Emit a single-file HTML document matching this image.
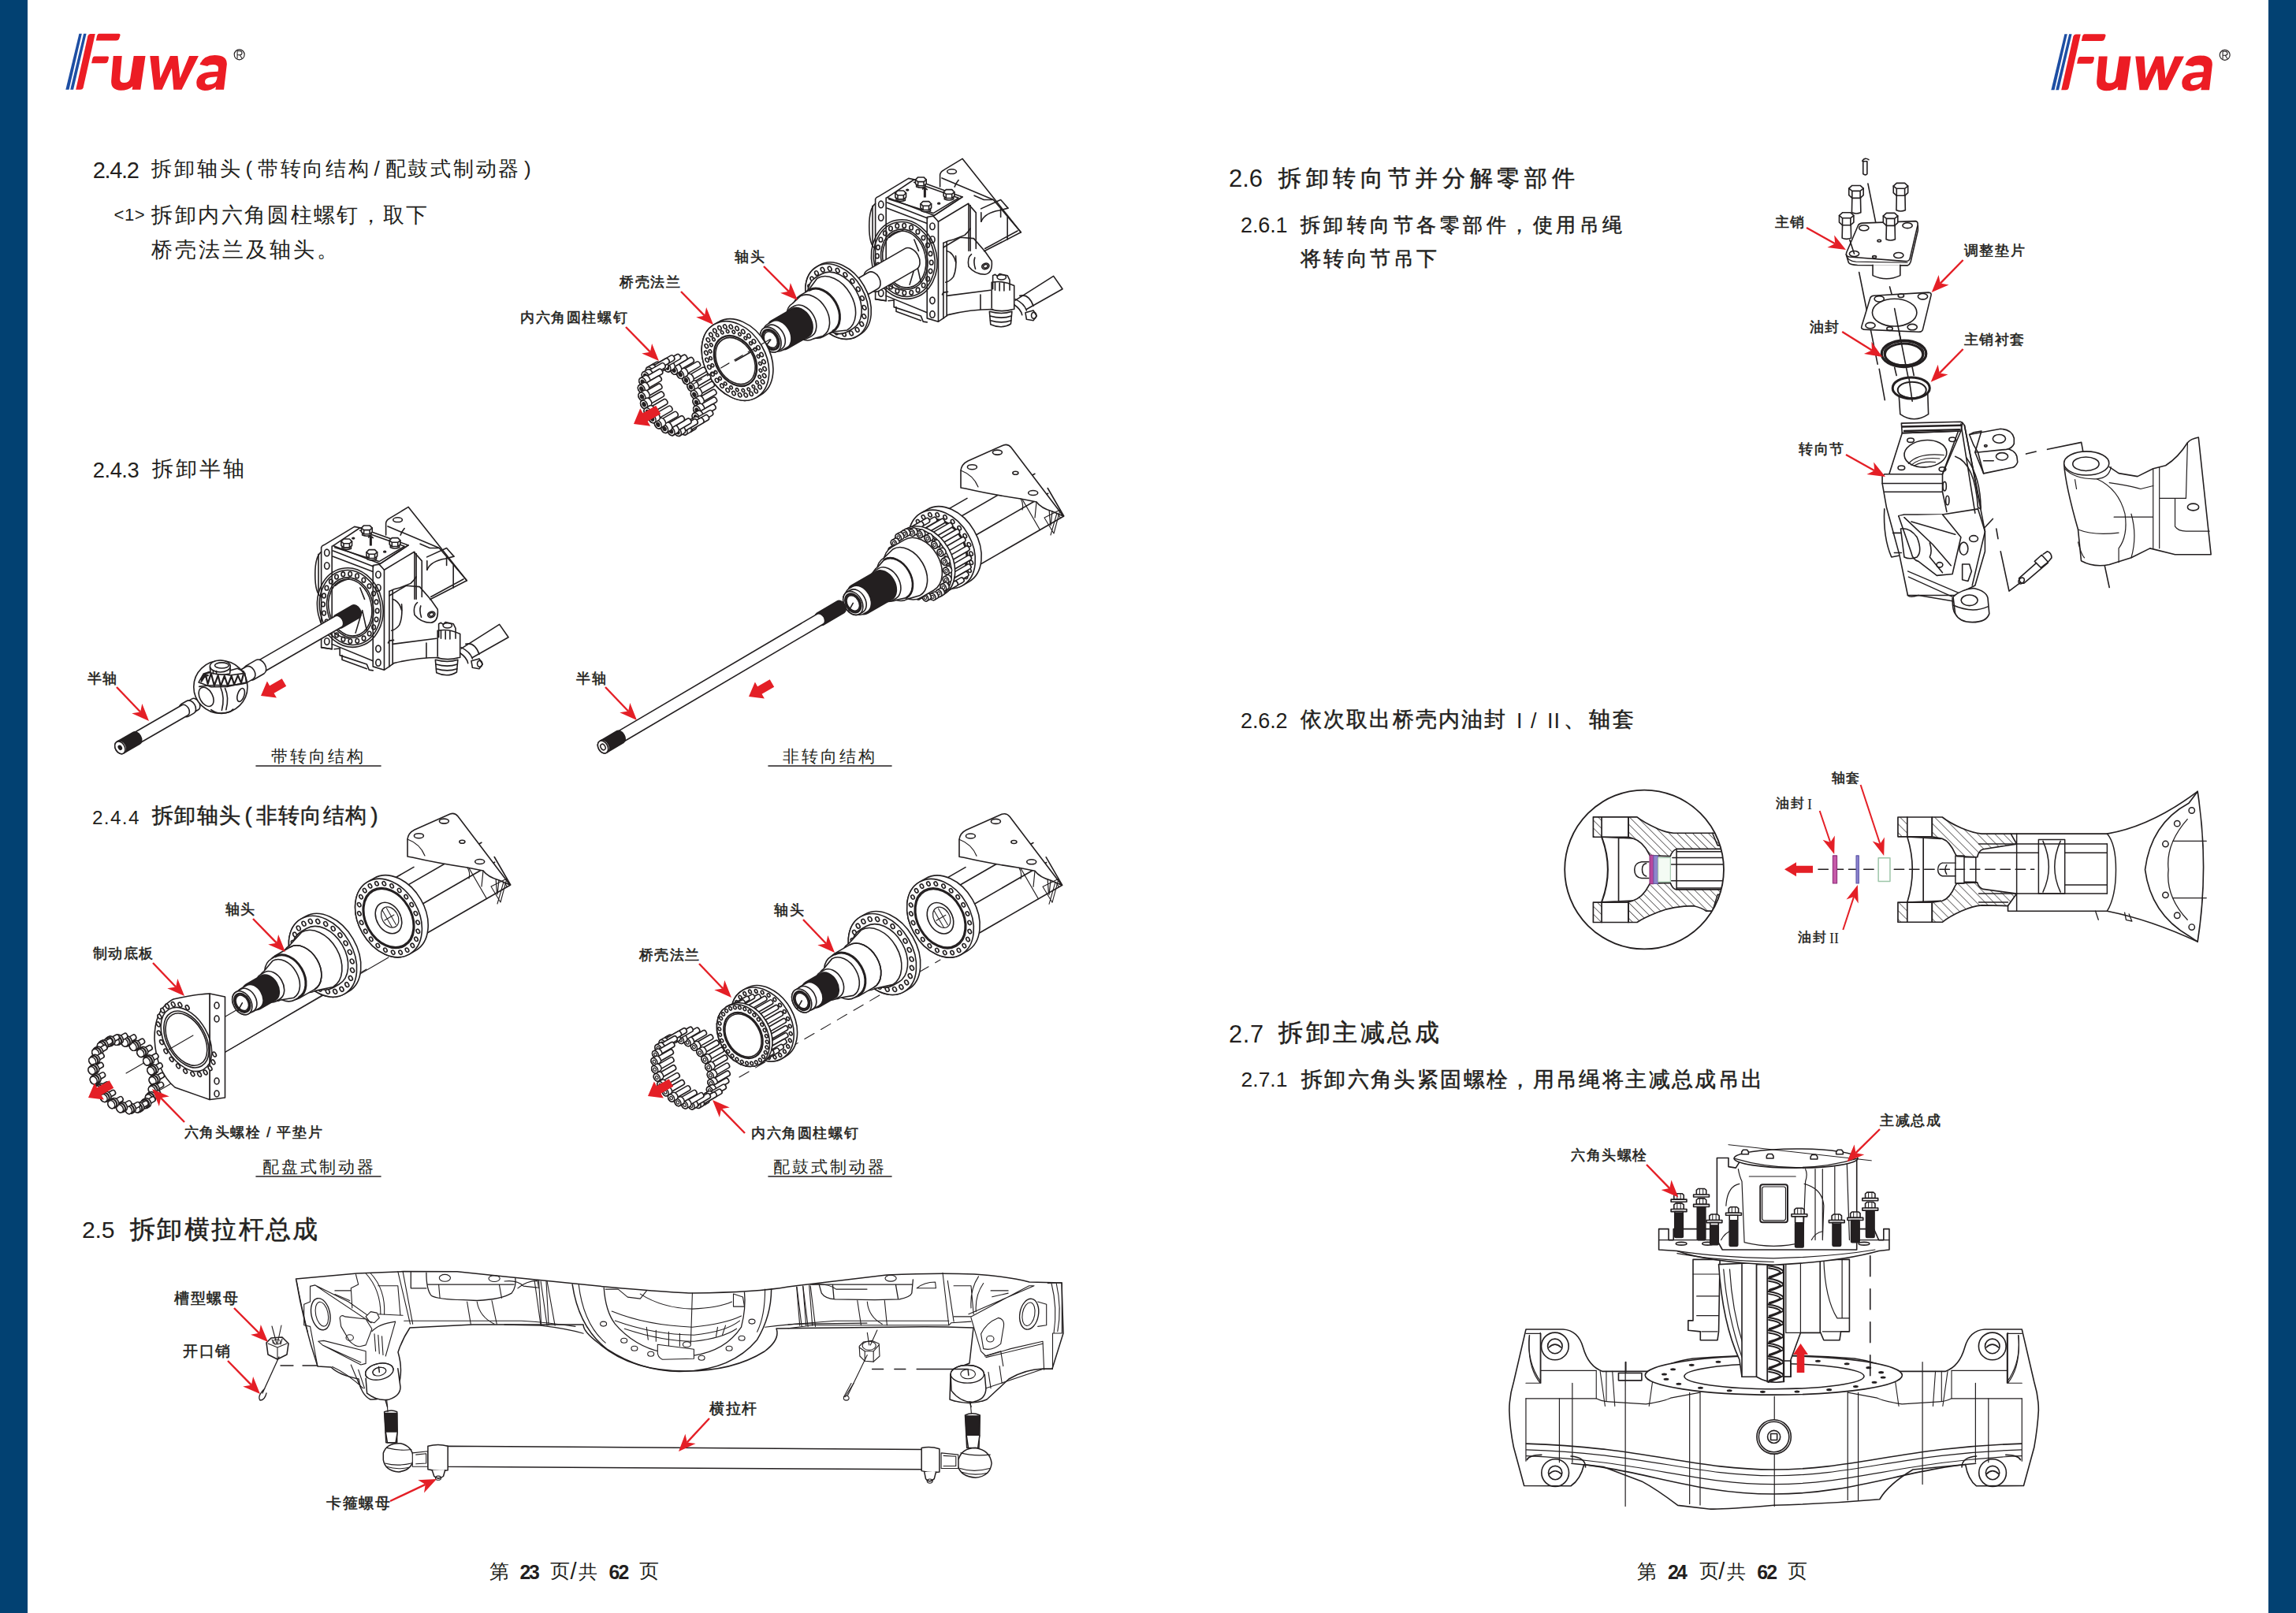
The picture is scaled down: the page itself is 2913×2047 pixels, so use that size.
<!DOCTYPE html>
<html><head><meta charset="utf-8">
<style>
html,body{margin:0;padding:0;}
body{width:2913px;height:2047px;position:relative;overflow:hidden;background:#fff;font-family:"Liberation Sans",sans-serif;color:#231f20;}
.bl{position:absolute;top:0;width:35px;height:2047px;background:#024172;}
.t{position:absolute;white-space:nowrap;line-height:1;}
.p{padding:0 4px;}
.h1{font-size:34px;}
.h2{font-size:28px;font-weight:300;}
.h2r{font-size:29px;}
.lab{font-size:18px;font-weight:bold;}
.pn{font-size:24px;font-weight:300;}
.pn b{font-weight:bold;}
svg{position:absolute;left:0;top:0;}
.ns *, #kb *{vector-effect:non-scaling-stroke;}
</style></head><body>
<div class="bl" style="left:0"></div>
<div class="bl" style="left:2878px"></div>

<!-- TEXT -->
<div class="t" style="left:117.8px;top:201.8px;font-size:29.03px;font-weight:400;letter-spacing:-1.35px">2.4.2</div>
<div class="t" style="left:192.4px;top:200.5px;font-size:26.10px;font-weight:300;letter-spacing:2.75px">拆卸轴头<span class="p">(</span>带转向结构<span class="p">/</span>配鼓式制动器<span class="p">)</span></div>
<div class="t" style="left:144.6px;top:261.8px;font-size:22.05px;font-weight:400;letter-spacing:0.45px">&lt;1&gt;</div>
<div class="t" style="left:192.4px;top:259.5px;font-size:26.93px;font-weight:300;letter-spacing:2.37px">拆卸内六角圆柱螺钉，取下</div>
<div class="t" style="left:192.4px;top:303.5px;font-size:26.93px;font-weight:300;letter-spacing:2.96px">桥壳法兰及轴头。</div>
<div class="t" style="left:117.8px;top:583.0px;font-size:27.28px;font-weight:400;letter-spacing:-0.45px">2.4.3</div>
<div class="t" style="left:193.0px;top:581.5px;font-size:26.93px;font-weight:300;letter-spacing:3.00px">拆卸半轴</div>
<div class="t" style="left:117.0px;top:1025.8px;font-size:24.30px;font-weight:400;letter-spacing:1.35px">2.4.4</div>
<div class="t" style="left:193.0px;top:1020.5px;font-size:27.10px;font-weight:400;letter-spacing:1.35px;-webkit-text-stroke:0.5px #231f20">拆卸轴头<span class="p">(</span>非转向结构<span class="p">)</span></div>
<div class="t" style="left:104.0px;top:1546.3px;font-size:30.16px;font-weight:400;letter-spacing:-0.23px">2.5</div>
<div class="t" style="left:165.0px;top:1545.0px;font-size:31.97px;font-weight:400;letter-spacing:2.40px;-webkit-text-stroke:0.5px #231f20">拆卸横拉杆总成</div>
<div class="t" style="left:1559.0px;top:211.3px;font-size:31.00px;font-weight:400;letter-spacing:0.00px">2.6</div>
<div class="t" style="left:1622.0px;top:212.0px;font-size:28.68px;font-weight:400;letter-spacing:5.67px;-webkit-text-stroke:0.5px #231f20">拆卸转向节并分解零部件</div>
<div class="t" style="left:1574.0px;top:272.8px;font-size:27.00px;font-weight:400;letter-spacing:-0.11px">2.6.1</div>
<div class="t" style="left:1650.0px;top:272.5px;font-size:25.10px;font-weight:400;letter-spacing:4.47px;-webkit-text-stroke:0.5px #231f20">拆卸转向节各零部件，使用吊绳</div>
<div class="t" style="left:1650.0px;top:314.5px;font-size:26.10px;font-weight:400;letter-spacing:3.42px;-webkit-text-stroke:0.5px #231f20">将转向节吊下</div>
<div class="t" style="left:1574.0px;top:901.8px;font-size:27.00px;font-weight:400;letter-spacing:-0.11px">2.6.2</div>
<div class="t" style="left:1650.0px;top:899.5px;font-size:26.93px;font-weight:400;letter-spacing:2.14px;-webkit-text-stroke:0.5px #231f20">依次取出桥壳内油封</div>
<div class="t" style="left:2016.0px;top:899.5px;font-size:26.93px;font-weight:400;letter-spacing:2.70px;-webkit-text-stroke:0.5px #231f20">轴套</div>
<div class="t" style="left:1559.0px;top:1298.3px;font-size:30.78px;font-weight:400;letter-spacing:0.68px">2.7</div>
<div class="t" style="left:1622.0px;top:1295.0px;font-size:31.42px;font-weight:400;letter-spacing:3.51px;-webkit-text-stroke:0.5px #231f20">拆卸主减总成</div>
<div class="t" style="left:1574.6px;top:1356.8px;font-size:26.44px;font-weight:400;letter-spacing:0.00px">2.7.1</div>
<div class="t" style="left:1651.0px;top:1355.5px;font-size:27.14px;font-weight:400;letter-spacing:2.37px;-webkit-text-stroke:0.5px #231f20">拆卸六角头紧固螺栓，用吊绳将主减总成吊出</div>
<div class="t" style="left:621.0px;top:1981.9px;font-size:24.88px;font-weight:300;letter-spacing:0.00px">第</div>
<div class="t" style="left:659.4px;top:1984.2px;font-size:24.85px;font-weight:700;letter-spacing:-2.25px">23</div>
<div class="t" style="left:698.2px;top:1980.9px;font-size:24.93px;font-weight:300;letter-spacing:0.00px">页</div>
<div class="t" style="left:723.4px;top:1980.1px;font-size:29.04px;font-weight:300;letter-spacing:0.00px">/</div>
<div class="t" style="left:734.4px;top:1982.9px;font-size:23.80px;font-weight:300;letter-spacing:0.00px">共</div>
<div class="t" style="left:772.6px;top:1984.2px;font-size:24.85px;font-weight:700;letter-spacing:-1.80px">62</div>
<div class="t" style="left:811.4px;top:1980.9px;font-size:24.93px;font-weight:300;letter-spacing:0.00px">页</div>
<div class="t" style="left:2077.0px;top:1981.9px;font-size:24.88px;font-weight:300;letter-spacing:0.00px">第</div>
<div class="t" style="left:2116.0px;top:1984.2px;font-size:24.85px;font-weight:700;letter-spacing:-2.70px">24</div>
<div class="t" style="left:2155.6px;top:1980.9px;font-size:24.93px;font-weight:300;letter-spacing:0.00px">页</div>
<div class="t" style="left:2180.2px;top:1980.1px;font-size:29.04px;font-weight:300;letter-spacing:0.00px">/</div>
<div class="t" style="left:2191.0px;top:1982.9px;font-size:23.80px;font-weight:300;letter-spacing:0.00px">共</div>
<div class="t" style="left:2229.2px;top:1984.2px;font-size:24.85px;font-weight:700;letter-spacing:-1.80px">62</div>
<div class="t" style="left:2268.0px;top:1980.9px;font-size:24.93px;font-weight:300;letter-spacing:0.00px">页</div>
<div class="t" style="left:1924px;top:901.8px;font-size:27px">I</div>
<div class="t" style="left:1942px;top:901.8px;font-size:27px">/</div>
<div class="t" style="left:1963px;top:901.8px;font-size:27px;letter-spacing:1px">II</div>
<div class="t" style="left:1984px;top:899.5px;font-size:26.93px;-webkit-text-stroke:0.5px #231f20">、</div>
<svg width="2913" height="2047" viewBox="0 0 2913 2047">
<defs><g id="kb"><path d="M-40,20 L-40,45 Q0,62 40,45 L40,20" fill="#fff"/><path d="M-48,-18 L-26,-40 L26,-40 L48,-18 L48,18 L26,36 L-26,36 L-48,18 Z" fill="#fff"/><path d="M-48,-18 L-26,0 L26,0 L48,-18 M-26,0 L-26,36 M26,0 L26,36"/></g></defs>
<g fill="none" stroke="#231f20" stroke-width="1.6" stroke-linejoin="round" stroke-linecap="round">
<g transform="translate(1060,190) scale(0.142592)" class="ns"><g>
<!-- top bracket -->
<path d="M930,330 L930,222 Q935,195 965,180 L1130,80 L1650,735 L1323,903"/>
<path d="M947,252 L1405,446 L1650,735"/>
<path d="M1060,330 Q1070,300 1095,270"/>
<path d="M1235,408 L1320,445 L1400,445"/>
<path d="M1295,525 L1470,445 L1535,520"/>
<path d="M1296,640 Q1330,560 1460,540 L1535,520"/>
<path d="M1296,640 L1296,560"/>
<path d="M1470,525 L1470,600 M1530,600 L1530,800 M1330,880 L1620,722"/>
<ellipse cx="1035" cy="194" rx="41" ry="20"/>
<!-- left flange plate -->
<path d="M355,1330 L355,440 Q360,425 380,418 L650,255 L700,265 L460,425 L450,430 L450,1345 Z"/>
<path d="M355,1330 L450,1345"/>
<ellipse cx="405" cy="487" rx="22" ry="30"/>
<ellipse cx="405" cy="603" rx="22" ry="30"/>
<ellipse cx="405" cy="1277" rx="22" ry="30"/>
<path d="M355,480 Q300,520 300,680 Q300,850 355,880"/>
<path d="M330,500 L330,860"/>
<!-- top face -->
<path d="M700,265 L1130,420 L880,585 L460,425"/>
<path d="M700,290 L1095,430 L870,565 L475,440"/>
<path d="M460,470 L820,610 M460,520 L815,655"/>
<!-- bolts on top -->

<use href="#kb" x="760" y="285"/>
<use href="#kb" x="580" y="405"/>
<use href="#kb" x="1010" y="395"/>
<use href="#kb" x="805" y="500"/>
<path d="M790,350 L790,420 M800,350 L800,420 M775,350 Q795,330 815,355"/>
<ellipse cx="640" cy="358" rx="10" ry="6"/>
<ellipse cx="920" cy="478" rx="10" ry="6"/>
<!-- front right flange plate -->
<path d="M815,600 L870,590 L915,640 L915,1530 L815,1500 Z"/>
<ellipse cx="862" cy="682" rx="22" ry="30"/>
<ellipse cx="862" cy="800" rx="22" ry="30"/>
<ellipse cx="862" cy="1342" rx="22" ry="30"/>
<ellipse cx="862" cy="1465" rx="22" ry="30"/>
<!-- right side face -->
<path d="M915,640 L1180,480 M880,585 L1130,420 M1180,480 L1250,560 L1250,880"/>
<path d="M1185,480 L1185,900 M1200,495 L1200,900"/>
<!-- big flange ring on front -->
<ellipse cx="612" cy="975" rx="290" ry="355" transform="rotate(-12 612 975)"/>
<ellipse cx="612" cy="975" rx="270" ry="335" transform="rotate(-12 612 975)"/>
<ellipse cx="612" cy="975" rx="205" ry="270" transform="rotate(-12 612 975)"/>
<ellipse cx="612" cy="975" rx="190" ry="255" transform="rotate(-12 612 975)"/>
<ellipse cx="844.8" cy="925.5" rx="16" ry="20"/>
<ellipse cx="853.2" cy="1003.9" rx="16" ry="20"/>
<ellipse cx="845.1" cy="1080.3" rx="16" ry="20"/>
<ellipse cx="821.2" cy="1149.6" rx="16" ry="20"/>
<ellipse cx="783.0" cy="1206.9" rx="16" ry="20"/>
<ellipse cx="733.1" cy="1248.5" rx="16" ry="20"/>
<ellipse cx="675.0" cy="1271.4" rx="16" ry="20"/>
<ellipse cx="612.6" cy="1274.1" rx="16" ry="20"/>
<ellipse cx="550.2" cy="1256.4" rx="16" ry="20"/>
<ellipse cx="491.9" cy="1219.6" rx="16" ry="20"/>
<ellipse cx="441.9" cy="1166.0" rx="16" ry="20"/>
<ellipse cx="403.4" cy="1099.5" rx="16" ry="20"/>
<ellipse cx="379.2" cy="1024.5" rx="16" ry="20"/>
<ellipse cx="370.8" cy="946.1" rx="16" ry="20"/>
<ellipse cx="378.9" cy="869.7" rx="16" ry="20"/>
<ellipse cx="402.8" cy="800.4" rx="16" ry="20"/>
<ellipse cx="441.0" cy="743.1" rx="16" ry="20"/>
<ellipse cx="490.9" cy="701.5" rx="16" ry="20"/>
<ellipse cx="549.0" cy="678.6" rx="16" ry="20"/>
<ellipse cx="611.4" cy="675.9" rx="16" ry="20"/>
<ellipse cx="673.8" cy="693.6" rx="16" ry="20"/>
<ellipse cx="732.1" cy="730.4" rx="16" ry="20"/>
<ellipse cx="782.1" cy="784.0" rx="16" ry="20"/>
<ellipse cx="820.6" cy="850.5" rx="16" ry="20"/>
<path d="M480,780 Q520,740 600,720 M470,1200 Q520,1240 600,1250"/>
<path d="M660,1200 L720,1000 L760,1180 M700,800 L740,900"/>
<!-- bottom -->
<path d="M450,1300 L815,1450 M470,1345 L520,1340 L520,1400 L760,1480 L780,1530 L815,1535"/>
<path d="M540,1400 L540,1440 L760,1520"/>
<!-- lower body / steering arm -->
<path d="M915,1530 L960,1500 L1000,1470 Q1200,1420 1400,1420"/>
<path d="M960,830 L960,1500 M990,820 L990,1480"/>
<path d="M960,830 Q1000,810 1050,800 L1150,760 Q1190,720 1200,700"/>
<path d="M990,1300 L1380,1250"/>
<path d="M950,1290 L960,1270 L1000,1265"/>
<path d="M1290,1290 L1290,1420"/>
<path d="M1070,945 Q1080,1060 1050,1130 Q1020,1170 980,1180"/>
<path d="M990,900 Q1050,920 1070,1000"/>
<path d="M960,870 L1110,780 L1230,790 L1330,905 L1390,990 Q1400,1100 1330,1110 Q1240,1110 1185,1040 Q1170,960 1210,930"/>
<ellipse cx="1335" cy="1037" rx="33" ry="26" transform="rotate(-20 1335 1037)"/>
<ellipse cx="1335" cy="1037" rx="20" ry="15" transform="rotate(-20 1335 1037)"/>
<path d="M1240,960 Q1225,1000 1245,1060"/>
<!-- tie rod end -->
<path d="M1390,1180 L1390,1410 M1590,1210 L1590,1420 M1390,1180 Q1490,1160 1590,1210"/>
<path d="M1400,1240 L1400,1120 L1420,1110 L1440,1125 L1460,1105 L1530,1120 L1550,1160 L1550,1250"/>
<ellipse cx="1478" cy="1135" rx="40" ry="22"/>
<path d="M1420,1180 L1420,1250 M1460,1185 L1460,1255 M1500,1185 L1500,1255"/>
<path d="M1370,1440 Q1480,1470 1570,1440 L1560,1550 Q1480,1600 1380,1555 Z"/>
<path d="M1375,1480 Q1480,1510 1565,1480 M1378,1520 Q1480,1550 1563,1520"/>
<path d="M1380,1420 Q1480,1450 1580,1420"/>
<!-- tie rod tube -->
<path d="M1600,1340 L1940,1125 L2020,1240 L1700,1420"/>
<path d="M1640,1300 Q1720,1280 1760,1390"/>
<path d="M1600,1330 Q1680,1370 1700,1430 M1590,1380 Q1650,1420 1660,1470"/>
<path d="M1690,1450 L1760,1430 L1790,1480 L1760,1520 L1700,1510 Z"/>
<ellipse cx="1765" cy="1475" rx="22" ry="28"/>
</g>
</g>
<g transform="translate(357,632) scale(0.142592)" class="ns"><g>
<!-- top bracket -->
<path d="M930,330 L930,222 Q935,195 965,180 L1130,80 L1650,735 L1323,903"/>
<path d="M947,252 L1405,446 L1650,735"/>
<path d="M1060,330 Q1070,300 1095,270"/>
<path d="M1235,408 L1320,445 L1400,445"/>
<path d="M1295,525 L1470,445 L1535,520"/>
<path d="M1296,640 Q1330,560 1460,540 L1535,520"/>
<path d="M1296,640 L1296,560"/>
<path d="M1470,525 L1470,600 M1530,600 L1530,800 M1330,880 L1620,722"/>
<ellipse cx="1035" cy="194" rx="41" ry="20"/>
<!-- left flange plate -->
<path d="M355,1330 L355,440 Q360,425 380,418 L650,255 L700,265 L460,425 L450,430 L450,1345 Z"/>
<path d="M355,1330 L450,1345"/>
<ellipse cx="405" cy="487" rx="22" ry="30"/>
<ellipse cx="405" cy="603" rx="22" ry="30"/>
<ellipse cx="405" cy="1277" rx="22" ry="30"/>
<path d="M355,480 Q300,520 300,680 Q300,850 355,880"/>
<path d="M330,500 L330,860"/>
<!-- top face -->
<path d="M700,265 L1130,420 L880,585 L460,425"/>
<path d="M700,290 L1095,430 L870,565 L475,440"/>
<path d="M460,470 L820,610 M460,520 L815,655"/>
<!-- bolts on top -->

<use href="#kb" x="760" y="285"/>
<use href="#kb" x="580" y="405"/>
<use href="#kb" x="1010" y="395"/>
<use href="#kb" x="805" y="500"/>
<path d="M790,350 L790,420 M800,350 L800,420 M775,350 Q795,330 815,355"/>
<ellipse cx="640" cy="358" rx="10" ry="6"/>
<ellipse cx="920" cy="478" rx="10" ry="6"/>
<!-- front right flange plate -->
<path d="M815,600 L870,590 L915,640 L915,1530 L815,1500 Z"/>
<ellipse cx="862" cy="682" rx="22" ry="30"/>
<ellipse cx="862" cy="800" rx="22" ry="30"/>
<ellipse cx="862" cy="1342" rx="22" ry="30"/>
<ellipse cx="862" cy="1465" rx="22" ry="30"/>
<!-- right side face -->
<path d="M915,640 L1180,480 M880,585 L1130,420 M1180,480 L1250,560 L1250,880"/>
<path d="M1185,480 L1185,900 M1200,495 L1200,900"/>
<!-- big flange ring on front -->
<ellipse cx="612" cy="975" rx="290" ry="355" transform="rotate(-12 612 975)"/>
<ellipse cx="612" cy="975" rx="270" ry="335" transform="rotate(-12 612 975)"/>
<ellipse cx="612" cy="975" rx="205" ry="270" transform="rotate(-12 612 975)"/>
<ellipse cx="612" cy="975" rx="190" ry="255" transform="rotate(-12 612 975)"/>
<ellipse cx="844.8" cy="925.5" rx="16" ry="20"/>
<ellipse cx="853.2" cy="1003.9" rx="16" ry="20"/>
<ellipse cx="845.1" cy="1080.3" rx="16" ry="20"/>
<ellipse cx="821.2" cy="1149.6" rx="16" ry="20"/>
<ellipse cx="783.0" cy="1206.9" rx="16" ry="20"/>
<ellipse cx="733.1" cy="1248.5" rx="16" ry="20"/>
<ellipse cx="675.0" cy="1271.4" rx="16" ry="20"/>
<ellipse cx="612.6" cy="1274.1" rx="16" ry="20"/>
<ellipse cx="550.2" cy="1256.4" rx="16" ry="20"/>
<ellipse cx="491.9" cy="1219.6" rx="16" ry="20"/>
<ellipse cx="441.9" cy="1166.0" rx="16" ry="20"/>
<ellipse cx="403.4" cy="1099.5" rx="16" ry="20"/>
<ellipse cx="379.2" cy="1024.5" rx="16" ry="20"/>
<ellipse cx="370.8" cy="946.1" rx="16" ry="20"/>
<ellipse cx="378.9" cy="869.7" rx="16" ry="20"/>
<ellipse cx="402.8" cy="800.4" rx="16" ry="20"/>
<ellipse cx="441.0" cy="743.1" rx="16" ry="20"/>
<ellipse cx="490.9" cy="701.5" rx="16" ry="20"/>
<ellipse cx="549.0" cy="678.6" rx="16" ry="20"/>
<ellipse cx="611.4" cy="675.9" rx="16" ry="20"/>
<ellipse cx="673.8" cy="693.6" rx="16" ry="20"/>
<ellipse cx="732.1" cy="730.4" rx="16" ry="20"/>
<ellipse cx="782.1" cy="784.0" rx="16" ry="20"/>
<ellipse cx="820.6" cy="850.5" rx="16" ry="20"/>
<path d="M480,780 Q520,740 600,720 M470,1200 Q520,1240 600,1250"/>
<path d="M660,1200 L720,1000 L760,1180 M700,800 L740,900"/>
<!-- bottom -->
<path d="M450,1300 L815,1450 M470,1345 L520,1340 L520,1400 L760,1480 L780,1530 L815,1535"/>
<path d="M540,1400 L540,1440 L760,1520"/>
<!-- lower body / steering arm -->
<path d="M915,1530 L960,1500 L1000,1470 Q1200,1420 1400,1420"/>
<path d="M960,830 L960,1500 M990,820 L990,1480"/>
<path d="M960,830 Q1000,810 1050,800 L1150,760 Q1190,720 1200,700"/>
<path d="M990,1300 L1380,1250"/>
<path d="M950,1290 L960,1270 L1000,1265"/>
<path d="M1290,1290 L1290,1420"/>
<path d="M1070,945 Q1080,1060 1050,1130 Q1020,1170 980,1180"/>
<path d="M990,900 Q1050,920 1070,1000"/>
<path d="M960,870 L1110,780 L1230,790 L1330,905 L1390,990 Q1400,1100 1330,1110 Q1240,1110 1185,1040 Q1170,960 1210,930"/>
<ellipse cx="1335" cy="1037" rx="33" ry="26" transform="rotate(-20 1335 1037)"/>
<ellipse cx="1335" cy="1037" rx="20" ry="15" transform="rotate(-20 1335 1037)"/>
<path d="M1240,960 Q1225,1000 1245,1060"/>
<!-- tie rod end -->
<path d="M1390,1180 L1390,1410 M1590,1210 L1590,1420 M1390,1180 Q1490,1160 1590,1210"/>
<path d="M1400,1240 L1400,1120 L1420,1110 L1440,1125 L1460,1105 L1530,1120 L1550,1160 L1550,1250"/>
<ellipse cx="1478" cy="1135" rx="40" ry="22"/>
<path d="M1420,1180 L1420,1250 M1460,1185 L1460,1255 M1500,1185 L1500,1255"/>
<path d="M1370,1440 Q1480,1470 1570,1440 L1560,1550 Q1480,1600 1380,1555 Z"/>
<path d="M1375,1480 Q1480,1510 1565,1480 M1378,1520 Q1480,1550 1563,1520"/>
<path d="M1380,1420 Q1480,1450 1580,1420"/>
<!-- tie rod tube -->
<path d="M1600,1340 L1940,1125 L2020,1240 L1700,1420"/>
<path d="M1640,1300 Q1720,1280 1760,1390"/>
<path d="M1600,1330 Q1680,1370 1700,1430 M1590,1380 Q1650,1420 1660,1470"/>
<path d="M1690,1450 L1760,1430 L1790,1480 L1760,1520 L1700,1510 Z"/>
<ellipse cx="1765" cy="1475" rx="22" ry="28"/>
</g>
</g>
<g transform="translate(80,38) scale(0.104526)">
<path d="M195,45 L228,45 L72,725 L32,725 Z" fill="#1d4ea3" stroke="none"/>
<path d="M250,45 L283,45 L125,725 L88,725 Z" fill="#1d4ea3" stroke="none"/>
<path d="M330,48 L390,48 L245,700 Q238,725 210,725 L155,725 L300,75 Q308,50 330,48 Z" fill="#ec1c24" stroke="none"/>
<path d="M435,45 L675,45 Q700,48 692,72 L680,108 Q670,130 645,130 L400,130 L412,72 Q420,47 435,45 Z" fill="#ec1c24" stroke="none"/>
<path d="M380,320 L540,320 Q560,322 553,345 L545,380 Q535,405 510,405 L345,405 L358,345 Q364,322 380,320 Z" fill="#ec1c24" stroke="none"/>
<path d="M610,315 L715,315 L690,590 Q688,640 740,640 Q800,640 815,590 L858,315 L1000,315 L940,725 L838,725 L845,685 Q790,735 700,735 Q580,730 585,620 Z" fill="#ec1c24" stroke="none"/>
<path d="M1055,315 L1162,315 L1180,585 L1300,315 L1392,315 L1420,585 L1532,315 L1645,315 L1440,725 L1342,725 L1320,465 L1202,725 L1105,725 Z" fill="#ec1c24" stroke="none"/>
<path fill-rule="evenodd" d="M1660,420 Q1700,308 1840,305 Q1995,305 1988,420 L1952,725 L1850,725 L1856,688 Q1800,736 1720,736 Q1612,730 1620,630 Q1630,520 1790,510 L1880,505 L1885,470 Q1890,420 1820,420 Q1765,420 1752,440 Z M1872,568 L1792,575 Q1722,585 1722,630 Q1724,668 1762,666 Q1852,660 1866,600 Z" fill="#ec1c24" stroke="none"/>
<circle cx="2140" cy="300" r="62" fill="none" stroke="#231f20" stroke-width="11"/>
<path d="M2115,345 L2115,255 L2148,255 Q2172,258 2172,280 Q2172,302 2148,303 L2115,303 M2145,303 L2172,345" fill="none" stroke="#231f20" stroke-width="10"/>
</g>
<g transform="translate(2599,38.5) scale(0.104526)">
<path d="M195,45 L228,45 L72,725 L32,725 Z" fill="#1d4ea3" stroke="none"/>
<path d="M250,45 L283,45 L125,725 L88,725 Z" fill="#1d4ea3" stroke="none"/>
<path d="M330,48 L390,48 L245,700 Q238,725 210,725 L155,725 L300,75 Q308,50 330,48 Z" fill="#ec1c24" stroke="none"/>
<path d="M435,45 L675,45 Q700,48 692,72 L680,108 Q670,130 645,130 L400,130 L412,72 Q420,47 435,45 Z" fill="#ec1c24" stroke="none"/>
<path d="M380,320 L540,320 Q560,322 553,345 L545,380 Q535,405 510,405 L345,405 L358,345 Q364,322 380,320 Z" fill="#ec1c24" stroke="none"/>
<path d="M610,315 L715,315 L690,590 Q688,640 740,640 Q800,640 815,590 L858,315 L1000,315 L940,725 L838,725 L845,685 Q790,735 700,735 Q580,730 585,620 Z" fill="#ec1c24" stroke="none"/>
<path d="M1055,315 L1162,315 L1180,585 L1300,315 L1392,315 L1420,585 L1532,315 L1645,315 L1440,725 L1342,725 L1320,465 L1202,725 L1105,725 Z" fill="#ec1c24" stroke="none"/>
<path fill-rule="evenodd" d="M1660,420 Q1700,308 1840,305 Q1995,305 1988,420 L1952,725 L1850,725 L1856,688 Q1800,736 1720,736 Q1612,730 1620,630 Q1630,520 1790,510 L1880,505 L1885,470 Q1890,420 1820,420 Q1765,420 1752,440 Z M1872,568 L1792,575 Q1722,585 1722,630 Q1724,668 1762,666 Q1852,660 1866,600 Z" fill="#ec1c24" stroke="none"/>
<circle cx="2140" cy="300" r="62" fill="none" stroke="#231f20" stroke-width="11"/>
<path d="M2115,345 L2115,255 L2148,255 Q2172,258 2172,280 Q2172,302 2148,303 L2115,303 M2145,303 L2172,345" fill="none" stroke="#231f20" stroke-width="10"/>
</g>
<g transform="translate(977.8,431.1) rotate(-30)"><path d="M205.0,-15.0 A10.5,15.0 0 0 1 205.0,15.0 L150.0,15.0 A10.5,15.0 0 0 1 150.0,-15.0 Z" fill="#fff" /><path d="M150.0,-12.0 A8.4,12.0 0 0 1 150.0,12.0 L101.0,12.0 A8.4,12.0 0 0 1 101.0,-12.0 Z" fill="#fff" /><path d="M101.0,-51.0 A35.7,51.0 0 0 1 101.0,51.0 L97.0,51.0 A35.7,51.0 0 0 1 97.0,-51.0 Z" fill="#fff" /><ellipse cx="97.0" cy="0" rx="35.7" ry="51.0" fill="#fff" /><ellipse cx="128.2" cy="0.0" rx="2.1" ry="3.0" fill="#fff"/><ellipse cx="126.9" cy="12.5" rx="2.1" ry="3.0" fill="#fff"/><ellipse cx="123.2" cy="24.1" rx="2.1" ry="3.0" fill="#fff"/><ellipse cx="117.4" cy="33.6" rx="2.1" ry="3.0" fill="#fff"/><ellipse cx="109.9" cy="40.5" rx="2.1" ry="3.0" fill="#fff"/><ellipse cx="101.4" cy="44.0" rx="2.1" ry="3.0" fill="#fff"/><ellipse cx="92.6" cy="44.0" rx="2.1" ry="3.0" fill="#fff"/><ellipse cx="84.1" cy="40.5" rx="2.1" ry="3.0" fill="#fff"/><ellipse cx="76.6" cy="33.6" rx="2.1" ry="3.0" fill="#fff"/><ellipse cx="70.8" cy="24.1" rx="2.1" ry="3.0" fill="#fff"/><ellipse cx="67.1" cy="12.5" rx="2.1" ry="3.0" fill="#fff"/><ellipse cx="65.8" cy="0.0" rx="2.1" ry="3.0" fill="#fff"/><ellipse cx="67.1" cy="-12.5" rx="2.1" ry="3.0" fill="#fff"/><ellipse cx="70.8" cy="-24.1" rx="2.1" ry="3.0" fill="#fff"/><ellipse cx="76.6" cy="-33.6" rx="2.1" ry="3.0" fill="#fff"/><ellipse cx="84.1" cy="-40.5" rx="2.1" ry="3.0" fill="#fff"/><ellipse cx="92.6" cy="-44.0" rx="2.1" ry="3.0" fill="#fff"/><ellipse cx="101.4" cy="-44.0" rx="2.1" ry="3.0" fill="#fff"/><ellipse cx="109.9" cy="-40.5" rx="2.1" ry="3.0" fill="#fff"/><ellipse cx="117.4" cy="-33.6" rx="2.1" ry="3.0" fill="#fff"/><ellipse cx="123.2" cy="-24.1" rx="2.1" ry="3.0" fill="#fff"/><ellipse cx="126.9" cy="-12.5" rx="2.1" ry="3.0" fill="#fff"/><ellipse cx="97.0" cy="0" rx="26.2" ry="37.5" fill="none" /><ellipse cx="97.0" cy="0" rx="25.2" ry="36.0" fill="none" stroke-width="2.6"/><path d="M97.0,-40.0 A28.0,40.0 0 0 1 97.0,40.0 L90.0,40.0 A28.0,40.0 0 0 1 90.0,-40.0 Z" fill="#fff" /><path d="M90.0,-38.0 A26.6,38.0 0 0 1 90.0,38.0 L74.0,31.0 A21.7,31.0 0 0 1 74.0,-31.0 Z" fill="#fff" /><path d="M74.0,-30.0 A21.0,30.0 0 0 1 74.0,30.0 L60.0,30.0 A21.0,30.0 0 0 1 60.0,-30.0 Z" fill="#fff" /><path d="M74.0,-30.0 A21.0,30.0 0 0 1 74.0,30.0" fill="none" stroke-width="3"/><path d="M60.0,-29.0 A20.3,29.0 0 0 1 60.0,29.0 L47.0,26.0 A18.2,26.0 0 0 1 47.0,-26.0 Z" fill="#fff" /><path d="M47.0,-22.0 A15.4,22.0 0 0 1 47.0,22.0 L43.0,22.0 A15.4,22.0 0 0 1 43.0,-22.0 Z" fill="#fff" /><path d="M43.0,-20.5 A14.3,20.5 0 0 1 43.0,20.5 L13.0,20.5 A14.3,20.5 0 0 1 13.0,-20.5 Z" fill="#231f20" /><path d="M13.0,-19.0 A13.3,19.0 0 0 1 13.0,19.0 L6.0,19.0 A13.3,19.0 0 0 1 6.0,-19.0 Z" fill="#fff" /><path d="M6.0,-17.0 A11.9,17.0 0 0 1 6.0,17.0 L0.0,17.0 A11.9,17.0 0 0 1 0.0,-17.0 Z" fill="#fff" /><ellipse cx="0.0" cy="0" rx="11.9" ry="17.0" fill="#fff" /><ellipse cx="0.0" cy="0" rx="9.4" ry="13.5" fill="none" stroke-width="3"/><ellipse cx="0.0" cy="0" rx="7.7" ry="11.0" fill="none" /><line x1="0" y1="0" x2="-14" y2="6"/></g>
<g transform="translate(933.0,458.0) rotate(-30)"><path d="M6.0,-53.5 A38.5,53.5 0 0 1 6.0,53.5 L0.0,53.5 A38.5,53.5 0 0 1 0.0,-53.5 Z" fill="#fff" /><ellipse cx="0.0" cy="0" rx="38.5" ry="53.5" fill="#fff" /><ellipse cx="33.5" cy="0.0" rx="2.0" ry="2.8" fill="#fff"/><ellipse cx="32.7" cy="9.7" rx="2.0" ry="2.8" fill="#fff"/><ellipse cx="30.6" cy="18.9" rx="2.0" ry="2.8" fill="#fff"/><ellipse cx="27.1" cy="27.3" rx="2.0" ry="2.8" fill="#fff"/><ellipse cx="22.4" cy="34.6" rx="2.0" ry="2.8" fill="#fff"/><ellipse cx="16.7" cy="40.3" rx="2.0" ry="2.8" fill="#fff"/><ellipse cx="10.3" cy="44.2" rx="2.0" ry="2.8" fill="#fff"/><ellipse cx="3.5" cy="46.2" rx="2.0" ry="2.8" fill="#fff"/><ellipse cx="-3.5" cy="46.2" rx="2.0" ry="2.8" fill="#fff"/><ellipse cx="-10.3" cy="44.2" rx="2.0" ry="2.8" fill="#fff"/><ellipse cx="-16.7" cy="40.3" rx="2.0" ry="2.8" fill="#fff"/><ellipse cx="-22.4" cy="34.6" rx="2.0" ry="2.8" fill="#fff"/><ellipse cx="-27.1" cy="27.3" rx="2.0" ry="2.8" fill="#fff"/><ellipse cx="-30.6" cy="18.9" rx="2.0" ry="2.8" fill="#fff"/><ellipse cx="-32.7" cy="9.7" rx="2.0" ry="2.8" fill="#fff"/><ellipse cx="-33.5" cy="0.0" rx="2.0" ry="2.8" fill="#fff"/><ellipse cx="-32.7" cy="-9.7" rx="2.0" ry="2.8" fill="#fff"/><ellipse cx="-30.6" cy="-18.9" rx="2.0" ry="2.8" fill="#fff"/><ellipse cx="-27.1" cy="-27.3" rx="2.0" ry="2.8" fill="#fff"/><ellipse cx="-22.4" cy="-34.6" rx="2.0" ry="2.8" fill="#fff"/><ellipse cx="-16.7" cy="-40.3" rx="2.0" ry="2.8" fill="#fff"/><ellipse cx="-10.3" cy="-44.2" rx="2.0" ry="2.8" fill="#fff"/><ellipse cx="-3.5" cy="-46.2" rx="2.0" ry="2.8" fill="#fff"/><ellipse cx="3.5" cy="-46.2" rx="2.0" ry="2.8" fill="#fff"/><ellipse cx="10.3" cy="-44.2" rx="2.0" ry="2.8" fill="#fff"/><ellipse cx="16.7" cy="-40.3" rx="2.0" ry="2.8" fill="#fff"/><ellipse cx="22.4" cy="-34.6" rx="2.0" ry="2.8" fill="#fff"/><ellipse cx="27.1" cy="-27.3" rx="2.0" ry="2.8" fill="#fff"/><ellipse cx="30.6" cy="-18.9" rx="2.0" ry="2.8" fill="#fff"/><ellipse cx="32.7" cy="-9.7" rx="2.0" ry="2.8" fill="#fff"/><ellipse cx="28.8" cy="0.0" rx="1.6" ry="2.2" fill="#fff"/><ellipse cx="28.0" cy="9.6" rx="1.6" ry="2.2" fill="#fff"/><ellipse cx="25.5" cy="18.6" rx="1.6" ry="2.2" fill="#fff"/><ellipse cx="21.6" cy="26.5" rx="1.6" ry="2.2" fill="#fff"/><ellipse cx="16.4" cy="32.9" rx="1.6" ry="2.2" fill="#fff"/><ellipse cx="10.2" cy="37.4" rx="1.6" ry="2.2" fill="#fff"/><ellipse cx="3.5" cy="39.7" rx="1.6" ry="2.2" fill="#fff"/><ellipse cx="-3.5" cy="39.7" rx="1.6" ry="2.2" fill="#fff"/><ellipse cx="-10.2" cy="37.4" rx="1.6" ry="2.2" fill="#fff"/><ellipse cx="-16.4" cy="32.9" rx="1.6" ry="2.2" fill="#fff"/><ellipse cx="-21.6" cy="26.5" rx="1.6" ry="2.2" fill="#fff"/><ellipse cx="-25.5" cy="18.6" rx="1.6" ry="2.2" fill="#fff"/><ellipse cx="-28.0" cy="9.6" rx="1.6" ry="2.2" fill="#fff"/><ellipse cx="-28.8" cy="-0.0" rx="1.6" ry="2.2" fill="#fff"/><ellipse cx="-28.0" cy="-9.6" rx="1.6" ry="2.2" fill="#fff"/><ellipse cx="-25.5" cy="-18.6" rx="1.6" ry="2.2" fill="#fff"/><ellipse cx="-21.6" cy="-26.5" rx="1.6" ry="2.2" fill="#fff"/><ellipse cx="-16.4" cy="-32.9" rx="1.6" ry="2.2" fill="#fff"/><ellipse cx="-10.2" cy="-37.4" rx="1.6" ry="2.2" fill="#fff"/><ellipse cx="-3.5" cy="-39.7" rx="1.6" ry="2.2" fill="#fff"/><ellipse cx="3.5" cy="-39.7" rx="1.6" ry="2.2" fill="#fff"/><ellipse cx="10.2" cy="-37.4" rx="1.6" ry="2.2" fill="#fff"/><ellipse cx="16.4" cy="-32.9" rx="1.6" ry="2.2" fill="#fff"/><ellipse cx="21.6" cy="-26.5" rx="1.6" ry="2.2" fill="#fff"/><ellipse cx="25.5" cy="-18.6" rx="1.6" ry="2.2" fill="#fff"/><ellipse cx="28.0" cy="-9.6" rx="1.6" ry="2.2" fill="#fff"/><ellipse cx="0.0" cy="0" rx="24.5" ry="34.0" fill="none" stroke-width="2.4"/><ellipse cx="0.0" cy="0" rx="22.7" ry="31.5" fill="none" /><line x1="0" y1="0" x2="22" y2="0"/></g>
<g transform="translate(849.0,507.0) rotate(-30)"><g transform="translate(31.7,0.0)"><path d="M26.0,-3.6 A2.6,3.6 0 0 1 26.0,3.6 L6.0,3.6 A2.6,3.6 0 0 1 6.0,-3.6 Z" fill="#fff" /><path d="M6.0,-5.6 A4.0,5.6 0 0 1 6.0,5.6 L0.0,5.6 A4.0,5.6 0 0 1 0.0,-5.6 Z" fill="#fff" /><ellipse cx="0.0" cy="0" rx="4.0" ry="5.6" fill="#fff" /><ellipse cx="0.0" cy="0" rx="2.0" ry="2.8" fill="#231f20" stroke-width="1.2"/></g><g transform="translate(30.8,10.5)"><path d="M26.0,-3.6 A2.6,3.6 0 0 1 26.0,3.6 L6.0,3.6 A2.6,3.6 0 0 1 6.0,-3.6 Z" fill="#fff" /><path d="M6.0,-5.6 A4.0,5.6 0 0 1 6.0,5.6 L0.0,5.6 A4.0,5.6 0 0 1 0.0,-5.6 Z" fill="#fff" /><ellipse cx="0.0" cy="0" rx="4.0" ry="5.6" fill="#fff" /><ellipse cx="0.0" cy="0" rx="2.0" ry="2.8" fill="#231f20" stroke-width="1.2"/></g><g transform="translate(30.8,-10.5)"><path d="M26.0,-3.6 A2.6,3.6 0 0 1 26.0,3.6 L6.0,3.6 A2.6,3.6 0 0 1 6.0,-3.6 Z" fill="#fff" /><path d="M6.0,-5.6 A4.0,5.6 0 0 1 6.0,5.6 L0.0,5.6 A4.0,5.6 0 0 1 0.0,-5.6 Z" fill="#fff" /><ellipse cx="0.0" cy="0" rx="4.0" ry="5.6" fill="#fff" /><ellipse cx="0.0" cy="0" rx="2.0" ry="2.8" fill="#231f20" stroke-width="1.2"/></g><g transform="translate(28.1,-20.4)"><path d="M26.0,-3.6 A2.6,3.6 0 0 1 26.0,3.6 L6.0,3.6 A2.6,3.6 0 0 1 6.0,-3.6 Z" fill="#fff" /><path d="M6.0,-5.6 A4.0,5.6 0 0 1 6.0,5.6 L0.0,5.6 A4.0,5.6 0 0 1 0.0,-5.6 Z" fill="#fff" /><ellipse cx="0.0" cy="0" rx="4.0" ry="5.6" fill="#fff" /><ellipse cx="0.0" cy="0" rx="2.0" ry="2.8" fill="#231f20" stroke-width="1.2"/></g><g transform="translate(28.1,20.4)"><path d="M26.0,-3.6 A2.6,3.6 0 0 1 26.0,3.6 L6.0,3.6 A2.6,3.6 0 0 1 6.0,-3.6 Z" fill="#fff" /><path d="M6.0,-5.6 A4.0,5.6 0 0 1 6.0,5.6 L0.0,5.6 A4.0,5.6 0 0 1 0.0,-5.6 Z" fill="#fff" /><ellipse cx="0.0" cy="0" rx="4.0" ry="5.6" fill="#fff" /><ellipse cx="0.0" cy="0" rx="2.0" ry="2.8" fill="#231f20" stroke-width="1.2"/></g><g transform="translate(23.7,29.2)"><path d="M26.0,-3.6 A2.6,3.6 0 0 1 26.0,3.6 L6.0,3.6 A2.6,3.6 0 0 1 6.0,-3.6 Z" fill="#fff" /><path d="M6.0,-5.6 A4.0,5.6 0 0 1 6.0,5.6 L0.0,5.6 A4.0,5.6 0 0 1 0.0,-5.6 Z" fill="#fff" /><ellipse cx="0.0" cy="0" rx="4.0" ry="5.6" fill="#fff" /><ellipse cx="0.0" cy="0" rx="2.0" ry="2.8" fill="#231f20" stroke-width="1.2"/></g><g transform="translate(23.7,-29.2)"><path d="M26.0,-3.6 A2.6,3.6 0 0 1 26.0,3.6 L6.0,3.6 A2.6,3.6 0 0 1 6.0,-3.6 Z" fill="#fff" /><path d="M6.0,-5.6 A4.0,5.6 0 0 1 6.0,5.6 L0.0,5.6 A4.0,5.6 0 0 1 0.0,-5.6 Z" fill="#fff" /><ellipse cx="0.0" cy="0" rx="4.0" ry="5.6" fill="#fff" /><ellipse cx="0.0" cy="0" rx="2.0" ry="2.8" fill="#231f20" stroke-width="1.2"/></g><g transform="translate(18.0,36.2)"><path d="M26.0,-3.6 A2.6,3.6 0 0 1 26.0,3.6 L6.0,3.6 A2.6,3.6 0 0 1 6.0,-3.6 Z" fill="#fff" /><path d="M6.0,-5.6 A4.0,5.6 0 0 1 6.0,5.6 L0.0,5.6 A4.0,5.6 0 0 1 0.0,-5.6 Z" fill="#fff" /><ellipse cx="0.0" cy="0" rx="4.0" ry="5.6" fill="#fff" /><ellipse cx="0.0" cy="0" rx="2.0" ry="2.8" fill="#231f20" stroke-width="1.2"/></g><g transform="translate(18.0,-36.2)"><path d="M26.0,-3.6 A2.6,3.6 0 0 1 26.0,3.6 L6.0,3.6 A2.6,3.6 0 0 1 6.0,-3.6 Z" fill="#fff" /><path d="M6.0,-5.6 A4.0,5.6 0 0 1 6.0,5.6 L0.0,5.6 A4.0,5.6 0 0 1 0.0,-5.6 Z" fill="#fff" /><ellipse cx="0.0" cy="0" rx="4.0" ry="5.6" fill="#fff" /><ellipse cx="0.0" cy="0" rx="2.0" ry="2.8" fill="#231f20" stroke-width="1.2"/></g><g transform="translate(11.2,41.1)"><path d="M26.0,-3.6 A2.6,3.6 0 0 1 26.0,3.6 L6.0,3.6 A2.6,3.6 0 0 1 6.0,-3.6 Z" fill="#fff" /><path d="M6.0,-5.6 A4.0,5.6 0 0 1 6.0,5.6 L0.0,5.6 A4.0,5.6 0 0 1 0.0,-5.6 Z" fill="#fff" /><ellipse cx="0.0" cy="0" rx="4.0" ry="5.6" fill="#fff" /><ellipse cx="0.0" cy="0" rx="2.0" ry="2.8" fill="#231f20" stroke-width="1.2"/></g><g transform="translate(11.2,-41.1)"><path d="M26.0,-3.6 A2.6,3.6 0 0 1 26.0,3.6 L6.0,3.6 A2.6,3.6 0 0 1 6.0,-3.6 Z" fill="#fff" /><path d="M6.0,-5.6 A4.0,5.6 0 0 1 6.0,5.6 L0.0,5.6 A4.0,5.6 0 0 1 0.0,-5.6 Z" fill="#fff" /><ellipse cx="0.0" cy="0" rx="4.0" ry="5.6" fill="#fff" /><ellipse cx="0.0" cy="0" rx="2.0" ry="2.8" fill="#231f20" stroke-width="1.2"/></g><g transform="translate(3.8,-43.7)"><path d="M26.0,-3.6 A2.6,3.6 0 0 1 26.0,3.6 L6.0,3.6 A2.6,3.6 0 0 1 6.0,-3.6 Z" fill="#fff" /><path d="M6.0,-5.6 A4.0,5.6 0 0 1 6.0,5.6 L0.0,5.6 A4.0,5.6 0 0 1 0.0,-5.6 Z" fill="#fff" /><ellipse cx="0.0" cy="0" rx="4.0" ry="5.6" fill="#fff" /><ellipse cx="0.0" cy="0" rx="2.0" ry="2.8" fill="#231f20" stroke-width="1.2"/></g><g transform="translate(3.8,43.7)"><path d="M26.0,-3.6 A2.6,3.6 0 0 1 26.0,3.6 L6.0,3.6 A2.6,3.6 0 0 1 6.0,-3.6 Z" fill="#fff" /><path d="M6.0,-5.6 A4.0,5.6 0 0 1 6.0,5.6 L0.0,5.6 A4.0,5.6 0 0 1 0.0,-5.6 Z" fill="#fff" /><ellipse cx="0.0" cy="0" rx="4.0" ry="5.6" fill="#fff" /><ellipse cx="0.0" cy="0" rx="2.0" ry="2.8" fill="#231f20" stroke-width="1.2"/></g><g transform="translate(-3.8,43.7)"><path d="M26.0,-3.6 A2.6,3.6 0 0 1 26.0,3.6 L6.0,3.6 A2.6,3.6 0 0 1 6.0,-3.6 Z" fill="#fff" /><path d="M6.0,-5.6 A4.0,5.6 0 0 1 6.0,5.6 L0.0,5.6 A4.0,5.6 0 0 1 0.0,-5.6 Z" fill="#fff" /><ellipse cx="0.0" cy="0" rx="4.0" ry="5.6" fill="#fff" /><ellipse cx="0.0" cy="0" rx="2.0" ry="2.8" fill="#231f20" stroke-width="1.2"/></g><g transform="translate(-3.8,-43.7)"><path d="M26.0,-3.6 A2.6,3.6 0 0 1 26.0,3.6 L6.0,3.6 A2.6,3.6 0 0 1 6.0,-3.6 Z" fill="#fff" /><path d="M6.0,-5.6 A4.0,5.6 0 0 1 6.0,5.6 L0.0,5.6 A4.0,5.6 0 0 1 0.0,-5.6 Z" fill="#fff" /><ellipse cx="0.0" cy="0" rx="4.0" ry="5.6" fill="#fff" /><ellipse cx="0.0" cy="0" rx="2.0" ry="2.8" fill="#231f20" stroke-width="1.2"/></g><g transform="translate(-11.2,41.1)"><path d="M26.0,-3.6 A2.6,3.6 0 0 1 26.0,3.6 L6.0,3.6 A2.6,3.6 0 0 1 6.0,-3.6 Z" fill="#fff" /><path d="M6.0,-5.6 A4.0,5.6 0 0 1 6.0,5.6 L0.0,5.6 A4.0,5.6 0 0 1 0.0,-5.6 Z" fill="#fff" /><ellipse cx="0.0" cy="0" rx="4.0" ry="5.6" fill="#fff" /><ellipse cx="0.0" cy="0" rx="2.0" ry="2.8" fill="#231f20" stroke-width="1.2"/></g><g transform="translate(-11.2,-41.1)"><path d="M26.0,-3.6 A2.6,3.6 0 0 1 26.0,3.6 L6.0,3.6 A2.6,3.6 0 0 1 6.0,-3.6 Z" fill="#fff" /><path d="M6.0,-5.6 A4.0,5.6 0 0 1 6.0,5.6 L0.0,5.6 A4.0,5.6 0 0 1 0.0,-5.6 Z" fill="#fff" /><ellipse cx="0.0" cy="0" rx="4.0" ry="5.6" fill="#fff" /><ellipse cx="0.0" cy="0" rx="2.0" ry="2.8" fill="#231f20" stroke-width="1.2"/></g><g transform="translate(-18.0,36.2)"><path d="M26.0,-3.6 A2.6,3.6 0 0 1 26.0,3.6 L6.0,3.6 A2.6,3.6 0 0 1 6.0,-3.6 Z" fill="#fff" /><path d="M6.0,-5.6 A4.0,5.6 0 0 1 6.0,5.6 L0.0,5.6 A4.0,5.6 0 0 1 0.0,-5.6 Z" fill="#fff" /><ellipse cx="0.0" cy="0" rx="4.0" ry="5.6" fill="#fff" /><ellipse cx="0.0" cy="0" rx="2.0" ry="2.8" fill="#231f20" stroke-width="1.2"/></g><g transform="translate(-18.0,-36.2)"><path d="M26.0,-3.6 A2.6,3.6 0 0 1 26.0,3.6 L6.0,3.6 A2.6,3.6 0 0 1 6.0,-3.6 Z" fill="#fff" /><path d="M6.0,-5.6 A4.0,5.6 0 0 1 6.0,5.6 L0.0,5.6 A4.0,5.6 0 0 1 0.0,-5.6 Z" fill="#fff" /><ellipse cx="0.0" cy="0" rx="4.0" ry="5.6" fill="#fff" /><ellipse cx="0.0" cy="0" rx="2.0" ry="2.8" fill="#231f20" stroke-width="1.2"/></g><g transform="translate(-23.7,29.2)"><path d="M26.0,-3.6 A2.6,3.6 0 0 1 26.0,3.6 L6.0,3.6 A2.6,3.6 0 0 1 6.0,-3.6 Z" fill="#fff" /><path d="M6.0,-5.6 A4.0,5.6 0 0 1 6.0,5.6 L0.0,5.6 A4.0,5.6 0 0 1 0.0,-5.6 Z" fill="#fff" /><ellipse cx="0.0" cy="0" rx="4.0" ry="5.6" fill="#fff" /><ellipse cx="0.0" cy="0" rx="2.0" ry="2.8" fill="#231f20" stroke-width="1.2"/></g><g transform="translate(-23.7,-29.2)"><path d="M26.0,-3.6 A2.6,3.6 0 0 1 26.0,3.6 L6.0,3.6 A2.6,3.6 0 0 1 6.0,-3.6 Z" fill="#fff" /><path d="M6.0,-5.6 A4.0,5.6 0 0 1 6.0,5.6 L0.0,5.6 A4.0,5.6 0 0 1 0.0,-5.6 Z" fill="#fff" /><ellipse cx="0.0" cy="0" rx="4.0" ry="5.6" fill="#fff" /><ellipse cx="0.0" cy="0" rx="2.0" ry="2.8" fill="#231f20" stroke-width="1.2"/></g><g transform="translate(-28.1,20.4)"><path d="M26.0,-3.6 A2.6,3.6 0 0 1 26.0,3.6 L6.0,3.6 A2.6,3.6 0 0 1 6.0,-3.6 Z" fill="#fff" /><path d="M6.0,-5.6 A4.0,5.6 0 0 1 6.0,5.6 L0.0,5.6 A4.0,5.6 0 0 1 0.0,-5.6 Z" fill="#fff" /><ellipse cx="0.0" cy="0" rx="4.0" ry="5.6" fill="#fff" /><ellipse cx="0.0" cy="0" rx="2.0" ry="2.8" fill="#231f20" stroke-width="1.2"/></g><g transform="translate(-28.1,-20.4)"><path d="M26.0,-3.6 A2.6,3.6 0 0 1 26.0,3.6 L6.0,3.6 A2.6,3.6 0 0 1 6.0,-3.6 Z" fill="#fff" /><path d="M6.0,-5.6 A4.0,5.6 0 0 1 6.0,5.6 L0.0,5.6 A4.0,5.6 0 0 1 0.0,-5.6 Z" fill="#fff" /><ellipse cx="0.0" cy="0" rx="4.0" ry="5.6" fill="#fff" /><ellipse cx="0.0" cy="0" rx="2.0" ry="2.8" fill="#231f20" stroke-width="1.2"/></g><g transform="translate(-30.8,10.5)"><path d="M26.0,-3.6 A2.6,3.6 0 0 1 26.0,3.6 L6.0,3.6 A2.6,3.6 0 0 1 6.0,-3.6 Z" fill="#fff" /><path d="M6.0,-5.6 A4.0,5.6 0 0 1 6.0,5.6 L0.0,5.6 A4.0,5.6 0 0 1 0.0,-5.6 Z" fill="#fff" /><ellipse cx="0.0" cy="0" rx="4.0" ry="5.6" fill="#fff" /><ellipse cx="0.0" cy="0" rx="2.0" ry="2.8" fill="#231f20" stroke-width="1.2"/></g><g transform="translate(-30.8,-10.5)"><path d="M26.0,-3.6 A2.6,3.6 0 0 1 26.0,3.6 L6.0,3.6 A2.6,3.6 0 0 1 6.0,-3.6 Z" fill="#fff" /><path d="M6.0,-5.6 A4.0,5.6 0 0 1 6.0,5.6 L0.0,5.6 A4.0,5.6 0 0 1 0.0,-5.6 Z" fill="#fff" /><ellipse cx="0.0" cy="0" rx="4.0" ry="5.6" fill="#fff" /><ellipse cx="0.0" cy="0" rx="2.0" ry="2.8" fill="#231f20" stroke-width="1.2"/></g><g transform="translate(-31.7,-0.0)"><path d="M26.0,-3.6 A2.6,3.6 0 0 1 26.0,3.6 L6.0,3.6 A2.6,3.6 0 0 1 6.0,-3.6 Z" fill="#fff" /><path d="M6.0,-5.6 A4.0,5.6 0 0 1 6.0,5.6 L0.0,5.6 A4.0,5.6 0 0 1 0.0,-5.6 Z" fill="#fff" /><ellipse cx="0.0" cy="0" rx="4.0" ry="5.6" fill="#fff" /><ellipse cx="0.0" cy="0" rx="2.0" ry="2.8" fill="#231f20" stroke-width="1.2"/></g></g>
<line x1="880" y1="487" x2="985" y2="426" stroke-dasharray="12 8" stroke-width="1.2"/>
<text x="932.0" y="332.2" font-size="18" font-weight="400" letter-spacing="1.6" text-anchor="start" fill="#231f20" stroke="#231f20" stroke-width="0.55" font-family="Liberation Sans, sans-serif">轴头</text>
<line x1="969.0" y1="338.0" x2="1000.8" y2="369.8" stroke="#e41f26" stroke-width="2.4" stroke-linecap="butt"/><polygon points="1012.0,381.0 990.1,371.8 1000.8,369.8 1002.8,359.1" fill="#e41f26" stroke="none"/>
<text x="786.0" y="364.2" font-size="18" font-weight="400" letter-spacing="1.6" text-anchor="start" fill="#231f20" stroke="#231f20" stroke-width="0.55" font-family="Liberation Sans, sans-serif">桥壳法兰</text>
<line x1="864.0" y1="370.0" x2="893.9" y2="400.7" stroke="#e41f26" stroke-width="2.4" stroke-linecap="butt"/><polygon points="905.0,412.0 883.2,402.5 893.9,400.7 896.1,390.0" fill="#e41f26" stroke="none"/>
<text x="660.0" y="409.2" font-size="18" font-weight="400" letter-spacing="1.6" text-anchor="start" fill="#231f20" stroke="#231f20" stroke-width="0.55" font-family="Liberation Sans, sans-serif">内六角圆柱螺钉</text>
<line x1="794.0" y1="415.0" x2="824.9" y2="446.7" stroke="#e41f26" stroke-width="2.4" stroke-linecap="butt"/><polygon points="836.0,458.0 814.2,448.6 824.9,446.7 827.1,436.0" fill="#e41f26" stroke="none"/>
<polygon points="804.0,538.0 812.2,518.2 815.7,524.3 832.2,514.8 838.2,525.2 821.7,534.7 825.2,540.8" fill="#e41f26" stroke="none"/>
<g transform="translate(152.3,948.8) rotate(-30)"><path d="M345.0,-9.0 A6.3,9.0 0 0 1 345.0,9.0 L320.0,9.0 A6.3,9.0 0 0 1 320.0,-9.0 Z" fill="#231f20" /><path d="M320.0,-8.0 A5.6,8.0 0 0 1 320.0,8.0 L205.0,8.0 A5.6,8.0 0 0 1 205.0,-8.0 Z" fill="#fff" /><path d="M205.0,-10.0 A7.0,10.0 0 0 1 205.0,10.0 L190.0,10.0 A7.0,10.0 0 0 1 190.0,-10.0 Z" fill="#fff" /><path d="M190.0,-9.0 A6.3,9.0 0 0 1 190.0,9.0 L175.0,9.0 A6.3,9.0 0 0 1 175.0,-9.0 Z" fill="#fff" /><path d="M110.0,-8.0 A5.6,8.0 0 0 1 110.0,8.0 L103.0,8.0 A5.6,8.0 0 0 1 103.0,-8.0 Z" fill="#fff" /><path d="M103.0,-9.0 A6.3,9.0 0 0 1 103.0,9.0 L95.0,9.0 A6.3,9.0 0 0 1 95.0,-9.0 Z" fill="#fff" /><path d="M95.0,-7.5 A5.2,7.5 0 0 1 95.0,7.5 L24.0,7.5 A5.2,7.5 0 0 1 24.0,-7.5 Z" fill="#fff" /><path d="M24.0,-8.5 A5.9,8.5 0 0 1 24.0,8.5 L2.0,8.5 A5.9,8.5 0 0 1 2.0,-8.5 Z" fill="#231f20" /><path d="M2.0,-8.5 A5.9,8.5 0 0 1 2.0,8.5 L0.0,8.5 A5.9,8.5 0 0 1 0.0,-8.5 Z" fill="#fff" /><ellipse cx="0.0" cy="0" rx="5.9" ry="8.5" fill="#fff" /><ellipse cx="0.0" cy="0" rx="1.8" ry="2.6" fill="#231f20" /></g>
<g transform="translate(220,810) scale(0.068213)" class="ns"><ellipse cx="878" cy="905" rx="500" ry="490" fill="#fff"/><path d="M470,820 L560,660 L700,620 L1050,690 L1330,650 L1355,820 L1000,900 L700,905 Z" fill="#fff"/><path d="M520,800 L600,680 L640,850 L700,650 L760,880 L830,690 L880,890 L950,700 L1010,880 L1080,700 L1130,860 L1200,690 L1260,830 L1300,680" stroke-width="2.2"/><path d="M560,700 Q600,640 700,630 M520,760 Q560,700 640,690" stroke-width="2.4"/><path d="M680,540 L690,640 Q870,700 1050,660 L1060,560" fill="#fff"/><ellipse cx="870" cy="520" rx="190" ry="110" fill="#fff"/><ellipse cx="900" cy="505" rx="130" ry="52"/><path d="M1050,600 L1190,560 L1310,620 L1330,700 M740,600 L740,660 M800,610 L800,665"/><path d="M480,900 Q700,860 1000,880 Q1250,860 1360,830" /><path d="M880,920 Q960,1100 900,1340 M960,930 Q1040,1100 980,1330"/><ellipse cx="1255" cy="1055" rx="62" ry="128" transform="rotate(18 1255 1055)"/><ellipse cx="610" cy="1090" rx="120" ry="190" transform="rotate(-28 610 1090)" fill="#fff"/><path d="M700,1330 Q800,1400 900,1400 Q1050,1390 1110,1320"/></g>
<text x="110.5" y="867.2" font-size="18" font-weight="400" letter-spacing="1.6" text-anchor="start" fill="#231f20" stroke="#231f20" stroke-width="0.55" font-family="Liberation Sans, sans-serif">半轴</text>
<line x1="148.0" y1="872.0" x2="178.1" y2="903.5" stroke="#e41f26" stroke-width="2.4" stroke-linecap="butt"/><polygon points="189.0,915.0 167.3,905.3 178.1,903.5 180.3,892.9" fill="#e41f26" stroke="none"/>
<polygon points="331.0,883.0 338.9,864.6 342.1,870.2 357.7,861.2 363.2,870.8 347.6,879.8 350.9,885.4" fill="#e41f26" stroke="none"/>
<g transform="translate(1195.0,697.0)"><g transform="rotate(-30)"><path d="M10,-40 L60,-40 M10,41 L155,41 L155,0 M10,-24 L150,-24 M30,6 L152,6" /><path d="M120,-24 L120,41 M135,41 L150,10 L150,41" stroke-width="1.2"/></g><path d="M24,-78 L24,-100 Q25,-108 33,-112 L78,-132 Q84,-134 88,-129 L154,-42 L140,-48 Q126,-52 120,-60 L100,-64 Q60,-70 30,-77 Z" fill="#fff"/><path d="M24,-100 Q40,-94 46,-79 M100,-64 Q104,-58 102,-50 M120,-60 L118,-40 M140,-48 L138,-30" stroke-width="1.2"/><ellipse cx="38.4" cy="-104.3" rx="6" ry="3"/><ellipse cx="70.4" cy="-122.9" rx="6" ry="3"/><ellipse cx="115.7" cy="-71.5" rx="6" ry="3"/><ellipse cx="93.4" cy="-96.8" rx="3.5" ry="2"/><path d="M130,-40 L150,-50 L142,-20 Z M146,-46 L138,-18" stroke-width="1.1"/></g><g transform="translate(1195.0,697.0) rotate(-30)"><path d="M9.0,-53.0 A38.2,53.0 0 0 1 9.0,53.0 L0.0,53.0 A38.2,53.0 0 0 1 0.0,-53.0 Z" fill="#fff" /><ellipse cx="0.0" cy="0" rx="38.2" ry="53.0" fill="#fff" /><ellipse cx="33.8" cy="0.0" rx="2.0" ry="2.8" fill="#fff"/><ellipse cx="32.7" cy="12.2" rx="2.0" ry="2.8" fill="#fff"/><ellipse cx="29.3" cy="23.5" rx="2.0" ry="2.8" fill="#fff"/><ellipse cx="23.9" cy="33.2" rx="2.0" ry="2.8" fill="#fff"/><ellipse cx="16.9" cy="40.7" rx="2.0" ry="2.8" fill="#fff"/><ellipse cx="8.8" cy="45.4" rx="2.0" ry="2.8" fill="#fff"/><ellipse cx="0.0" cy="47.0" rx="2.0" ry="2.8" fill="#fff"/><ellipse cx="-8.8" cy="45.4" rx="2.0" ry="2.8" fill="#fff"/><ellipse cx="-16.9" cy="40.7" rx="2.0" ry="2.8" fill="#fff"/><ellipse cx="-23.9" cy="33.2" rx="2.0" ry="2.8" fill="#fff"/><ellipse cx="-29.3" cy="23.5" rx="2.0" ry="2.8" fill="#fff"/><ellipse cx="-32.7" cy="12.2" rx="2.0" ry="2.8" fill="#fff"/><ellipse cx="-33.8" cy="0.0" rx="2.0" ry="2.8" fill="#fff"/><ellipse cx="-32.7" cy="-12.2" rx="2.0" ry="2.8" fill="#fff"/><ellipse cx="-29.3" cy="-23.5" rx="2.0" ry="2.8" fill="#fff"/><ellipse cx="-23.9" cy="-33.2" rx="2.0" ry="2.8" fill="#fff"/><ellipse cx="-16.9" cy="-40.7" rx="2.0" ry="2.8" fill="#fff"/><ellipse cx="-8.8" cy="-45.4" rx="2.0" ry="2.8" fill="#fff"/><ellipse cx="-0.0" cy="-47.0" rx="2.0" ry="2.8" fill="#fff"/><ellipse cx="8.8" cy="-45.4" rx="2.0" ry="2.8" fill="#fff"/><ellipse cx="16.9" cy="-40.7" rx="2.0" ry="2.8" fill="#fff"/><ellipse cx="23.9" cy="-33.2" rx="2.0" ry="2.8" fill="#fff"/><ellipse cx="29.3" cy="-23.5" rx="2.0" ry="2.8" fill="#fff"/><ellipse cx="32.7" cy="-12.2" rx="2.0" ry="2.8" fill="#fff"/><ellipse cx="0.0" cy="0" rx="29.5" ry="41.0" fill="none" /><ellipse cx="0.0" cy="0" rx="28.4" ry="39.5" fill="none" stroke-width="2.2"/></g>
<g transform="translate(1082.3,765.4) rotate(-30)"><g transform="translate(135.7,0.0)"><path d="M26.0,-3.2 A2.3,3.2 0 0 1 26.0,3.2 L0.0,3.2 A2.3,3.2 0 0 1 0.0,-3.2 Z" fill="#fff" /></g><g transform="translate(134.4,12.4)"><path d="M26.0,-3.2 A2.3,3.2 0 0 1 26.0,3.2 L0.0,3.2 A2.3,3.2 0 0 1 0.0,-3.2 Z" fill="#fff" /></g><g transform="translate(134.4,-12.4)"><path d="M26.0,-3.2 A2.3,3.2 0 0 1 26.0,3.2 L0.0,3.2 A2.3,3.2 0 0 1 0.0,-3.2 Z" fill="#fff" /></g><g transform="translate(130.7,23.8)"><path d="M26.0,-3.2 A2.3,3.2 0 0 1 26.0,3.2 L0.0,3.2 A2.3,3.2 0 0 1 0.0,-3.2 Z" fill="#fff" /></g><g transform="translate(130.7,-23.8)"><path d="M26.0,-3.2 A2.3,3.2 0 0 1 26.0,3.2 L0.0,3.2 A2.3,3.2 0 0 1 0.0,-3.2 Z" fill="#fff" /></g><g transform="translate(124.7,33.3)"><path d="M26.0,-3.2 A2.3,3.2 0 0 1 26.0,3.2 L0.0,3.2 A2.3,3.2 0 0 1 0.0,-3.2 Z" fill="#fff" /></g><g transform="translate(124.7,-33.3)"><path d="M26.0,-3.2 A2.3,3.2 0 0 1 26.0,3.2 L0.0,3.2 A2.3,3.2 0 0 1 0.0,-3.2 Z" fill="#fff" /></g><g transform="translate(117.2,40.0)"><path d="M26.0,-3.2 A2.3,3.2 0 0 1 26.0,3.2 L0.0,3.2 A2.3,3.2 0 0 1 0.0,-3.2 Z" fill="#fff" /></g><g transform="translate(117.2,-40.0)"><path d="M26.0,-3.2 A2.3,3.2 0 0 1 26.0,3.2 L0.0,3.2 A2.3,3.2 0 0 1 0.0,-3.2 Z" fill="#fff" /></g><g transform="translate(108.5,43.6)"><path d="M26.0,-3.2 A2.3,3.2 0 0 1 26.0,3.2 L0.0,3.2 A2.3,3.2 0 0 1 0.0,-3.2 Z" fill="#fff" /></g><g transform="translate(108.5,-43.6)"><path d="M26.0,-3.2 A2.3,3.2 0 0 1 26.0,3.2 L0.0,3.2 A2.3,3.2 0 0 1 0.0,-3.2 Z" fill="#fff" /></g><g transform="translate(99.5,43.6)"><path d="M26.0,-3.2 A2.3,3.2 0 0 1 26.0,3.2 L0.0,3.2 A2.3,3.2 0 0 1 0.0,-3.2 Z" fill="#fff" /></g><g transform="translate(99.5,-43.6)"><path d="M26.0,-3.2 A2.3,3.2 0 0 1 26.0,3.2 L0.0,3.2 A2.3,3.2 0 0 1 0.0,-3.2 Z" fill="#fff" /></g><g transform="translate(90.8,40.0)"><path d="M26.0,-3.2 A2.3,3.2 0 0 1 26.0,3.2 L0.0,3.2 A2.3,3.2 0 0 1 0.0,-3.2 Z" fill="#fff" /></g><g transform="translate(90.8,-40.0)"><path d="M26.0,-3.2 A2.3,3.2 0 0 1 26.0,3.2 L0.0,3.2 A2.3,3.2 0 0 1 0.0,-3.2 Z" fill="#fff" /></g><g transform="translate(83.3,33.3)"><path d="M26.0,-3.2 A2.3,3.2 0 0 1 26.0,3.2 L0.0,3.2 A2.3,3.2 0 0 1 0.0,-3.2 Z" fill="#fff" /></g><g transform="translate(83.3,-33.3)"><path d="M26.0,-3.2 A2.3,3.2 0 0 1 26.0,3.2 L0.0,3.2 A2.3,3.2 0 0 1 0.0,-3.2 Z" fill="#fff" /></g><g transform="translate(77.3,23.8)"><path d="M26.0,-3.2 A2.3,3.2 0 0 1 26.0,3.2 L0.0,3.2 A2.3,3.2 0 0 1 0.0,-3.2 Z" fill="#fff" /></g><g transform="translate(77.3,-23.8)"><path d="M26.0,-3.2 A2.3,3.2 0 0 1 26.0,3.2 L0.0,3.2 A2.3,3.2 0 0 1 0.0,-3.2 Z" fill="#fff" /></g><g transform="translate(73.6,12.4)"><path d="M26.0,-3.2 A2.3,3.2 0 0 1 26.0,3.2 L0.0,3.2 A2.3,3.2 0 0 1 0.0,-3.2 Z" fill="#fff" /></g><g transform="translate(73.6,-12.4)"><path d="M26.0,-3.2 A2.3,3.2 0 0 1 26.0,3.2 L0.0,3.2 A2.3,3.2 0 0 1 0.0,-3.2 Z" fill="#fff" /></g><g transform="translate(72.3,0.0)"><path d="M26.0,-3.2 A2.3,3.2 0 0 1 26.0,3.2 L0.0,3.2 A2.3,3.2 0 0 1 0.0,-3.2 Z" fill="#fff" /></g><path d="M105.0,-48.0 A34.6,48.0 0 0 1 105.0,48.0 L100.0,48.0 A34.6,48.0 0 0 1 100.0,-48.0 Z" fill="#fff" /><ellipse cx="100.0" cy="0" rx="34.6" ry="48.0" fill="#fff" /><ellipse cx="131.3" cy="0.0" rx="1.6" ry="2.2" fill="#fff"/><ellipse cx="130.6" cy="9.0" rx="1.6" ry="2.2" fill="#fff"/><ellipse cx="128.6" cy="17.7" rx="1.6" ry="2.2" fill="#fff"/><ellipse cx="125.3" cy="25.6" rx="1.6" ry="2.2" fill="#fff"/><ellipse cx="121.0" cy="32.3" rx="1.6" ry="2.2" fill="#fff"/><ellipse cx="115.7" cy="37.7" rx="1.6" ry="2.2" fill="#fff"/><ellipse cx="109.7" cy="41.4" rx="1.6" ry="2.2" fill="#fff"/><ellipse cx="103.3" cy="43.3" rx="1.6" ry="2.2" fill="#fff"/><ellipse cx="96.7" cy="43.3" rx="1.6" ry="2.2" fill="#fff"/><ellipse cx="90.3" cy="41.4" rx="1.6" ry="2.2" fill="#fff"/><ellipse cx="84.3" cy="37.7" rx="1.6" ry="2.2" fill="#fff"/><ellipse cx="79.0" cy="32.3" rx="1.6" ry="2.2" fill="#fff"/><ellipse cx="74.7" cy="25.6" rx="1.6" ry="2.2" fill="#fff"/><ellipse cx="71.4" cy="17.7" rx="1.6" ry="2.2" fill="#fff"/><ellipse cx="69.4" cy="9.0" rx="1.6" ry="2.2" fill="#fff"/><ellipse cx="68.7" cy="0.0" rx="1.6" ry="2.2" fill="#fff"/><ellipse cx="69.4" cy="-9.0" rx="1.6" ry="2.2" fill="#fff"/><ellipse cx="71.4" cy="-17.7" rx="1.6" ry="2.2" fill="#fff"/><ellipse cx="74.7" cy="-25.6" rx="1.6" ry="2.2" fill="#fff"/><ellipse cx="79.0" cy="-32.3" rx="1.6" ry="2.2" fill="#fff"/><ellipse cx="84.3" cy="-37.7" rx="1.6" ry="2.2" fill="#fff"/><ellipse cx="90.3" cy="-41.4" rx="1.6" ry="2.2" fill="#fff"/><ellipse cx="96.7" cy="-43.3" rx="1.6" ry="2.2" fill="#fff"/><ellipse cx="103.3" cy="-43.3" rx="1.6" ry="2.2" fill="#fff"/><ellipse cx="109.7" cy="-41.4" rx="1.6" ry="2.2" fill="#fff"/><ellipse cx="115.7" cy="-37.7" rx="1.6" ry="2.2" fill="#fff"/><ellipse cx="121.0" cy="-32.3" rx="1.6" ry="2.2" fill="#fff"/><ellipse cx="125.3" cy="-25.6" rx="1.6" ry="2.2" fill="#fff"/><ellipse cx="128.6" cy="-17.7" rx="1.6" ry="2.2" fill="#fff"/><ellipse cx="130.6" cy="-9.0" rx="1.6" ry="2.2" fill="#fff"/><g transform="translate(127.7,0.0)"><path d="M4.0,-4.6 A3.3,4.6 0 0 1 4.0,4.6 L0.0,4.6 A3.3,4.6 0 0 1 0.0,-4.6 Z" fill="#fff" /><ellipse cx="0.0" cy="0" rx="3.3" ry="4.6" fill="#fff" /><ellipse cx="0.0" cy="0" rx="1.5" ry="2.1" fill="none" stroke-width="1.1"/></g><g transform="translate(126.4,12.4)"><path d="M4.0,-4.6 A3.3,4.6 0 0 1 4.0,4.6 L0.0,4.6 A3.3,4.6 0 0 1 0.0,-4.6 Z" fill="#fff" /><ellipse cx="0.0" cy="0" rx="3.3" ry="4.6" fill="#fff" /><ellipse cx="0.0" cy="0" rx="1.5" ry="2.1" fill="none" stroke-width="1.1"/></g><g transform="translate(126.4,-12.4)"><path d="M4.0,-4.6 A3.3,4.6 0 0 1 4.0,4.6 L0.0,4.6 A3.3,4.6 0 0 1 0.0,-4.6 Z" fill="#fff" /><ellipse cx="0.0" cy="0" rx="3.3" ry="4.6" fill="#fff" /><ellipse cx="0.0" cy="0" rx="1.5" ry="2.1" fill="none" stroke-width="1.1"/></g><g transform="translate(122.7,23.8)"><path d="M4.0,-4.6 A3.3,4.6 0 0 1 4.0,4.6 L0.0,4.6 A3.3,4.6 0 0 1 0.0,-4.6 Z" fill="#fff" /><ellipse cx="0.0" cy="0" rx="3.3" ry="4.6" fill="#fff" /><ellipse cx="0.0" cy="0" rx="1.5" ry="2.1" fill="none" stroke-width="1.1"/></g><g transform="translate(122.7,-23.8)"><path d="M4.0,-4.6 A3.3,4.6 0 0 1 4.0,4.6 L0.0,4.6 A3.3,4.6 0 0 1 0.0,-4.6 Z" fill="#fff" /><ellipse cx="0.0" cy="0" rx="3.3" ry="4.6" fill="#fff" /><ellipse cx="0.0" cy="0" rx="1.5" ry="2.1" fill="none" stroke-width="1.1"/></g><g transform="translate(116.7,33.3)"><path d="M4.0,-4.6 A3.3,4.6 0 0 1 4.0,4.6 L0.0,4.6 A3.3,4.6 0 0 1 0.0,-4.6 Z" fill="#fff" /><ellipse cx="0.0" cy="0" rx="3.3" ry="4.6" fill="#fff" /><ellipse cx="0.0" cy="0" rx="1.5" ry="2.1" fill="none" stroke-width="1.1"/></g><g transform="translate(116.7,-33.3)"><path d="M4.0,-4.6 A3.3,4.6 0 0 1 4.0,4.6 L0.0,4.6 A3.3,4.6 0 0 1 0.0,-4.6 Z" fill="#fff" /><ellipse cx="0.0" cy="0" rx="3.3" ry="4.6" fill="#fff" /><ellipse cx="0.0" cy="0" rx="1.5" ry="2.1" fill="none" stroke-width="1.1"/></g><g transform="translate(109.2,40.0)"><path d="M4.0,-4.6 A3.3,4.6 0 0 1 4.0,4.6 L0.0,4.6 A3.3,4.6 0 0 1 0.0,-4.6 Z" fill="#fff" /><ellipse cx="0.0" cy="0" rx="3.3" ry="4.6" fill="#fff" /><ellipse cx="0.0" cy="0" rx="1.5" ry="2.1" fill="none" stroke-width="1.1"/></g><g transform="translate(109.2,-40.0)"><path d="M4.0,-4.6 A3.3,4.6 0 0 1 4.0,4.6 L0.0,4.6 A3.3,4.6 0 0 1 0.0,-4.6 Z" fill="#fff" /><ellipse cx="0.0" cy="0" rx="3.3" ry="4.6" fill="#fff" /><ellipse cx="0.0" cy="0" rx="1.5" ry="2.1" fill="none" stroke-width="1.1"/></g><g transform="translate(100.5,43.6)"><path d="M4.0,-4.6 A3.3,4.6 0 0 1 4.0,4.6 L0.0,4.6 A3.3,4.6 0 0 1 0.0,-4.6 Z" fill="#fff" /><ellipse cx="0.0" cy="0" rx="3.3" ry="4.6" fill="#fff" /><ellipse cx="0.0" cy="0" rx="1.5" ry="2.1" fill="none" stroke-width="1.1"/></g><g transform="translate(100.5,-43.6)"><path d="M4.0,-4.6 A3.3,4.6 0 0 1 4.0,4.6 L0.0,4.6 A3.3,4.6 0 0 1 0.0,-4.6 Z" fill="#fff" /><ellipse cx="0.0" cy="0" rx="3.3" ry="4.6" fill="#fff" /><ellipse cx="0.0" cy="0" rx="1.5" ry="2.1" fill="none" stroke-width="1.1"/></g><g transform="translate(91.5,43.6)"><path d="M4.0,-4.6 A3.3,4.6 0 0 1 4.0,4.6 L0.0,4.6 A3.3,4.6 0 0 1 0.0,-4.6 Z" fill="#fff" /><ellipse cx="0.0" cy="0" rx="3.3" ry="4.6" fill="#fff" /><ellipse cx="0.0" cy="0" rx="1.5" ry="2.1" fill="none" stroke-width="1.1"/></g><g transform="translate(91.5,-43.6)"><path d="M4.0,-4.6 A3.3,4.6 0 0 1 4.0,4.6 L0.0,4.6 A3.3,4.6 0 0 1 0.0,-4.6 Z" fill="#fff" /><ellipse cx="0.0" cy="0" rx="3.3" ry="4.6" fill="#fff" /><ellipse cx="0.0" cy="0" rx="1.5" ry="2.1" fill="none" stroke-width="1.1"/></g><g transform="translate(82.8,40.0)"><path d="M4.0,-4.6 A3.3,4.6 0 0 1 4.0,4.6 L0.0,4.6 A3.3,4.6 0 0 1 0.0,-4.6 Z" fill="#fff" /><ellipse cx="0.0" cy="0" rx="3.3" ry="4.6" fill="#fff" /><ellipse cx="0.0" cy="0" rx="1.5" ry="2.1" fill="none" stroke-width="1.1"/></g><g transform="translate(82.8,-40.0)"><path d="M4.0,-4.6 A3.3,4.6 0 0 1 4.0,4.6 L0.0,4.6 A3.3,4.6 0 0 1 0.0,-4.6 Z" fill="#fff" /><ellipse cx="0.0" cy="0" rx="3.3" ry="4.6" fill="#fff" /><ellipse cx="0.0" cy="0" rx="1.5" ry="2.1" fill="none" stroke-width="1.1"/></g><g transform="translate(75.3,33.3)"><path d="M4.0,-4.6 A3.3,4.6 0 0 1 4.0,4.6 L0.0,4.6 A3.3,4.6 0 0 1 0.0,-4.6 Z" fill="#fff" /><ellipse cx="0.0" cy="0" rx="3.3" ry="4.6" fill="#fff" /><ellipse cx="0.0" cy="0" rx="1.5" ry="2.1" fill="none" stroke-width="1.1"/></g><g transform="translate(75.3,-33.3)"><path d="M4.0,-4.6 A3.3,4.6 0 0 1 4.0,4.6 L0.0,4.6 A3.3,4.6 0 0 1 0.0,-4.6 Z" fill="#fff" /><ellipse cx="0.0" cy="0" rx="3.3" ry="4.6" fill="#fff" /><ellipse cx="0.0" cy="0" rx="1.5" ry="2.1" fill="none" stroke-width="1.1"/></g><g transform="translate(69.3,23.8)"><path d="M4.0,-4.6 A3.3,4.6 0 0 1 4.0,4.6 L0.0,4.6 A3.3,4.6 0 0 1 0.0,-4.6 Z" fill="#fff" /><ellipse cx="0.0" cy="0" rx="3.3" ry="4.6" fill="#fff" /><ellipse cx="0.0" cy="0" rx="1.5" ry="2.1" fill="none" stroke-width="1.1"/></g><g transform="translate(69.3,-23.8)"><path d="M4.0,-4.6 A3.3,4.6 0 0 1 4.0,4.6 L0.0,4.6 A3.3,4.6 0 0 1 0.0,-4.6 Z" fill="#fff" /><ellipse cx="0.0" cy="0" rx="3.3" ry="4.6" fill="#fff" /><ellipse cx="0.0" cy="0" rx="1.5" ry="2.1" fill="none" stroke-width="1.1"/></g><g transform="translate(65.6,12.4)"><path d="M4.0,-4.6 A3.3,4.6 0 0 1 4.0,4.6 L0.0,4.6 A3.3,4.6 0 0 1 0.0,-4.6 Z" fill="#fff" /><ellipse cx="0.0" cy="0" rx="3.3" ry="4.6" fill="#fff" /><ellipse cx="0.0" cy="0" rx="1.5" ry="2.1" fill="none" stroke-width="1.1"/></g><g transform="translate(65.6,-12.4)"><path d="M4.0,-4.6 A3.3,4.6 0 0 1 4.0,4.6 L0.0,4.6 A3.3,4.6 0 0 1 0.0,-4.6 Z" fill="#fff" /><ellipse cx="0.0" cy="0" rx="3.3" ry="4.6" fill="#fff" /><ellipse cx="0.0" cy="0" rx="1.5" ry="2.1" fill="none" stroke-width="1.1"/></g><g transform="translate(64.3,0.0)"><path d="M4.0,-4.6 A3.3,4.6 0 0 1 4.0,4.6 L0.0,4.6 A3.3,4.6 0 0 1 0.0,-4.6 Z" fill="#fff" /><ellipse cx="0.0" cy="0" rx="3.3" ry="4.6" fill="#fff" /><ellipse cx="0.0" cy="0" rx="1.5" ry="2.1" fill="none" stroke-width="1.1"/></g></g>
<g transform="translate(1082.3,765.4) rotate(-30)"><path d="M97.0,-37.0 A25.9,37.0 0 0 1 97.0,37.0 L78.0,37.0 A25.9,37.0 0 0 1 78.0,-37.0 Z" fill="#fff" /><ellipse cx="78.0" cy="0" rx="21.7" ry="31.0" fill="none" /><ellipse cx="78.0" cy="0" rx="20.6" ry="29.5" fill="none" stroke-width="2.4"/><path d="M78.0,-34.0 A23.8,34.0 0 0 1 78.0,34.0 L62.0,30.0 A21.0,30.0 0 0 1 62.0,-30.0 Z" fill="#fff" /><path d="M62.0,-28.0 A19.6,28.0 0 0 1 62.0,28.0 L50.0,24.0 A16.8,24.0 0 0 1 50.0,-24.0 Z" fill="#fff" /><path d="M62.0,-28.0 A19.6,28.0 0 0 1 62.0,28.0" fill="none" stroke-width="2.6"/><path d="M50.0,-22.0 A15.4,22.0 0 0 1 50.0,22.0 L45.0,22.0 A15.4,22.0 0 0 1 45.0,-22.0 Z" fill="#fff" /><path d="M45.0,-20.5 A14.3,20.5 0 0 1 45.0,20.5 L10.0,20.5 A14.3,20.5 0 0 1 10.0,-20.5 Z" fill="#231f20" /><path d="M10.0,-18.5 A12.9,18.5 0 0 1 10.0,18.5 L5.0,18.5 A12.9,18.5 0 0 1 5.0,-18.5 Z" fill="#fff" /><path d="M5.0,-16.0 A11.2,16.0 0 0 1 5.0,16.0 L0.0,16.0 A11.2,16.0 0 0 1 0.0,-16.0 Z" fill="#fff" /><ellipse cx="0.0" cy="0" rx="11.2" ry="16.0" fill="#fff" /><ellipse cx="0.0" cy="0" rx="8.8" ry="12.5" fill="none" stroke-width="2.8"/><ellipse cx="0.0" cy="0" rx="7.3" ry="10.5" fill="none" /><line x1="0" y1="0" x2="-10" y2="6"/></g>
<g transform="translate(765.0,948.0) rotate(-30.5)"><path d="M350.0,-8.5 A5.9,8.5 0 0 1 350.0,8.5 L320.0,8.5 A5.9,8.5 0 0 1 320.0,-8.5 Z" fill="#231f20" /><path d="M320.0,-7.5 A5.2,7.5 0 0 1 320.0,7.5 L25.0,7.5 A5.2,7.5 0 0 1 25.0,-7.5 Z" fill="#fff" /><path d="M25.0,-8.5 A5.9,8.5 0 0 1 25.0,8.5 L2.0,8.5 A5.9,8.5 0 0 1 2.0,-8.5 Z" fill="#231f20" /><path d="M2.0,-8.5 A5.9,8.5 0 0 1 2.0,8.5 L0.0,8.5 A5.9,8.5 0 0 1 0.0,-8.5 Z" fill="#fff" /><ellipse cx="0.0" cy="0" rx="5.9" ry="8.5" fill="#fff" /><ellipse cx="0.0" cy="0" rx="2.8" ry="4.0" fill="none" stroke-width="1.5"/></g>
<text x="731.0" y="867.2" font-size="18" font-weight="400" letter-spacing="1.6" text-anchor="start" fill="#231f20" stroke="#231f20" stroke-width="0.55" font-family="Liberation Sans, sans-serif">半轴</text>
<line x1="768.0" y1="872.0" x2="797.1" y2="902.5" stroke="#e41f26" stroke-width="2.4" stroke-linecap="butt"/><polygon points="808.0,914.0 786.3,904.3 797.1,902.5 799.3,891.9" fill="#e41f26" stroke="none"/>
<polygon points="950.0,884.0 957.9,865.6 961.1,871.2 976.7,862.2 982.2,871.8 966.6,880.8 969.9,886.4" fill="#e41f26" stroke="none"/>
<text x="344" y="967" font-size="21" fill="#231f20" stroke="none" font-family="Liberation Serif, serif" letter-spacing="3">带转向结构</text>
<line x1="325" y1="972" x2="483" y2="972" stroke-width="1.6"/>
<text x="993" y="967" font-size="21" fill="#231f20" stroke="none" font-family="Liberation Serif, serif" letter-spacing="3">非转向结构</text>
<line x1="975" y1="972" x2="1131" y2="972" stroke-width="1.6"/>
<line x1="160" y1="1362" x2="248" y2="1311" stroke-width="1.1"/>
<line x1="286" y1="1290" x2="310" y2="1276" stroke-width="1.1"/>
<line x1="200" y1="1385" x2="493" y2="1215" stroke-width="1.1"/>
<line x1="286" y1="1335" x2="465" y2="1230" stroke-width="1.1"/>
<g transform="translate(493.0,1165.0)"><g transform="rotate(-30)"><path d="M10,-40 L60,-40 M10,41 L155,41 L155,0 M10,-24 L150,-24 M30,6 L152,6" /><path d="M120,-24 L120,41 M135,41 L150,10 L150,41" stroke-width="1.2"/></g><path d="M24,-78 L24,-100 Q25,-108 33,-112 L78,-132 Q84,-134 88,-129 L154,-42 L140,-48 Q126,-52 120,-60 L100,-64 Q60,-70 30,-77 Z" fill="#fff"/><path d="M24,-100 Q40,-94 46,-79 M100,-64 Q104,-58 102,-50 M120,-60 L118,-40 M140,-48 L138,-30" stroke-width="1.2"/><ellipse cx="38.4" cy="-104.3" rx="6" ry="3"/><ellipse cx="70.4" cy="-122.9" rx="6" ry="3"/><ellipse cx="115.7" cy="-71.5" rx="6" ry="3"/><ellipse cx="93.4" cy="-96.8" rx="3.5" ry="2"/><path d="M130,-40 L150,-50 L142,-20 Z M146,-46 L138,-18" stroke-width="1.1"/></g><g transform="translate(493.0,1165.0) rotate(-30)"><path d="M9.0,-53.0 A38.2,53.0 0 0 1 9.0,53.0 L0.0,53.0 A38.2,53.0 0 0 1 0.0,-53.0 Z" fill="#fff" /><ellipse cx="0.0" cy="0" rx="38.2" ry="53.0" fill="#fff" /><ellipse cx="33.8" cy="0.0" rx="2.0" ry="2.8" fill="#fff"/><ellipse cx="32.7" cy="12.2" rx="2.0" ry="2.8" fill="#fff"/><ellipse cx="29.3" cy="23.5" rx="2.0" ry="2.8" fill="#fff"/><ellipse cx="23.9" cy="33.2" rx="2.0" ry="2.8" fill="#fff"/><ellipse cx="16.9" cy="40.7" rx="2.0" ry="2.8" fill="#fff"/><ellipse cx="8.8" cy="45.4" rx="2.0" ry="2.8" fill="#fff"/><ellipse cx="0.0" cy="47.0" rx="2.0" ry="2.8" fill="#fff"/><ellipse cx="-8.8" cy="45.4" rx="2.0" ry="2.8" fill="#fff"/><ellipse cx="-16.9" cy="40.7" rx="2.0" ry="2.8" fill="#fff"/><ellipse cx="-23.9" cy="33.2" rx="2.0" ry="2.8" fill="#fff"/><ellipse cx="-29.3" cy="23.5" rx="2.0" ry="2.8" fill="#fff"/><ellipse cx="-32.7" cy="12.2" rx="2.0" ry="2.8" fill="#fff"/><ellipse cx="-33.8" cy="0.0" rx="2.0" ry="2.8" fill="#fff"/><ellipse cx="-32.7" cy="-12.2" rx="2.0" ry="2.8" fill="#fff"/><ellipse cx="-29.3" cy="-23.5" rx="2.0" ry="2.8" fill="#fff"/><ellipse cx="-23.9" cy="-33.2" rx="2.0" ry="2.8" fill="#fff"/><ellipse cx="-16.9" cy="-40.7" rx="2.0" ry="2.8" fill="#fff"/><ellipse cx="-8.8" cy="-45.4" rx="2.0" ry="2.8" fill="#fff"/><ellipse cx="-0.0" cy="-47.0" rx="2.0" ry="2.8" fill="#fff"/><ellipse cx="8.8" cy="-45.4" rx="2.0" ry="2.8" fill="#fff"/><ellipse cx="16.9" cy="-40.7" rx="2.0" ry="2.8" fill="#fff"/><ellipse cx="23.9" cy="-33.2" rx="2.0" ry="2.8" fill="#fff"/><ellipse cx="29.3" cy="-23.5" rx="2.0" ry="2.8" fill="#fff"/><ellipse cx="32.7" cy="-12.2" rx="2.0" ry="2.8" fill="#fff"/><ellipse cx="0.0" cy="0" rx="29.5" ry="41.0" fill="none" /><ellipse cx="0.0" cy="0" rx="28.4" ry="39.5" fill="none" stroke-width="2.2"/><ellipse cx="0.0" cy="0" rx="15.1" ry="21.0" fill="none" /><ellipse cx="2.0" cy="0" rx="10.1" ry="14.0" fill="none" stroke-width="1.2"/><path d="M-2,-12 L-2,12 M4,-12 L4,12 M-6,0 L8,0" stroke-width="1"/></g>
<g transform="translate(307.3,1272.8) rotate(-30)"><path d="M124.0,-55.0 A38.5,55.0 0 0 1 124.0,55.0 L118.0,55.0 A38.5,55.0 0 0 1 118.0,-55.0 Z" fill="#fff" /><ellipse cx="118.0" cy="0" rx="38.5" ry="55.0" fill="#fff" /><ellipse cx="151.6" cy="0.0" rx="2.2" ry="3.1" fill="#fff"/><ellipse cx="150.5" cy="12.4" rx="2.2" ry="3.1" fill="#fff"/><ellipse cx="147.1" cy="24.0" rx="2.2" ry="3.1" fill="#fff"/><ellipse cx="141.8" cy="33.9" rx="2.2" ry="3.1" fill="#fff"/><ellipse cx="134.8" cy="41.6" rx="2.2" ry="3.1" fill="#fff"/><ellipse cx="126.7" cy="46.4" rx="2.2" ry="3.1" fill="#fff"/><ellipse cx="118.0" cy="48.0" rx="2.2" ry="3.1" fill="#fff"/><ellipse cx="109.3" cy="46.4" rx="2.2" ry="3.1" fill="#fff"/><ellipse cx="101.2" cy="41.6" rx="2.2" ry="3.1" fill="#fff"/><ellipse cx="94.2" cy="33.9" rx="2.2" ry="3.1" fill="#fff"/><ellipse cx="88.9" cy="24.0" rx="2.2" ry="3.1" fill="#fff"/><ellipse cx="85.5" cy="12.4" rx="2.2" ry="3.1" fill="#fff"/><ellipse cx="84.4" cy="0.0" rx="2.2" ry="3.1" fill="#fff"/><ellipse cx="85.5" cy="-12.4" rx="2.2" ry="3.1" fill="#fff"/><ellipse cx="88.9" cy="-24.0" rx="2.2" ry="3.1" fill="#fff"/><ellipse cx="94.2" cy="-33.9" rx="2.2" ry="3.1" fill="#fff"/><ellipse cx="101.2" cy="-41.6" rx="2.2" ry="3.1" fill="#fff"/><ellipse cx="109.3" cy="-46.4" rx="2.2" ry="3.1" fill="#fff"/><ellipse cx="118.0" cy="-48.0" rx="2.2" ry="3.1" fill="#fff"/><ellipse cx="126.7" cy="-46.4" rx="2.2" ry="3.1" fill="#fff"/><ellipse cx="134.8" cy="-41.6" rx="2.2" ry="3.1" fill="#fff"/><ellipse cx="141.8" cy="-33.9" rx="2.2" ry="3.1" fill="#fff"/><ellipse cx="147.1" cy="-24.0" rx="2.2" ry="3.1" fill="#fff"/><ellipse cx="150.5" cy="-12.4" rx="2.2" ry="3.1" fill="#fff"/><ellipse cx="118.0" cy="0" rx="28.0" ry="40.0" fill="none" /><ellipse cx="118.0" cy="0" rx="26.9" ry="38.5" fill="none" stroke-width="2.2"/><path d="M118.0,-41.0 A28.7,41.0 0 0 1 118.0,41.0 L110.0,41.0 A28.7,41.0 0 0 1 110.0,-41.0 Z" fill="#fff" /><path d="M110.0,-40.0 A28.0,40.0 0 0 1 110.0,40.0 L88.0,33.0 A23.1,33.0 0 0 1 88.0,-33.0 Z" fill="#fff" /><path d="M88.0,-31.0 A21.7,31.0 0 0 1 88.0,31.0 L66.0,31.0 A21.7,31.0 0 0 1 66.0,-31.0 Z" fill="#fff" /><path d="M88.0,-31.0 A21.7,31.0 0 0 1 88.0,31.0" fill="none" /><path d="M66.0,-30.0 A21.0,30.0 0 0 1 66.0,30.0 L60.0,30.0 A21.0,30.0 0 0 1 60.0,-30.0 Z" fill="#fff" /><path d="M66.0,-30.0 A21.0,30.0 0 0 1 66.0,30.0" fill="none" stroke-width="3"/><path d="M60.0,-27.0 A18.9,27.0 0 0 1 60.0,27.0 L44.0,21.0 A14.7,21.0 0 0 1 44.0,-21.0 Z" fill="#fff" /><path d="M44.0,-19.5 A13.6,19.5 0 0 1 44.0,19.5 L38.0,19.5 A13.6,19.5 0 0 1 38.0,-19.5 Z" fill="#fff" /><path d="M38.0,-18.0 A12.6,18.0 0 0 1 38.0,18.0 L16.0,18.0 A12.6,18.0 0 0 1 16.0,-18.0 Z" fill="#231f20" /><path d="M16.0,-16.5 A11.5,16.5 0 0 1 16.0,16.5 L7.0,16.5 A11.5,16.5 0 0 1 7.0,-16.5 Z" fill="#fff" /><path d="M7.0,-16.0 A11.2,16.0 0 0 1 7.0,16.0 L0.0,16.0 A11.2,16.0 0 0 1 0.0,-16.0 Z" fill="#fff" /><ellipse cx="0.0" cy="0" rx="11.2" ry="16.0" fill="#fff" /><ellipse cx="0.0" cy="0" rx="8.8" ry="12.5" fill="none" stroke-width="2.8"/><ellipse cx="0.0" cy="0" rx="7.3" ry="10.5" fill="none" /><line x1="0" y1="0" x2="-10" y2="6"/></g>
<g><path d="M266,1261 L285.5,1265 L285.5,1393 L266,1395.5 Z" fill="#fff"/><path d="M266,1261 Q245,1262 220,1268 Q196,1280 196,1318 Q198,1360 222,1380 L266,1395.5 Z" fill="#fff"/></g>
<g transform="translate(236.4,1319.0) rotate(-30)"><ellipse cx="0.0" cy="0" rx="27.3" ry="44.0" fill="none" fill="none"/><ellipse cx="21.3" cy="34.3" rx="2.0" ry="3.2" fill="#fff"/><ellipse cx="15.0" cy="42.0" rx="2.0" ry="3.2" fill="#fff"/><ellipse cx="7.8" cy="46.8" rx="2.0" ry="3.2" fill="#fff"/><ellipse cx="0.0" cy="48.5" rx="2.0" ry="3.2" fill="#fff"/><ellipse cx="-7.8" cy="46.8" rx="2.0" ry="3.2" fill="#fff"/><ellipse cx="-15.0" cy="42.0" rx="2.0" ry="3.2" fill="#fff"/><ellipse cx="-21.3" cy="34.3" rx="2.0" ry="3.2" fill="#fff"/><ellipse cx="-26.0" cy="24.2" rx="2.0" ry="3.2" fill="#fff"/><ellipse cx="-29.0" cy="12.6" rx="2.0" ry="3.2" fill="#fff"/><ellipse cx="-30.1" cy="0.0" rx="2.0" ry="3.2" fill="#fff"/><ellipse cx="-29.0" cy="-12.6" rx="2.0" ry="3.2" fill="#fff"/><ellipse cx="-26.0" cy="-24.2" rx="2.0" ry="3.2" fill="#fff"/><ellipse cx="-21.3" cy="-34.3" rx="2.0" ry="3.2" fill="#fff"/><ellipse cx="-15.0" cy="-42.0" rx="2.0" ry="3.2" fill="#fff"/><ellipse cx="-7.8" cy="-46.8" rx="2.0" ry="3.2" fill="#fff"/><ellipse cx="-0.0" cy="-48.5" rx="2.0" ry="3.2" fill="#fff"/><ellipse cx="7.8" cy="-46.8" rx="2.0" ry="3.2" fill="#fff"/><ellipse cx="15.0" cy="-42.0" rx="2.0" ry="3.2" fill="#fff"/><ellipse cx="21.3" cy="-34.3" rx="2.0" ry="3.2" fill="#fff"/><ellipse cx="0.0" cy="0" rx="24.2" ry="39.0" fill="none" /><ellipse cx="0.0" cy="0" rx="22.3" ry="36.0" fill="none" /></g>
<ellipse cx="275" cy="1276" rx="3" ry="4"/>
<ellipse cx="275" cy="1293" rx="3" ry="4"/>
<ellipse cx="275" cy="1372" rx="3" ry="4"/>
<ellipse cx="275" cy="1388" rx="3" ry="4"/>
<line x1="214" y1="1332" x2="245" y2="1314" stroke-width="1.1"/>
<g transform="translate(155.0,1365.0) rotate(-30)"><g transform="translate(35.9,0.0)"><path d="M14.0,-3.2 A2.5,3.2 0 0 1 14.0,3.2 L5.0,3.2 A2.5,3.2 0 0 1 5.0,-3.2 Z" fill="#fff" /><path d="M5.0,-6.0 A4.7,6.0 0 0 1 5.0,6.0 L2.5,6.0 A4.7,6.0 0 0 1 2.5,-6.0 Z" fill="#fff" /><ellipse cx="2.5" cy="0" rx="4.7" ry="6.0" fill="#fff" /><path d="M2.5,-5.2 A4.1,5.2 0 0 1 2.5,5.2 L0.0,5.2 A4.1,5.2 0 0 1 0.0,-5.2 Z" fill="#fff" /><ellipse cx="0.0" cy="0" rx="4.1" ry="5.2" fill="#fff" /></g><g transform="translate(34.4,13.0)"><path d="M14.0,-3.2 A2.5,3.2 0 0 1 14.0,3.2 L5.0,3.2 A2.5,3.2 0 0 1 5.0,-3.2 Z" fill="#fff" /><path d="M5.0,-6.0 A4.7,6.0 0 0 1 5.0,6.0 L2.5,6.0 A4.7,6.0 0 0 1 2.5,-6.0 Z" fill="#fff" /><ellipse cx="2.5" cy="0" rx="4.7" ry="6.0" fill="#fff" /><path d="M2.5,-5.2 A4.1,5.2 0 0 1 2.5,5.2 L0.0,5.2 A4.1,5.2 0 0 1 0.0,-5.2 Z" fill="#fff" /><ellipse cx="0.0" cy="0" rx="4.1" ry="5.2" fill="#fff" /></g><g transform="translate(34.4,-13.0)"><path d="M14.0,-3.2 A2.5,3.2 0 0 1 14.0,3.2 L5.0,3.2 A2.5,3.2 0 0 1 5.0,-3.2 Z" fill="#fff" /><path d="M5.0,-6.0 A4.7,6.0 0 0 1 5.0,6.0 L2.5,6.0 A4.7,6.0 0 0 1 2.5,-6.0 Z" fill="#fff" /><ellipse cx="2.5" cy="0" rx="4.7" ry="6.0" fill="#fff" /><path d="M2.5,-5.2 A4.1,5.2 0 0 1 2.5,5.2 L0.0,5.2 A4.1,5.2 0 0 1 0.0,-5.2 Z" fill="#fff" /><ellipse cx="0.0" cy="0" rx="4.1" ry="5.2" fill="#fff" /></g><g transform="translate(30.2,24.9)"><path d="M14.0,-3.2 A2.5,3.2 0 0 1 14.0,3.2 L5.0,3.2 A2.5,3.2 0 0 1 5.0,-3.2 Z" fill="#fff" /><path d="M5.0,-6.0 A4.7,6.0 0 0 1 5.0,6.0 L2.5,6.0 A4.7,6.0 0 0 1 2.5,-6.0 Z" fill="#fff" /><ellipse cx="2.5" cy="0" rx="4.7" ry="6.0" fill="#fff" /><path d="M2.5,-5.2 A4.1,5.2 0 0 1 2.5,5.2 L0.0,5.2 A4.1,5.2 0 0 1 0.0,-5.2 Z" fill="#fff" /><ellipse cx="0.0" cy="0" rx="4.1" ry="5.2" fill="#fff" /></g><g transform="translate(30.2,-24.9)"><path d="M14.0,-3.2 A2.5,3.2 0 0 1 14.0,3.2 L5.0,3.2 A2.5,3.2 0 0 1 5.0,-3.2 Z" fill="#fff" /><path d="M5.0,-6.0 A4.7,6.0 0 0 1 5.0,6.0 L2.5,6.0 A4.7,6.0 0 0 1 2.5,-6.0 Z" fill="#fff" /><ellipse cx="2.5" cy="0" rx="4.7" ry="6.0" fill="#fff" /><path d="M2.5,-5.2 A4.1,5.2 0 0 1 2.5,5.2 L0.0,5.2 A4.1,5.2 0 0 1 0.0,-5.2 Z" fill="#fff" /><ellipse cx="0.0" cy="0" rx="4.1" ry="5.2" fill="#fff" /></g><g transform="translate(23.5,34.8)"><path d="M14.0,-3.2 A2.5,3.2 0 0 1 14.0,3.2 L5.0,3.2 A2.5,3.2 0 0 1 5.0,-3.2 Z" fill="#fff" /><path d="M5.0,-6.0 A4.7,6.0 0 0 1 5.0,6.0 L2.5,6.0 A4.7,6.0 0 0 1 2.5,-6.0 Z" fill="#fff" /><ellipse cx="2.5" cy="0" rx="4.7" ry="6.0" fill="#fff" /><path d="M2.5,-5.2 A4.1,5.2 0 0 1 2.5,5.2 L0.0,5.2 A4.1,5.2 0 0 1 0.0,-5.2 Z" fill="#fff" /><ellipse cx="0.0" cy="0" rx="4.1" ry="5.2" fill="#fff" /></g><g transform="translate(23.5,-34.8)"><path d="M14.0,-3.2 A2.5,3.2 0 0 1 14.0,3.2 L5.0,3.2 A2.5,3.2 0 0 1 5.0,-3.2 Z" fill="#fff" /><path d="M5.0,-6.0 A4.7,6.0 0 0 1 5.0,6.0 L2.5,6.0 A4.7,6.0 0 0 1 2.5,-6.0 Z" fill="#fff" /><ellipse cx="2.5" cy="0" rx="4.7" ry="6.0" fill="#fff" /><path d="M2.5,-5.2 A4.1,5.2 0 0 1 2.5,5.2 L0.0,5.2 A4.1,5.2 0 0 1 0.0,-5.2 Z" fill="#fff" /><ellipse cx="0.0" cy="0" rx="4.1" ry="5.2" fill="#fff" /></g><g transform="translate(14.9,41.8)"><path d="M14.0,-3.2 A2.5,3.2 0 0 1 14.0,3.2 L5.0,3.2 A2.5,3.2 0 0 1 5.0,-3.2 Z" fill="#fff" /><path d="M5.0,-6.0 A4.7,6.0 0 0 1 5.0,6.0 L2.5,6.0 A4.7,6.0 0 0 1 2.5,-6.0 Z" fill="#fff" /><ellipse cx="2.5" cy="0" rx="4.7" ry="6.0" fill="#fff" /><path d="M2.5,-5.2 A4.1,5.2 0 0 1 2.5,5.2 L0.0,5.2 A4.1,5.2 0 0 1 0.0,-5.2 Z" fill="#fff" /><ellipse cx="0.0" cy="0" rx="4.1" ry="5.2" fill="#fff" /></g><g transform="translate(14.9,-41.8)"><path d="M14.0,-3.2 A2.5,3.2 0 0 1 14.0,3.2 L5.0,3.2 A2.5,3.2 0 0 1 5.0,-3.2 Z" fill="#fff" /><path d="M5.0,-6.0 A4.7,6.0 0 0 1 5.0,6.0 L2.5,6.0 A4.7,6.0 0 0 1 2.5,-6.0 Z" fill="#fff" /><ellipse cx="2.5" cy="0" rx="4.7" ry="6.0" fill="#fff" /><path d="M2.5,-5.2 A4.1,5.2 0 0 1 2.5,5.2 L0.0,5.2 A4.1,5.2 0 0 1 0.0,-5.2 Z" fill="#fff" /><ellipse cx="0.0" cy="0" rx="4.1" ry="5.2" fill="#fff" /></g><g transform="translate(5.1,45.5)"><path d="M14.0,-3.2 A2.5,3.2 0 0 1 14.0,3.2 L5.0,3.2 A2.5,3.2 0 0 1 5.0,-3.2 Z" fill="#fff" /><path d="M5.0,-6.0 A4.7,6.0 0 0 1 5.0,6.0 L2.5,6.0 A4.7,6.0 0 0 1 2.5,-6.0 Z" fill="#fff" /><ellipse cx="2.5" cy="0" rx="4.7" ry="6.0" fill="#fff" /><path d="M2.5,-5.2 A4.1,5.2 0 0 1 2.5,5.2 L0.0,5.2 A4.1,5.2 0 0 1 0.0,-5.2 Z" fill="#fff" /><ellipse cx="0.0" cy="0" rx="4.1" ry="5.2" fill="#fff" /></g><g transform="translate(5.1,-45.5)"><path d="M14.0,-3.2 A2.5,3.2 0 0 1 14.0,3.2 L5.0,3.2 A2.5,3.2 0 0 1 5.0,-3.2 Z" fill="#fff" /><path d="M5.0,-6.0 A4.7,6.0 0 0 1 5.0,6.0 L2.5,6.0 A4.7,6.0 0 0 1 2.5,-6.0 Z" fill="#fff" /><ellipse cx="2.5" cy="0" rx="4.7" ry="6.0" fill="#fff" /><path d="M2.5,-5.2 A4.1,5.2 0 0 1 2.5,5.2 L0.0,5.2 A4.1,5.2 0 0 1 0.0,-5.2 Z" fill="#fff" /><ellipse cx="0.0" cy="0" rx="4.1" ry="5.2" fill="#fff" /></g><g transform="translate(-5.1,45.5)"><path d="M14.0,-3.2 A2.5,3.2 0 0 1 14.0,3.2 L5.0,3.2 A2.5,3.2 0 0 1 5.0,-3.2 Z" fill="#fff" /><path d="M5.0,-6.0 A4.7,6.0 0 0 1 5.0,6.0 L2.5,6.0 A4.7,6.0 0 0 1 2.5,-6.0 Z" fill="#fff" /><ellipse cx="2.5" cy="0" rx="4.7" ry="6.0" fill="#fff" /><path d="M2.5,-5.2 A4.1,5.2 0 0 1 2.5,5.2 L0.0,5.2 A4.1,5.2 0 0 1 0.0,-5.2 Z" fill="#fff" /><ellipse cx="0.0" cy="0" rx="4.1" ry="5.2" fill="#fff" /></g><g transform="translate(-5.1,-45.5)"><path d="M14.0,-3.2 A2.5,3.2 0 0 1 14.0,3.2 L5.0,3.2 A2.5,3.2 0 0 1 5.0,-3.2 Z" fill="#fff" /><path d="M5.0,-6.0 A4.7,6.0 0 0 1 5.0,6.0 L2.5,6.0 A4.7,6.0 0 0 1 2.5,-6.0 Z" fill="#fff" /><ellipse cx="2.5" cy="0" rx="4.7" ry="6.0" fill="#fff" /><path d="M2.5,-5.2 A4.1,5.2 0 0 1 2.5,5.2 L0.0,5.2 A4.1,5.2 0 0 1 0.0,-5.2 Z" fill="#fff" /><ellipse cx="0.0" cy="0" rx="4.1" ry="5.2" fill="#fff" /></g><g transform="translate(-14.9,41.8)"><path d="M14.0,-3.2 A2.5,3.2 0 0 1 14.0,3.2 L5.0,3.2 A2.5,3.2 0 0 1 5.0,-3.2 Z" fill="#fff" /><path d="M5.0,-6.0 A4.7,6.0 0 0 1 5.0,6.0 L2.5,6.0 A4.7,6.0 0 0 1 2.5,-6.0 Z" fill="#fff" /><ellipse cx="2.5" cy="0" rx="4.7" ry="6.0" fill="#fff" /><path d="M2.5,-5.2 A4.1,5.2 0 0 1 2.5,5.2 L0.0,5.2 A4.1,5.2 0 0 1 0.0,-5.2 Z" fill="#fff" /><ellipse cx="0.0" cy="0" rx="4.1" ry="5.2" fill="#fff" /></g><g transform="translate(-14.9,-41.8)"><path d="M14.0,-3.2 A2.5,3.2 0 0 1 14.0,3.2 L5.0,3.2 A2.5,3.2 0 0 1 5.0,-3.2 Z" fill="#fff" /><path d="M5.0,-6.0 A4.7,6.0 0 0 1 5.0,6.0 L2.5,6.0 A4.7,6.0 0 0 1 2.5,-6.0 Z" fill="#fff" /><ellipse cx="2.5" cy="0" rx="4.7" ry="6.0" fill="#fff" /><path d="M2.5,-5.2 A4.1,5.2 0 0 1 2.5,5.2 L0.0,5.2 A4.1,5.2 0 0 1 0.0,-5.2 Z" fill="#fff" /><ellipse cx="0.0" cy="0" rx="4.1" ry="5.2" fill="#fff" /></g><g transform="translate(-23.5,34.8)"><path d="M14.0,-3.2 A2.5,3.2 0 0 1 14.0,3.2 L5.0,3.2 A2.5,3.2 0 0 1 5.0,-3.2 Z" fill="#fff" /><path d="M5.0,-6.0 A4.7,6.0 0 0 1 5.0,6.0 L2.5,6.0 A4.7,6.0 0 0 1 2.5,-6.0 Z" fill="#fff" /><ellipse cx="2.5" cy="0" rx="4.7" ry="6.0" fill="#fff" /><path d="M2.5,-5.2 A4.1,5.2 0 0 1 2.5,5.2 L0.0,5.2 A4.1,5.2 0 0 1 0.0,-5.2 Z" fill="#fff" /><ellipse cx="0.0" cy="0" rx="4.1" ry="5.2" fill="#fff" /></g><g transform="translate(-23.5,-34.8)"><path d="M14.0,-3.2 A2.5,3.2 0 0 1 14.0,3.2 L5.0,3.2 A2.5,3.2 0 0 1 5.0,-3.2 Z" fill="#fff" /><path d="M5.0,-6.0 A4.7,6.0 0 0 1 5.0,6.0 L2.5,6.0 A4.7,6.0 0 0 1 2.5,-6.0 Z" fill="#fff" /><ellipse cx="2.5" cy="0" rx="4.7" ry="6.0" fill="#fff" /><path d="M2.5,-5.2 A4.1,5.2 0 0 1 2.5,5.2 L0.0,5.2 A4.1,5.2 0 0 1 0.0,-5.2 Z" fill="#fff" /><ellipse cx="0.0" cy="0" rx="4.1" ry="5.2" fill="#fff" /></g><g transform="translate(-30.2,24.9)"><path d="M14.0,-3.2 A2.5,3.2 0 0 1 14.0,3.2 L5.0,3.2 A2.5,3.2 0 0 1 5.0,-3.2 Z" fill="#fff" /><path d="M5.0,-6.0 A4.7,6.0 0 0 1 5.0,6.0 L2.5,6.0 A4.7,6.0 0 0 1 2.5,-6.0 Z" fill="#fff" /><ellipse cx="2.5" cy="0" rx="4.7" ry="6.0" fill="#fff" /><path d="M2.5,-5.2 A4.1,5.2 0 0 1 2.5,5.2 L0.0,5.2 A4.1,5.2 0 0 1 0.0,-5.2 Z" fill="#fff" /><ellipse cx="0.0" cy="0" rx="4.1" ry="5.2" fill="#fff" /></g><g transform="translate(-30.2,-24.9)"><path d="M14.0,-3.2 A2.5,3.2 0 0 1 14.0,3.2 L5.0,3.2 A2.5,3.2 0 0 1 5.0,-3.2 Z" fill="#fff" /><path d="M5.0,-6.0 A4.7,6.0 0 0 1 5.0,6.0 L2.5,6.0 A4.7,6.0 0 0 1 2.5,-6.0 Z" fill="#fff" /><ellipse cx="2.5" cy="0" rx="4.7" ry="6.0" fill="#fff" /><path d="M2.5,-5.2 A4.1,5.2 0 0 1 2.5,5.2 L0.0,5.2 A4.1,5.2 0 0 1 0.0,-5.2 Z" fill="#fff" /><ellipse cx="0.0" cy="0" rx="4.1" ry="5.2" fill="#fff" /></g><g transform="translate(-34.4,13.0)"><path d="M14.0,-3.2 A2.5,3.2 0 0 1 14.0,3.2 L5.0,3.2 A2.5,3.2 0 0 1 5.0,-3.2 Z" fill="#fff" /><path d="M5.0,-6.0 A4.7,6.0 0 0 1 5.0,6.0 L2.5,6.0 A4.7,6.0 0 0 1 2.5,-6.0 Z" fill="#fff" /><ellipse cx="2.5" cy="0" rx="4.7" ry="6.0" fill="#fff" /><path d="M2.5,-5.2 A4.1,5.2 0 0 1 2.5,5.2 L0.0,5.2 A4.1,5.2 0 0 1 0.0,-5.2 Z" fill="#fff" /><ellipse cx="0.0" cy="0" rx="4.1" ry="5.2" fill="#fff" /></g><g transform="translate(-34.4,-13.0)"><path d="M14.0,-3.2 A2.5,3.2 0 0 1 14.0,3.2 L5.0,3.2 A2.5,3.2 0 0 1 5.0,-3.2 Z" fill="#fff" /><path d="M5.0,-6.0 A4.7,6.0 0 0 1 5.0,6.0 L2.5,6.0 A4.7,6.0 0 0 1 2.5,-6.0 Z" fill="#fff" /><ellipse cx="2.5" cy="0" rx="4.7" ry="6.0" fill="#fff" /><path d="M2.5,-5.2 A4.1,5.2 0 0 1 2.5,5.2 L0.0,5.2 A4.1,5.2 0 0 1 0.0,-5.2 Z" fill="#fff" /><ellipse cx="0.0" cy="0" rx="4.1" ry="5.2" fill="#fff" /></g><g transform="translate(-35.9,0.0)"><path d="M14.0,-3.2 A2.5,3.2 0 0 1 14.0,3.2 L5.0,3.2 A2.5,3.2 0 0 1 5.0,-3.2 Z" fill="#fff" /><path d="M5.0,-6.0 A4.7,6.0 0 0 1 5.0,6.0 L2.5,6.0 A4.7,6.0 0 0 1 2.5,-6.0 Z" fill="#fff" /><ellipse cx="2.5" cy="0" rx="4.7" ry="6.0" fill="#fff" /><path d="M2.5,-5.2 A4.1,5.2 0 0 1 2.5,5.2 L0.0,5.2 A4.1,5.2 0 0 1 0.0,-5.2 Z" fill="#fff" /><ellipse cx="0.0" cy="0" rx="4.1" ry="5.2" fill="#fff" /></g></g>
<text x="285.5" y="1160.2" font-size="18" font-weight="400" letter-spacing="1.6" text-anchor="start" fill="#231f20" stroke="#231f20" stroke-width="0.55" font-family="Liberation Sans, sans-serif">轴头</text>
<line x1="321.0" y1="1166.0" x2="350.9" y2="1196.7" stroke="#e41f26" stroke-width="2.4" stroke-linecap="butt"/><polygon points="362.0,1208.0 340.2,1198.5 350.9,1196.7 353.1,1186.0" fill="#e41f26" stroke="none"/>
<text x="117.7" y="1216.2" font-size="18" font-weight="400" letter-spacing="1.6" text-anchor="start" fill="#231f20" stroke="#231f20" stroke-width="0.55" font-family="Liberation Sans, sans-serif">制动底板</text>
<line x1="194.0" y1="1222.0" x2="223.1" y2="1252.5" stroke="#e41f26" stroke-width="2.4" stroke-linecap="butt"/><polygon points="234.0,1264.0 212.3,1254.3 223.1,1252.5 225.3,1241.9" fill="#e41f26" stroke="none"/>
<text x="233.7" y="1442.8" font-size="18" font-weight="400" letter-spacing="1.6" text-anchor="start" fill="#231f20" stroke="#231f20" stroke-width="0.55" font-family="Liberation Sans, sans-serif">六角头螺栓 / 平垫片</text>
<line x1="234.0" y1="1424.0" x2="204.1" y2="1393.3" stroke="#e41f26" stroke-width="2.4" stroke-linecap="butt"/><polygon points="193.0,1382.0 214.8,1391.5 204.1,1393.3 201.9,1404.0" fill="#e41f26" stroke="none"/>
<polygon points="112.0,1393.0 119.9,1374.6 123.1,1380.2 138.7,1371.2 144.2,1380.8 128.6,1389.8 131.9,1395.4" fill="#e41f26" stroke="none"/>
<line x1="938" y1="1367" x2="1193" y2="1218" stroke-width="1.1" stroke-dasharray="14 10"/>
<line x1="940" y1="1320" x2="1000" y2="1285" stroke-width="1.1"/>
<g transform="translate(1193.0,1165.3)"><g transform="rotate(-30)"><path d="M10,-40 L60,-40 M10,41 L155,41 L155,0 M10,-24 L150,-24 M30,6 L152,6" /><path d="M120,-24 L120,41 M135,41 L150,10 L150,41" stroke-width="1.2"/></g><path d="M24,-78 L24,-100 Q25,-108 33,-112 L78,-132 Q84,-134 88,-129 L154,-42 L140,-48 Q126,-52 120,-60 L100,-64 Q60,-70 30,-77 Z" fill="#fff"/><path d="M24,-100 Q40,-94 46,-79 M100,-64 Q104,-58 102,-50 M120,-60 L118,-40 M140,-48 L138,-30" stroke-width="1.2"/><ellipse cx="38.4" cy="-104.3" rx="6" ry="3"/><ellipse cx="70.4" cy="-122.9" rx="6" ry="3"/><ellipse cx="115.7" cy="-71.5" rx="6" ry="3"/><ellipse cx="93.4" cy="-96.8" rx="3.5" ry="2"/><path d="M130,-40 L150,-50 L142,-20 Z M146,-46 L138,-18" stroke-width="1.1"/></g><g transform="translate(1193.0,1165.3) rotate(-30)"><path d="M9.0,-53.0 A38.2,53.0 0 0 1 9.0,53.0 L0.0,53.0 A38.2,53.0 0 0 1 0.0,-53.0 Z" fill="#fff" /><ellipse cx="0.0" cy="0" rx="38.2" ry="53.0" fill="#fff" /><ellipse cx="33.8" cy="0.0" rx="2.0" ry="2.8" fill="#fff"/><ellipse cx="32.7" cy="12.2" rx="2.0" ry="2.8" fill="#fff"/><ellipse cx="29.3" cy="23.5" rx="2.0" ry="2.8" fill="#fff"/><ellipse cx="23.9" cy="33.2" rx="2.0" ry="2.8" fill="#fff"/><ellipse cx="16.9" cy="40.7" rx="2.0" ry="2.8" fill="#fff"/><ellipse cx="8.8" cy="45.4" rx="2.0" ry="2.8" fill="#fff"/><ellipse cx="0.0" cy="47.0" rx="2.0" ry="2.8" fill="#fff"/><ellipse cx="-8.8" cy="45.4" rx="2.0" ry="2.8" fill="#fff"/><ellipse cx="-16.9" cy="40.7" rx="2.0" ry="2.8" fill="#fff"/><ellipse cx="-23.9" cy="33.2" rx="2.0" ry="2.8" fill="#fff"/><ellipse cx="-29.3" cy="23.5" rx="2.0" ry="2.8" fill="#fff"/><ellipse cx="-32.7" cy="12.2" rx="2.0" ry="2.8" fill="#fff"/><ellipse cx="-33.8" cy="0.0" rx="2.0" ry="2.8" fill="#fff"/><ellipse cx="-32.7" cy="-12.2" rx="2.0" ry="2.8" fill="#fff"/><ellipse cx="-29.3" cy="-23.5" rx="2.0" ry="2.8" fill="#fff"/><ellipse cx="-23.9" cy="-33.2" rx="2.0" ry="2.8" fill="#fff"/><ellipse cx="-16.9" cy="-40.7" rx="2.0" ry="2.8" fill="#fff"/><ellipse cx="-8.8" cy="-45.4" rx="2.0" ry="2.8" fill="#fff"/><ellipse cx="-0.0" cy="-47.0" rx="2.0" ry="2.8" fill="#fff"/><ellipse cx="8.8" cy="-45.4" rx="2.0" ry="2.8" fill="#fff"/><ellipse cx="16.9" cy="-40.7" rx="2.0" ry="2.8" fill="#fff"/><ellipse cx="23.9" cy="-33.2" rx="2.0" ry="2.8" fill="#fff"/><ellipse cx="29.3" cy="-23.5" rx="2.0" ry="2.8" fill="#fff"/><ellipse cx="32.7" cy="-12.2" rx="2.0" ry="2.8" fill="#fff"/><ellipse cx="0.0" cy="0" rx="29.5" ry="41.0" fill="none" /><ellipse cx="0.0" cy="0" rx="28.4" ry="39.5" fill="none" stroke-width="2.2"/><ellipse cx="0.0" cy="0" rx="15.1" ry="21.0" fill="none" /><ellipse cx="2.0" cy="0" rx="10.1" ry="14.0" fill="none" stroke-width="1.2"/><path d="M-2,-12 L-2,12 M4,-12 L4,12 M-6,0 L8,0" stroke-width="1"/></g>
<g transform="translate(1017.2,1270.0) rotate(-30)"><path d="M124.0,-55.0 A38.5,55.0 0 0 1 124.0,55.0 L118.0,55.0 A38.5,55.0 0 0 1 118.0,-55.0 Z" fill="#fff" /><ellipse cx="118.0" cy="0" rx="38.5" ry="55.0" fill="#fff" /><ellipse cx="151.6" cy="0.0" rx="2.2" ry="3.1" fill="#fff"/><ellipse cx="150.5" cy="12.4" rx="2.2" ry="3.1" fill="#fff"/><ellipse cx="147.1" cy="24.0" rx="2.2" ry="3.1" fill="#fff"/><ellipse cx="141.8" cy="33.9" rx="2.2" ry="3.1" fill="#fff"/><ellipse cx="134.8" cy="41.6" rx="2.2" ry="3.1" fill="#fff"/><ellipse cx="126.7" cy="46.4" rx="2.2" ry="3.1" fill="#fff"/><ellipse cx="118.0" cy="48.0" rx="2.2" ry="3.1" fill="#fff"/><ellipse cx="109.3" cy="46.4" rx="2.2" ry="3.1" fill="#fff"/><ellipse cx="101.2" cy="41.6" rx="2.2" ry="3.1" fill="#fff"/><ellipse cx="94.2" cy="33.9" rx="2.2" ry="3.1" fill="#fff"/><ellipse cx="88.9" cy="24.0" rx="2.2" ry="3.1" fill="#fff"/><ellipse cx="85.5" cy="12.4" rx="2.2" ry="3.1" fill="#fff"/><ellipse cx="84.4" cy="0.0" rx="2.2" ry="3.1" fill="#fff"/><ellipse cx="85.5" cy="-12.4" rx="2.2" ry="3.1" fill="#fff"/><ellipse cx="88.9" cy="-24.0" rx="2.2" ry="3.1" fill="#fff"/><ellipse cx="94.2" cy="-33.9" rx="2.2" ry="3.1" fill="#fff"/><ellipse cx="101.2" cy="-41.6" rx="2.2" ry="3.1" fill="#fff"/><ellipse cx="109.3" cy="-46.4" rx="2.2" ry="3.1" fill="#fff"/><ellipse cx="118.0" cy="-48.0" rx="2.2" ry="3.1" fill="#fff"/><ellipse cx="126.7" cy="-46.4" rx="2.2" ry="3.1" fill="#fff"/><ellipse cx="134.8" cy="-41.6" rx="2.2" ry="3.1" fill="#fff"/><ellipse cx="141.8" cy="-33.9" rx="2.2" ry="3.1" fill="#fff"/><ellipse cx="147.1" cy="-24.0" rx="2.2" ry="3.1" fill="#fff"/><ellipse cx="150.5" cy="-12.4" rx="2.2" ry="3.1" fill="#fff"/><ellipse cx="118.0" cy="0" rx="28.0" ry="40.0" fill="none" /><ellipse cx="118.0" cy="0" rx="26.9" ry="38.5" fill="none" stroke-width="2.2"/><path d="M118.0,-41.0 A28.7,41.0 0 0 1 118.0,41.0 L110.0,41.0 A28.7,41.0 0 0 1 110.0,-41.0 Z" fill="#fff" /><path d="M110.0,-40.0 A28.0,40.0 0 0 1 110.0,40.0 L88.0,33.0 A23.1,33.0 0 0 1 88.0,-33.0 Z" fill="#fff" /><path d="M88.0,-31.0 A21.7,31.0 0 0 1 88.0,31.0 L66.0,31.0 A21.7,31.0 0 0 1 66.0,-31.0 Z" fill="#fff" /><path d="M88.0,-31.0 A21.7,31.0 0 0 1 88.0,31.0" fill="none" /><path d="M66.0,-30.0 A21.0,30.0 0 0 1 66.0,30.0 L60.0,30.0 A21.0,30.0 0 0 1 60.0,-30.0 Z" fill="#fff" /><path d="M66.0,-30.0 A21.0,30.0 0 0 1 66.0,30.0" fill="none" stroke-width="3"/><path d="M60.0,-27.0 A18.9,27.0 0 0 1 60.0,27.0 L44.0,21.0 A14.7,21.0 0 0 1 44.0,-21.0 Z" fill="#fff" /><path d="M44.0,-19.5 A13.6,19.5 0 0 1 44.0,19.5 L38.0,19.5 A13.6,19.5 0 0 1 38.0,-19.5 Z" fill="#fff" /><path d="M38.0,-18.0 A12.6,18.0 0 0 1 38.0,18.0 L16.0,18.0 A12.6,18.0 0 0 1 16.0,-18.0 Z" fill="#231f20" /><path d="M16.0,-16.5 A11.5,16.5 0 0 1 16.0,16.5 L7.0,16.5 A11.5,16.5 0 0 1 7.0,-16.5 Z" fill="#fff" /><path d="M7.0,-16.0 A11.2,16.0 0 0 1 7.0,16.0 L0.0,16.0 A11.2,16.0 0 0 1 0.0,-16.0 Z" fill="#fff" /><ellipse cx="0.0" cy="0" rx="11.2" ry="16.0" fill="#fff" /><ellipse cx="0.0" cy="0" rx="8.8" ry="12.5" fill="none" stroke-width="2.8"/><ellipse cx="0.0" cy="0" rx="7.3" ry="10.5" fill="none" /><line x1="0" y1="0" x2="-10" y2="6"/></g>
<g transform="translate(943.0,1314.0) rotate(-30)"><path d="M33.0,-50.0 A36.0,50.0 0 0 1 33.0,50.0 L28.0,50.0 A36.0,50.0 0 0 1 28.0,-50.0 Z" fill="#fff" /><ellipse cx="28.0" cy="0" rx="36.0" ry="50.0" fill="#fff" /><ellipse cx="60.4" cy="0.0" rx="1.7" ry="2.4" fill="#fff"/><ellipse cx="59.6" cy="10.0" rx="1.7" ry="2.4" fill="#fff"/><ellipse cx="57.2" cy="19.5" rx="1.7" ry="2.4" fill="#fff"/><ellipse cx="53.3" cy="28.1" rx="1.7" ry="2.4" fill="#fff"/><ellipse cx="48.2" cy="35.2" rx="1.7" ry="2.4" fill="#fff"/><ellipse cx="42.1" cy="40.5" rx="1.7" ry="2.4" fill="#fff"/><ellipse cx="35.2" cy="43.9" rx="1.7" ry="2.4" fill="#fff"/><ellipse cx="28.0" cy="45.0" rx="1.7" ry="2.4" fill="#fff"/><ellipse cx="20.8" cy="43.9" rx="1.7" ry="2.4" fill="#fff"/><ellipse cx="13.9" cy="40.5" rx="1.7" ry="2.4" fill="#fff"/><ellipse cx="7.8" cy="35.2" rx="1.7" ry="2.4" fill="#fff"/><ellipse cx="2.7" cy="28.1" rx="1.7" ry="2.4" fill="#fff"/><ellipse cx="-1.2" cy="19.5" rx="1.7" ry="2.4" fill="#fff"/><ellipse cx="-3.6" cy="10.0" rx="1.7" ry="2.4" fill="#fff"/><ellipse cx="-4.4" cy="0.0" rx="1.7" ry="2.4" fill="#fff"/><ellipse cx="-3.6" cy="-10.0" rx="1.7" ry="2.4" fill="#fff"/><ellipse cx="-1.2" cy="-19.5" rx="1.7" ry="2.4" fill="#fff"/><ellipse cx="2.7" cy="-28.1" rx="1.7" ry="2.4" fill="#fff"/><ellipse cx="7.8" cy="-35.2" rx="1.7" ry="2.4" fill="#fff"/><ellipse cx="13.9" cy="-40.5" rx="1.7" ry="2.4" fill="#fff"/><ellipse cx="20.8" cy="-43.9" rx="1.7" ry="2.4" fill="#fff"/><ellipse cx="28.0" cy="-45.0" rx="1.7" ry="2.4" fill="#fff"/><ellipse cx="35.2" cy="-43.9" rx="1.7" ry="2.4" fill="#fff"/><ellipse cx="42.1" cy="-40.5" rx="1.7" ry="2.4" fill="#fff"/><ellipse cx="48.2" cy="-35.2" rx="1.7" ry="2.4" fill="#fff"/><ellipse cx="53.3" cy="-28.1" rx="1.7" ry="2.4" fill="#fff"/><ellipse cx="57.2" cy="-19.5" rx="1.7" ry="2.4" fill="#fff"/><ellipse cx="59.6" cy="-10.0" rx="1.7" ry="2.4" fill="#fff"/></g>
<g transform="translate(943.0,1314.0) rotate(-30)"><g transform="translate(27.4,0.0)"><path d="M28.0,-3.0 A2.2,3.0 0 0 1 28.0,3.0 L4.0,3.0 A2.2,3.0 0 0 1 4.0,-3.0 Z" fill="#fff" /><path d="M4.0,-4.2 A3.0,4.2 0 0 1 4.0,4.2 L0.0,4.2 A3.0,4.2 0 0 1 0.0,-4.2 Z" fill="#fff" /><ellipse cx="0.0" cy="0" rx="3.0" ry="4.2" fill="#fff" /><ellipse cx="0.0" cy="0" rx="1.4" ry="1.9" fill="none" stroke-width="1.2"/></g><g transform="translate(26.4,9.8)"><path d="M28.0,-3.0 A2.2,3.0 0 0 1 28.0,3.0 L4.0,3.0 A2.2,3.0 0 0 1 4.0,-3.0 Z" fill="#fff" /><path d="M4.0,-4.2 A3.0,4.2 0 0 1 4.0,4.2 L0.0,4.2 A3.0,4.2 0 0 1 0.0,-4.2 Z" fill="#fff" /><ellipse cx="0.0" cy="0" rx="3.0" ry="4.2" fill="#fff" /><ellipse cx="0.0" cy="0" rx="1.4" ry="1.9" fill="none" stroke-width="1.2"/></g><g transform="translate(26.4,-9.8)"><path d="M28.0,-3.0 A2.2,3.0 0 0 1 28.0,3.0 L4.0,3.0 A2.2,3.0 0 0 1 4.0,-3.0 Z" fill="#fff" /><path d="M4.0,-4.2 A3.0,4.2 0 0 1 4.0,4.2 L0.0,4.2 A3.0,4.2 0 0 1 0.0,-4.2 Z" fill="#fff" /><ellipse cx="0.0" cy="0" rx="3.0" ry="4.2" fill="#fff" /><ellipse cx="0.0" cy="0" rx="1.4" ry="1.9" fill="none" stroke-width="1.2"/></g><g transform="translate(23.7,19.0)"><path d="M28.0,-3.0 A2.2,3.0 0 0 1 28.0,3.0 L4.0,3.0 A2.2,3.0 0 0 1 4.0,-3.0 Z" fill="#fff" /><path d="M4.0,-4.2 A3.0,4.2 0 0 1 4.0,4.2 L0.0,4.2 A3.0,4.2 0 0 1 0.0,-4.2 Z" fill="#fff" /><ellipse cx="0.0" cy="0" rx="3.0" ry="4.2" fill="#fff" /><ellipse cx="0.0" cy="0" rx="1.4" ry="1.9" fill="none" stroke-width="1.2"/></g><g transform="translate(23.7,-19.0)"><path d="M28.0,-3.0 A2.2,3.0 0 0 1 28.0,3.0 L4.0,3.0 A2.2,3.0 0 0 1 4.0,-3.0 Z" fill="#fff" /><path d="M4.0,-4.2 A3.0,4.2 0 0 1 4.0,4.2 L0.0,4.2 A3.0,4.2 0 0 1 0.0,-4.2 Z" fill="#fff" /><ellipse cx="0.0" cy="0" rx="3.0" ry="4.2" fill="#fff" /><ellipse cx="0.0" cy="0" rx="1.4" ry="1.9" fill="none" stroke-width="1.2"/></g><g transform="translate(19.3,26.9)"><path d="M28.0,-3.0 A2.2,3.0 0 0 1 28.0,3.0 L4.0,3.0 A2.2,3.0 0 0 1 4.0,-3.0 Z" fill="#fff" /><path d="M4.0,-4.2 A3.0,4.2 0 0 1 4.0,4.2 L0.0,4.2 A3.0,4.2 0 0 1 0.0,-4.2 Z" fill="#fff" /><ellipse cx="0.0" cy="0" rx="3.0" ry="4.2" fill="#fff" /><ellipse cx="0.0" cy="0" rx="1.4" ry="1.9" fill="none" stroke-width="1.2"/></g><g transform="translate(19.3,-26.9)"><path d="M28.0,-3.0 A2.2,3.0 0 0 1 28.0,3.0 L4.0,3.0 A2.2,3.0 0 0 1 4.0,-3.0 Z" fill="#fff" /><path d="M4.0,-4.2 A3.0,4.2 0 0 1 4.0,4.2 L0.0,4.2 A3.0,4.2 0 0 1 0.0,-4.2 Z" fill="#fff" /><ellipse cx="0.0" cy="0" rx="3.0" ry="4.2" fill="#fff" /><ellipse cx="0.0" cy="0" rx="1.4" ry="1.9" fill="none" stroke-width="1.2"/></g><g transform="translate(13.7,32.9)"><path d="M28.0,-3.0 A2.2,3.0 0 0 1 28.0,3.0 L4.0,3.0 A2.2,3.0 0 0 1 4.0,-3.0 Z" fill="#fff" /><path d="M4.0,-4.2 A3.0,4.2 0 0 1 4.0,4.2 L0.0,4.2 A3.0,4.2 0 0 1 0.0,-4.2 Z" fill="#fff" /><ellipse cx="0.0" cy="0" rx="3.0" ry="4.2" fill="#fff" /><ellipse cx="0.0" cy="0" rx="1.4" ry="1.9" fill="none" stroke-width="1.2"/></g><g transform="translate(13.7,-32.9)"><path d="M28.0,-3.0 A2.2,3.0 0 0 1 28.0,3.0 L4.0,3.0 A2.2,3.0 0 0 1 4.0,-3.0 Z" fill="#fff" /><path d="M4.0,-4.2 A3.0,4.2 0 0 1 4.0,4.2 L0.0,4.2 A3.0,4.2 0 0 1 0.0,-4.2 Z" fill="#fff" /><ellipse cx="0.0" cy="0" rx="3.0" ry="4.2" fill="#fff" /><ellipse cx="0.0" cy="0" rx="1.4" ry="1.9" fill="none" stroke-width="1.2"/></g><g transform="translate(7.1,36.7)"><path d="M28.0,-3.0 A2.2,3.0 0 0 1 28.0,3.0 L4.0,3.0 A2.2,3.0 0 0 1 4.0,-3.0 Z" fill="#fff" /><path d="M4.0,-4.2 A3.0,4.2 0 0 1 4.0,4.2 L0.0,4.2 A3.0,4.2 0 0 1 0.0,-4.2 Z" fill="#fff" /><ellipse cx="0.0" cy="0" rx="3.0" ry="4.2" fill="#fff" /><ellipse cx="0.0" cy="0" rx="1.4" ry="1.9" fill="none" stroke-width="1.2"/></g><g transform="translate(7.1,-36.7)"><path d="M28.0,-3.0 A2.2,3.0 0 0 1 28.0,3.0 L4.0,3.0 A2.2,3.0 0 0 1 4.0,-3.0 Z" fill="#fff" /><path d="M4.0,-4.2 A3.0,4.2 0 0 1 4.0,4.2 L0.0,4.2 A3.0,4.2 0 0 1 0.0,-4.2 Z" fill="#fff" /><ellipse cx="0.0" cy="0" rx="3.0" ry="4.2" fill="#fff" /><ellipse cx="0.0" cy="0" rx="1.4" ry="1.9" fill="none" stroke-width="1.2"/></g><g transform="translate(0.0,38.0)"><path d="M28.0,-3.0 A2.2,3.0 0 0 1 28.0,3.0 L4.0,3.0 A2.2,3.0 0 0 1 4.0,-3.0 Z" fill="#fff" /><path d="M4.0,-4.2 A3.0,4.2 0 0 1 4.0,4.2 L0.0,4.2 A3.0,4.2 0 0 1 0.0,-4.2 Z" fill="#fff" /><ellipse cx="0.0" cy="0" rx="3.0" ry="4.2" fill="#fff" /><ellipse cx="0.0" cy="0" rx="1.4" ry="1.9" fill="none" stroke-width="1.2"/></g><g transform="translate(-0.0,-38.0)"><path d="M28.0,-3.0 A2.2,3.0 0 0 1 28.0,3.0 L4.0,3.0 A2.2,3.0 0 0 1 4.0,-3.0 Z" fill="#fff" /><path d="M4.0,-4.2 A3.0,4.2 0 0 1 4.0,4.2 L0.0,4.2 A3.0,4.2 0 0 1 0.0,-4.2 Z" fill="#fff" /><ellipse cx="0.0" cy="0" rx="3.0" ry="4.2" fill="#fff" /><ellipse cx="0.0" cy="0" rx="1.4" ry="1.9" fill="none" stroke-width="1.2"/></g><g transform="translate(-7.1,36.7)"><path d="M28.0,-3.0 A2.2,3.0 0 0 1 28.0,3.0 L4.0,3.0 A2.2,3.0 0 0 1 4.0,-3.0 Z" fill="#fff" /><path d="M4.0,-4.2 A3.0,4.2 0 0 1 4.0,4.2 L0.0,4.2 A3.0,4.2 0 0 1 0.0,-4.2 Z" fill="#fff" /><ellipse cx="0.0" cy="0" rx="3.0" ry="4.2" fill="#fff" /><ellipse cx="0.0" cy="0" rx="1.4" ry="1.9" fill="none" stroke-width="1.2"/></g><g transform="translate(-7.1,-36.7)"><path d="M28.0,-3.0 A2.2,3.0 0 0 1 28.0,3.0 L4.0,3.0 A2.2,3.0 0 0 1 4.0,-3.0 Z" fill="#fff" /><path d="M4.0,-4.2 A3.0,4.2 0 0 1 4.0,4.2 L0.0,4.2 A3.0,4.2 0 0 1 0.0,-4.2 Z" fill="#fff" /><ellipse cx="0.0" cy="0" rx="3.0" ry="4.2" fill="#fff" /><ellipse cx="0.0" cy="0" rx="1.4" ry="1.9" fill="none" stroke-width="1.2"/></g><g transform="translate(-13.7,32.9)"><path d="M28.0,-3.0 A2.2,3.0 0 0 1 28.0,3.0 L4.0,3.0 A2.2,3.0 0 0 1 4.0,-3.0 Z" fill="#fff" /><path d="M4.0,-4.2 A3.0,4.2 0 0 1 4.0,4.2 L0.0,4.2 A3.0,4.2 0 0 1 0.0,-4.2 Z" fill="#fff" /><ellipse cx="0.0" cy="0" rx="3.0" ry="4.2" fill="#fff" /><ellipse cx="0.0" cy="0" rx="1.4" ry="1.9" fill="none" stroke-width="1.2"/></g><g transform="translate(-13.7,-32.9)"><path d="M28.0,-3.0 A2.2,3.0 0 0 1 28.0,3.0 L4.0,3.0 A2.2,3.0 0 0 1 4.0,-3.0 Z" fill="#fff" /><path d="M4.0,-4.2 A3.0,4.2 0 0 1 4.0,4.2 L0.0,4.2 A3.0,4.2 0 0 1 0.0,-4.2 Z" fill="#fff" /><ellipse cx="0.0" cy="0" rx="3.0" ry="4.2" fill="#fff" /><ellipse cx="0.0" cy="0" rx="1.4" ry="1.9" fill="none" stroke-width="1.2"/></g><g transform="translate(-19.3,26.9)"><path d="M28.0,-3.0 A2.2,3.0 0 0 1 28.0,3.0 L4.0,3.0 A2.2,3.0 0 0 1 4.0,-3.0 Z" fill="#fff" /><path d="M4.0,-4.2 A3.0,4.2 0 0 1 4.0,4.2 L0.0,4.2 A3.0,4.2 0 0 1 0.0,-4.2 Z" fill="#fff" /><ellipse cx="0.0" cy="0" rx="3.0" ry="4.2" fill="#fff" /><ellipse cx="0.0" cy="0" rx="1.4" ry="1.9" fill="none" stroke-width="1.2"/></g><g transform="translate(-19.3,-26.9)"><path d="M28.0,-3.0 A2.2,3.0 0 0 1 28.0,3.0 L4.0,3.0 A2.2,3.0 0 0 1 4.0,-3.0 Z" fill="#fff" /><path d="M4.0,-4.2 A3.0,4.2 0 0 1 4.0,4.2 L0.0,4.2 A3.0,4.2 0 0 1 0.0,-4.2 Z" fill="#fff" /><ellipse cx="0.0" cy="0" rx="3.0" ry="4.2" fill="#fff" /><ellipse cx="0.0" cy="0" rx="1.4" ry="1.9" fill="none" stroke-width="1.2"/></g><g transform="translate(-23.7,19.0)"><path d="M28.0,-3.0 A2.2,3.0 0 0 1 28.0,3.0 L4.0,3.0 A2.2,3.0 0 0 1 4.0,-3.0 Z" fill="#fff" /><path d="M4.0,-4.2 A3.0,4.2 0 0 1 4.0,4.2 L0.0,4.2 A3.0,4.2 0 0 1 0.0,-4.2 Z" fill="#fff" /><ellipse cx="0.0" cy="0" rx="3.0" ry="4.2" fill="#fff" /><ellipse cx="0.0" cy="0" rx="1.4" ry="1.9" fill="none" stroke-width="1.2"/></g><g transform="translate(-23.7,-19.0)"><path d="M28.0,-3.0 A2.2,3.0 0 0 1 28.0,3.0 L4.0,3.0 A2.2,3.0 0 0 1 4.0,-3.0 Z" fill="#fff" /><path d="M4.0,-4.2 A3.0,4.2 0 0 1 4.0,4.2 L0.0,4.2 A3.0,4.2 0 0 1 0.0,-4.2 Z" fill="#fff" /><ellipse cx="0.0" cy="0" rx="3.0" ry="4.2" fill="#fff" /><ellipse cx="0.0" cy="0" rx="1.4" ry="1.9" fill="none" stroke-width="1.2"/></g><g transform="translate(-26.4,9.8)"><path d="M28.0,-3.0 A2.2,3.0 0 0 1 28.0,3.0 L4.0,3.0 A2.2,3.0 0 0 1 4.0,-3.0 Z" fill="#fff" /><path d="M4.0,-4.2 A3.0,4.2 0 0 1 4.0,4.2 L0.0,4.2 A3.0,4.2 0 0 1 0.0,-4.2 Z" fill="#fff" /><ellipse cx="0.0" cy="0" rx="3.0" ry="4.2" fill="#fff" /><ellipse cx="0.0" cy="0" rx="1.4" ry="1.9" fill="none" stroke-width="1.2"/></g><g transform="translate(-26.4,-9.8)"><path d="M28.0,-3.0 A2.2,3.0 0 0 1 28.0,3.0 L4.0,3.0 A2.2,3.0 0 0 1 4.0,-3.0 Z" fill="#fff" /><path d="M4.0,-4.2 A3.0,4.2 0 0 1 4.0,4.2 L0.0,4.2 A3.0,4.2 0 0 1 0.0,-4.2 Z" fill="#fff" /><ellipse cx="0.0" cy="0" rx="3.0" ry="4.2" fill="#fff" /><ellipse cx="0.0" cy="0" rx="1.4" ry="1.9" fill="none" stroke-width="1.2"/></g><g transform="translate(-27.4,0.0)"><path d="M28.0,-3.0 A2.2,3.0 0 0 1 28.0,3.0 L4.0,3.0 A2.2,3.0 0 0 1 4.0,-3.0 Z" fill="#fff" /><path d="M4.0,-4.2 A3.0,4.2 0 0 1 4.0,4.2 L0.0,4.2 A3.0,4.2 0 0 1 0.0,-4.2 Z" fill="#fff" /><ellipse cx="0.0" cy="0" rx="3.0" ry="4.2" fill="#fff" /><ellipse cx="0.0" cy="0" rx="1.4" ry="1.9" fill="none" stroke-width="1.2"/></g></g>
<g transform="translate(943.0,1314.0) rotate(-30)"><path d="M4.0,-42.0 A30.2,42.0 0 0 1 4.0,42.0 L0.0,42.0 A30.2,42.0 0 0 1 0.0,-42.0 Z" fill="#fff" /><ellipse cx="0.0" cy="0" rx="30.2" ry="42.0" fill="#fff" /><ellipse cx="27.4" cy="0.0" rx="1.7" ry="2.3" fill="#fff"/><ellipse cx="26.8" cy="7.9" rx="1.7" ry="2.3" fill="#fff"/><ellipse cx="25.0" cy="15.5" rx="1.7" ry="2.3" fill="#fff"/><ellipse cx="22.1" cy="22.3" rx="1.7" ry="2.3" fill="#fff"/><ellipse cx="18.3" cy="28.2" rx="1.7" ry="2.3" fill="#fff"/><ellipse cx="13.7" cy="32.9" rx="1.7" ry="2.3" fill="#fff"/><ellipse cx="8.5" cy="36.1" rx="1.7" ry="2.3" fill="#fff"/><ellipse cx="2.9" cy="37.8" rx="1.7" ry="2.3" fill="#fff"/><ellipse cx="-2.9" cy="37.8" rx="1.7" ry="2.3" fill="#fff"/><ellipse cx="-8.5" cy="36.1" rx="1.7" ry="2.3" fill="#fff"/><ellipse cx="-13.7" cy="32.9" rx="1.7" ry="2.3" fill="#fff"/><ellipse cx="-18.3" cy="28.2" rx="1.7" ry="2.3" fill="#fff"/><ellipse cx="-22.1" cy="22.3" rx="1.7" ry="2.3" fill="#fff"/><ellipse cx="-25.0" cy="15.5" rx="1.7" ry="2.3" fill="#fff"/><ellipse cx="-26.8" cy="7.9" rx="1.7" ry="2.3" fill="#fff"/><ellipse cx="-27.4" cy="0.0" rx="1.7" ry="2.3" fill="#fff"/><ellipse cx="-26.8" cy="-7.9" rx="1.7" ry="2.3" fill="#fff"/><ellipse cx="-25.0" cy="-15.5" rx="1.7" ry="2.3" fill="#fff"/><ellipse cx="-22.1" cy="-22.3" rx="1.7" ry="2.3" fill="#fff"/><ellipse cx="-18.3" cy="-28.2" rx="1.7" ry="2.3" fill="#fff"/><ellipse cx="-13.7" cy="-32.9" rx="1.7" ry="2.3" fill="#fff"/><ellipse cx="-8.5" cy="-36.1" rx="1.7" ry="2.3" fill="#fff"/><ellipse cx="-2.9" cy="-37.8" rx="1.7" ry="2.3" fill="#fff"/><ellipse cx="2.9" cy="-37.8" rx="1.7" ry="2.3" fill="#fff"/><ellipse cx="8.5" cy="-36.1" rx="1.7" ry="2.3" fill="#fff"/><ellipse cx="13.7" cy="-32.9" rx="1.7" ry="2.3" fill="#fff"/><ellipse cx="18.3" cy="-28.2" rx="1.7" ry="2.3" fill="#fff"/><ellipse cx="22.1" cy="-22.3" rx="1.7" ry="2.3" fill="#fff"/><ellipse cx="25.0" cy="-15.5" rx="1.7" ry="2.3" fill="#fff"/><ellipse cx="26.8" cy="-7.9" rx="1.7" ry="2.3" fill="#fff"/><ellipse cx="0.0" cy="0" rx="22.3" ry="31.0" fill="none" stroke-width="2.2"/><ellipse cx="0.0" cy="0" rx="20.9" ry="29.0" fill="none" /></g>
<g transform="translate(866.0,1361.0) rotate(-30)"><g transform="translate(32.4,0.0)"><path d="M25.0,-3.3 A2.4,3.3 0 0 1 25.0,3.3 L5.0,3.3 A2.4,3.3 0 0 1 5.0,-3.3 Z" fill="#fff" /><path d="M5.0,-5.0 A3.6,5.0 0 0 1 5.0,5.0 L0.0,5.0 A3.6,5.0 0 0 1 0.0,-5.0 Z" fill="#fff" /><ellipse cx="0.0" cy="0" rx="3.6" ry="5.0" fill="#fff" /><ellipse cx="0.0" cy="0" rx="1.6" ry="2.2" fill="none" stroke-width="1.2"/></g><g transform="translate(31.5,10.8)"><path d="M25.0,-3.3 A2.4,3.3 0 0 1 25.0,3.3 L5.0,3.3 A2.4,3.3 0 0 1 5.0,-3.3 Z" fill="#fff" /><path d="M5.0,-5.0 A3.6,5.0 0 0 1 5.0,5.0 L0.0,5.0 A3.6,5.0 0 0 1 0.0,-5.0 Z" fill="#fff" /><ellipse cx="0.0" cy="0" rx="3.6" ry="5.0" fill="#fff" /><ellipse cx="0.0" cy="0" rx="1.6" ry="2.2" fill="none" stroke-width="1.2"/></g><g transform="translate(31.5,-10.8)"><path d="M25.0,-3.3 A2.4,3.3 0 0 1 25.0,3.3 L5.0,3.3 A2.4,3.3 0 0 1 5.0,-3.3 Z" fill="#fff" /><path d="M5.0,-5.0 A3.6,5.0 0 0 1 5.0,5.0 L0.0,5.0 A3.6,5.0 0 0 1 0.0,-5.0 Z" fill="#fff" /><ellipse cx="0.0" cy="0" rx="3.6" ry="5.0" fill="#fff" /><ellipse cx="0.0" cy="0" rx="1.6" ry="2.2" fill="none" stroke-width="1.2"/></g><g transform="translate(28.7,-20.9)"><path d="M25.0,-3.3 A2.4,3.3 0 0 1 25.0,3.3 L5.0,3.3 A2.4,3.3 0 0 1 5.0,-3.3 Z" fill="#fff" /><path d="M5.0,-5.0 A3.6,5.0 0 0 1 5.0,5.0 L0.0,5.0 A3.6,5.0 0 0 1 0.0,-5.0 Z" fill="#fff" /><ellipse cx="0.0" cy="0" rx="3.6" ry="5.0" fill="#fff" /><ellipse cx="0.0" cy="0" rx="1.6" ry="2.2" fill="none" stroke-width="1.2"/></g><g transform="translate(28.7,20.9)"><path d="M25.0,-3.3 A2.4,3.3 0 0 1 25.0,3.3 L5.0,3.3 A2.4,3.3 0 0 1 5.0,-3.3 Z" fill="#fff" /><path d="M5.0,-5.0 A3.6,5.0 0 0 1 5.0,5.0 L0.0,5.0 A3.6,5.0 0 0 1 0.0,-5.0 Z" fill="#fff" /><ellipse cx="0.0" cy="0" rx="3.6" ry="5.0" fill="#fff" /><ellipse cx="0.0" cy="0" rx="1.6" ry="2.2" fill="none" stroke-width="1.2"/></g><g transform="translate(24.3,29.8)"><path d="M25.0,-3.3 A2.4,3.3 0 0 1 25.0,3.3 L5.0,3.3 A2.4,3.3 0 0 1 5.0,-3.3 Z" fill="#fff" /><path d="M5.0,-5.0 A3.6,5.0 0 0 1 5.0,5.0 L0.0,5.0 A3.6,5.0 0 0 1 0.0,-5.0 Z" fill="#fff" /><ellipse cx="0.0" cy="0" rx="3.6" ry="5.0" fill="#fff" /><ellipse cx="0.0" cy="0" rx="1.6" ry="2.2" fill="none" stroke-width="1.2"/></g><g transform="translate(24.3,-29.8)"><path d="M25.0,-3.3 A2.4,3.3 0 0 1 25.0,3.3 L5.0,3.3 A2.4,3.3 0 0 1 5.0,-3.3 Z" fill="#fff" /><path d="M5.0,-5.0 A3.6,5.0 0 0 1 5.0,5.0 L0.0,5.0 A3.6,5.0 0 0 1 0.0,-5.0 Z" fill="#fff" /><ellipse cx="0.0" cy="0" rx="3.6" ry="5.0" fill="#fff" /><ellipse cx="0.0" cy="0" rx="1.6" ry="2.2" fill="none" stroke-width="1.2"/></g><g transform="translate(18.4,37.0)"><path d="M25.0,-3.3 A2.4,3.3 0 0 1 25.0,3.3 L5.0,3.3 A2.4,3.3 0 0 1 5.0,-3.3 Z" fill="#fff" /><path d="M5.0,-5.0 A3.6,5.0 0 0 1 5.0,5.0 L0.0,5.0 A3.6,5.0 0 0 1 0.0,-5.0 Z" fill="#fff" /><ellipse cx="0.0" cy="0" rx="3.6" ry="5.0" fill="#fff" /><ellipse cx="0.0" cy="0" rx="1.6" ry="2.2" fill="none" stroke-width="1.2"/></g><g transform="translate(18.4,-37.0)"><path d="M25.0,-3.3 A2.4,3.3 0 0 1 25.0,3.3 L5.0,3.3 A2.4,3.3 0 0 1 5.0,-3.3 Z" fill="#fff" /><path d="M5.0,-5.0 A3.6,5.0 0 0 1 5.0,5.0 L0.0,5.0 A3.6,5.0 0 0 1 0.0,-5.0 Z" fill="#fff" /><ellipse cx="0.0" cy="0" rx="3.6" ry="5.0" fill="#fff" /><ellipse cx="0.0" cy="0" rx="1.6" ry="2.2" fill="none" stroke-width="1.2"/></g><g transform="translate(11.5,42.1)"><path d="M25.0,-3.3 A2.4,3.3 0 0 1 25.0,3.3 L5.0,3.3 A2.4,3.3 0 0 1 5.0,-3.3 Z" fill="#fff" /><path d="M5.0,-5.0 A3.6,5.0 0 0 1 5.0,5.0 L0.0,5.0 A3.6,5.0 0 0 1 0.0,-5.0 Z" fill="#fff" /><ellipse cx="0.0" cy="0" rx="3.6" ry="5.0" fill="#fff" /><ellipse cx="0.0" cy="0" rx="1.6" ry="2.2" fill="none" stroke-width="1.2"/></g><g transform="translate(11.5,-42.1)"><path d="M25.0,-3.3 A2.4,3.3 0 0 1 25.0,3.3 L5.0,3.3 A2.4,3.3 0 0 1 5.0,-3.3 Z" fill="#fff" /><path d="M5.0,-5.0 A3.6,5.0 0 0 1 5.0,5.0 L0.0,5.0 A3.6,5.0 0 0 1 0.0,-5.0 Z" fill="#fff" /><ellipse cx="0.0" cy="0" rx="3.6" ry="5.0" fill="#fff" /><ellipse cx="0.0" cy="0" rx="1.6" ry="2.2" fill="none" stroke-width="1.2"/></g><g transform="translate(3.9,-44.7)"><path d="M25.0,-3.3 A2.4,3.3 0 0 1 25.0,3.3 L5.0,3.3 A2.4,3.3 0 0 1 5.0,-3.3 Z" fill="#fff" /><path d="M5.0,-5.0 A3.6,5.0 0 0 1 5.0,5.0 L0.0,5.0 A3.6,5.0 0 0 1 0.0,-5.0 Z" fill="#fff" /><ellipse cx="0.0" cy="0" rx="3.6" ry="5.0" fill="#fff" /><ellipse cx="0.0" cy="0" rx="1.6" ry="2.2" fill="none" stroke-width="1.2"/></g><g transform="translate(3.9,44.7)"><path d="M25.0,-3.3 A2.4,3.3 0 0 1 25.0,3.3 L5.0,3.3 A2.4,3.3 0 0 1 5.0,-3.3 Z" fill="#fff" /><path d="M5.0,-5.0 A3.6,5.0 0 0 1 5.0,5.0 L0.0,5.0 A3.6,5.0 0 0 1 0.0,-5.0 Z" fill="#fff" /><ellipse cx="0.0" cy="0" rx="3.6" ry="5.0" fill="#fff" /><ellipse cx="0.0" cy="0" rx="1.6" ry="2.2" fill="none" stroke-width="1.2"/></g><g transform="translate(-3.9,44.7)"><path d="M25.0,-3.3 A2.4,3.3 0 0 1 25.0,3.3 L5.0,3.3 A2.4,3.3 0 0 1 5.0,-3.3 Z" fill="#fff" /><path d="M5.0,-5.0 A3.6,5.0 0 0 1 5.0,5.0 L0.0,5.0 A3.6,5.0 0 0 1 0.0,-5.0 Z" fill="#fff" /><ellipse cx="0.0" cy="0" rx="3.6" ry="5.0" fill="#fff" /><ellipse cx="0.0" cy="0" rx="1.6" ry="2.2" fill="none" stroke-width="1.2"/></g><g transform="translate(-3.9,-44.7)"><path d="M25.0,-3.3 A2.4,3.3 0 0 1 25.0,3.3 L5.0,3.3 A2.4,3.3 0 0 1 5.0,-3.3 Z" fill="#fff" /><path d="M5.0,-5.0 A3.6,5.0 0 0 1 5.0,5.0 L0.0,5.0 A3.6,5.0 0 0 1 0.0,-5.0 Z" fill="#fff" /><ellipse cx="0.0" cy="0" rx="3.6" ry="5.0" fill="#fff" /><ellipse cx="0.0" cy="0" rx="1.6" ry="2.2" fill="none" stroke-width="1.2"/></g><g transform="translate(-11.5,42.1)"><path d="M25.0,-3.3 A2.4,3.3 0 0 1 25.0,3.3 L5.0,3.3 A2.4,3.3 0 0 1 5.0,-3.3 Z" fill="#fff" /><path d="M5.0,-5.0 A3.6,5.0 0 0 1 5.0,5.0 L0.0,5.0 A3.6,5.0 0 0 1 0.0,-5.0 Z" fill="#fff" /><ellipse cx="0.0" cy="0" rx="3.6" ry="5.0" fill="#fff" /><ellipse cx="0.0" cy="0" rx="1.6" ry="2.2" fill="none" stroke-width="1.2"/></g><g transform="translate(-11.5,-42.1)"><path d="M25.0,-3.3 A2.4,3.3 0 0 1 25.0,3.3 L5.0,3.3 A2.4,3.3 0 0 1 5.0,-3.3 Z" fill="#fff" /><path d="M5.0,-5.0 A3.6,5.0 0 0 1 5.0,5.0 L0.0,5.0 A3.6,5.0 0 0 1 0.0,-5.0 Z" fill="#fff" /><ellipse cx="0.0" cy="0" rx="3.6" ry="5.0" fill="#fff" /><ellipse cx="0.0" cy="0" rx="1.6" ry="2.2" fill="none" stroke-width="1.2"/></g><g transform="translate(-18.4,37.0)"><path d="M25.0,-3.3 A2.4,3.3 0 0 1 25.0,3.3 L5.0,3.3 A2.4,3.3 0 0 1 5.0,-3.3 Z" fill="#fff" /><path d="M5.0,-5.0 A3.6,5.0 0 0 1 5.0,5.0 L0.0,5.0 A3.6,5.0 0 0 1 0.0,-5.0 Z" fill="#fff" /><ellipse cx="0.0" cy="0" rx="3.6" ry="5.0" fill="#fff" /><ellipse cx="0.0" cy="0" rx="1.6" ry="2.2" fill="none" stroke-width="1.2"/></g><g transform="translate(-18.4,-37.0)"><path d="M25.0,-3.3 A2.4,3.3 0 0 1 25.0,3.3 L5.0,3.3 A2.4,3.3 0 0 1 5.0,-3.3 Z" fill="#fff" /><path d="M5.0,-5.0 A3.6,5.0 0 0 1 5.0,5.0 L0.0,5.0 A3.6,5.0 0 0 1 0.0,-5.0 Z" fill="#fff" /><ellipse cx="0.0" cy="0" rx="3.6" ry="5.0" fill="#fff" /><ellipse cx="0.0" cy="0" rx="1.6" ry="2.2" fill="none" stroke-width="1.2"/></g><g transform="translate(-24.3,29.8)"><path d="M25.0,-3.3 A2.4,3.3 0 0 1 25.0,3.3 L5.0,3.3 A2.4,3.3 0 0 1 5.0,-3.3 Z" fill="#fff" /><path d="M5.0,-5.0 A3.6,5.0 0 0 1 5.0,5.0 L0.0,5.0 A3.6,5.0 0 0 1 0.0,-5.0 Z" fill="#fff" /><ellipse cx="0.0" cy="0" rx="3.6" ry="5.0" fill="#fff" /><ellipse cx="0.0" cy="0" rx="1.6" ry="2.2" fill="none" stroke-width="1.2"/></g><g transform="translate(-24.3,-29.8)"><path d="M25.0,-3.3 A2.4,3.3 0 0 1 25.0,3.3 L5.0,3.3 A2.4,3.3 0 0 1 5.0,-3.3 Z" fill="#fff" /><path d="M5.0,-5.0 A3.6,5.0 0 0 1 5.0,5.0 L0.0,5.0 A3.6,5.0 0 0 1 0.0,-5.0 Z" fill="#fff" /><ellipse cx="0.0" cy="0" rx="3.6" ry="5.0" fill="#fff" /><ellipse cx="0.0" cy="0" rx="1.6" ry="2.2" fill="none" stroke-width="1.2"/></g><g transform="translate(-28.7,20.9)"><path d="M25.0,-3.3 A2.4,3.3 0 0 1 25.0,3.3 L5.0,3.3 A2.4,3.3 0 0 1 5.0,-3.3 Z" fill="#fff" /><path d="M5.0,-5.0 A3.6,5.0 0 0 1 5.0,5.0 L0.0,5.0 A3.6,5.0 0 0 1 0.0,-5.0 Z" fill="#fff" /><ellipse cx="0.0" cy="0" rx="3.6" ry="5.0" fill="#fff" /><ellipse cx="0.0" cy="0" rx="1.6" ry="2.2" fill="none" stroke-width="1.2"/></g><g transform="translate(-28.7,-20.9)"><path d="M25.0,-3.3 A2.4,3.3 0 0 1 25.0,3.3 L5.0,3.3 A2.4,3.3 0 0 1 5.0,-3.3 Z" fill="#fff" /><path d="M5.0,-5.0 A3.6,5.0 0 0 1 5.0,5.0 L0.0,5.0 A3.6,5.0 0 0 1 0.0,-5.0 Z" fill="#fff" /><ellipse cx="0.0" cy="0" rx="3.6" ry="5.0" fill="#fff" /><ellipse cx="0.0" cy="0" rx="1.6" ry="2.2" fill="none" stroke-width="1.2"/></g><g transform="translate(-31.5,10.8)"><path d="M25.0,-3.3 A2.4,3.3 0 0 1 25.0,3.3 L5.0,3.3 A2.4,3.3 0 0 1 5.0,-3.3 Z" fill="#fff" /><path d="M5.0,-5.0 A3.6,5.0 0 0 1 5.0,5.0 L0.0,5.0 A3.6,5.0 0 0 1 0.0,-5.0 Z" fill="#fff" /><ellipse cx="0.0" cy="0" rx="3.6" ry="5.0" fill="#fff" /><ellipse cx="0.0" cy="0" rx="1.6" ry="2.2" fill="none" stroke-width="1.2"/></g><g transform="translate(-31.5,-10.8)"><path d="M25.0,-3.3 A2.4,3.3 0 0 1 25.0,3.3 L5.0,3.3 A2.4,3.3 0 0 1 5.0,-3.3 Z" fill="#fff" /><path d="M5.0,-5.0 A3.6,5.0 0 0 1 5.0,5.0 L0.0,5.0 A3.6,5.0 0 0 1 0.0,-5.0 Z" fill="#fff" /><ellipse cx="0.0" cy="0" rx="3.6" ry="5.0" fill="#fff" /><ellipse cx="0.0" cy="0" rx="1.6" ry="2.2" fill="none" stroke-width="1.2"/></g><g transform="translate(-32.4,-0.0)"><path d="M25.0,-3.3 A2.4,3.3 0 0 1 25.0,3.3 L5.0,3.3 A2.4,3.3 0 0 1 5.0,-3.3 Z" fill="#fff" /><path d="M5.0,-5.0 A3.6,5.0 0 0 1 5.0,5.0 L0.0,5.0 A3.6,5.0 0 0 1 0.0,-5.0 Z" fill="#fff" /><ellipse cx="0.0" cy="0" rx="3.6" ry="5.0" fill="#fff" /><ellipse cx="0.0" cy="0" rx="1.6" ry="2.2" fill="none" stroke-width="1.2"/></g></g>
<text x="982.3" y="1160.7" font-size="18" font-weight="400" letter-spacing="1.6" text-anchor="start" fill="#231f20" stroke="#231f20" stroke-width="0.55" font-family="Liberation Sans, sans-serif">轴头</text>
<line x1="1019.0" y1="1167.0" x2="1048.1" y2="1197.5" stroke="#e41f26" stroke-width="2.4" stroke-linecap="butt"/><polygon points="1059.0,1209.0 1037.3,1199.3 1048.1,1197.5 1050.3,1186.9" fill="#e41f26" stroke="none"/>
<text x="810.7" y="1217.9" font-size="18" font-weight="400" letter-spacing="1.6" text-anchor="start" fill="#231f20" stroke="#231f20" stroke-width="0.55" font-family="Liberation Sans, sans-serif">桥壳法兰</text>
<line x1="887.0" y1="1223.0" x2="917.1" y2="1254.5" stroke="#e41f26" stroke-width="2.4" stroke-linecap="butt"/><polygon points="928.0,1266.0 906.3,1256.3 917.1,1254.5 919.3,1243.9" fill="#e41f26" stroke="none"/>
<text x="953.0" y="1443.9" font-size="18" font-weight="400" letter-spacing="1.6" text-anchor="start" fill="#231f20" stroke="#231f20" stroke-width="0.55" font-family="Liberation Sans, sans-serif">内六角圆柱螺钉</text>
<line x1="945.0" y1="1438.0" x2="915.1" y2="1407.3" stroke="#e41f26" stroke-width="2.4" stroke-linecap="butt"/><polygon points="904.0,1396.0 925.8,1405.5 915.1,1407.3 912.9,1418.0" fill="#e41f26" stroke="none"/>
<polygon points="822.0,1391.0 829.9,1372.6 833.1,1378.2 848.7,1369.2 854.2,1378.8 838.6,1387.8 841.9,1393.4" fill="#e41f26" stroke="none"/>
<text x="333" y="1488" font-size="21" fill="#231f20" stroke="none" font-family="Liberation Serif, serif" letter-spacing="3">配盘式制动器</text>
<line x1="325" y1="1493" x2="483" y2="1493" stroke-width="1.6"/>
<text x="981" y="1488" font-size="21" fill="#231f20" stroke="none" font-family="Liberation Serif, serif" letter-spacing="3">配鼓式制动器</text>
<line x1="975" y1="1493" x2="1131" y2="1493" stroke-width="1.6"/>
<g stroke-width="1.5"><path d="M375.5,1623 Q420,1619 453,1616 L512,1613.6 L580,1613.7 L640,1620 Q700,1626 768,1633 Q860,1641 880,1641 Q960,1640 1000,1633 Q1060,1626 1125,1618 Q1190,1615 1236,1617 Q1280,1620 1306,1627 L1347,1628 L1349,1692 L1335,1737 L1323,1737 Q1300,1738 1280,1750 L1252,1776 Q1230,1785 1205,1776 L1206,1745 Q1215,1735 1230,1730 L1235,1685 Q1180,1683 1150,1684 L985,1686 Q990,1700 970,1715 Q930,1740 870,1740 Q800,1740 760,1705 Q740,1690 740,1681 L600,1681 L520,1685 Q510,1700 505,1716 Q512,1740 505,1760 Q490,1777 470,1776 Q458,1770 455,1750 Q430,1745 420,1735 L403,1734 Q385,1680 375.5,1623 Z" fill="#fff"/>
<path d="M 376.3,1625.4 Q 381.0,1652.0 390.4,1690.4" stroke-width="1.1"/>
<path d="M 393.5,1632.4 L 399.8,1630.9 L 442.1,1652.0 L 468.8,1670.9 M 399.8,1630.9 Q 401.4,1632.4 464.1,1674.0 L 471.1,1678.7" stroke-width="1.1"/>
<path d="M 393.5,1632.4 L 393.5,1652.0 L 385.7,1655.2 L 385.7,1681.8 L 393.5,1683.4 L 402.9,1733.6" stroke-width="1.1"/>
<ellipse cx="406.8" cy="1667.7" rx="11.8" ry="20.4" transform="rotate(-12 406.8 1667.7)" stroke-width="1.4"/>
<ellipse cx="408.4" cy="1667.7" rx="7.8" ry="15.7" transform="rotate(-12 408.4 1667.7)" stroke-width="1.1"/>
<path d="M 431.1,1672.4 Q 432.7,1667.7 437.4,1670.9 L 464.1,1674.0 L 471.9,1686.5 L 464.1,1706.9 L 457.8,1708.5 Q 451.5,1710.0 443.7,1702.2 L 432.7,1683.4 Z" fill="#fff" stroke-width="1.1"/>
<ellipse cx="443.7" cy="1697.5" rx="4.7" ry="3.8" stroke-width="1.1"/>
<path d="M 403.7,1702.2 L 410.8,1701.4 L 464.1,1714.8 L 464.1,1730.4 L 457.8,1732.0 L 409.2,1706.9 Z M 409.2,1706.9 L 457.8,1728.9" stroke-width="1.1"/>
<path d="M 464.1,1670.9 L 470.3,1664.6 L 478.2,1666.1 L 481.3,1672.4 L 475.0,1678.7 L 468.8,1677.1 Z" fill="#fff" stroke-width="1.1"/>
<path d="M 471.9,1689.7 Q 479.8,1680.3 501.7,1677.1 L 489.2,1721.0 M 475.0,1692.8 L 476.6,1714.8 M 479.8,1694.4 L 481.3,1717.9 M 484.5,1695.9 L 486.0,1719.5" stroke-width="1.1"/>
<path d="M 424.9,1637.9 L 445.3,1637.9 M 424.9,1642.6 L 443.7,1650.5 M 451.5,1617.5 L 454.7,1630.1 L 445.3,1634.8 L 446.8,1659.9 M 464.1,1616.0 Q 482.9,1636.4 482.9,1667.7 M 470.3,1616.0 Q 489.2,1636.4 487.6,1667.7" stroke-width="1.1"/>
<path d="M 479.8,1631.7 L 504.8,1631.7 L 508.0,1669.3 M 479.8,1667.7 L 511.1,1669.3 M 504.8,1613.6 L 520.5,1680.3 M 511.1,1613.6 L 523.7,1680.3" stroke-width="1.1"/>
<path d="M 521.3,1614.4 L 521.3,1634.8 L 540.9,1634.8 M 540.9,1615.2 Q 540.9,1636.4 547.2,1644.2 Q 555.0,1648.9 587.9,1649.7 L 605.2,1650.5 Q 636.5,1648.9 649.1,1641.1 Q 655.4,1633.2 653.8,1622.2" stroke-width="1.3"/>
<path d="M 556.6,1630.1 L 558.1,1647.3 M 633.4,1630.1 L 636.5,1647.3 M 542.5,1630.1 L 652.2,1630.1" stroke-width="1.1"/>
<ellipse cx="564.4" cy="1621.8" rx="7.1" ry="4.4" stroke-width="1.1"/>
<ellipse cx="627.1" cy="1622.6" rx="7.1" ry="3.9" stroke-width="1.1"/>
<path d="M 592.6,1652.0 L 597.3,1680.3 M 605.2,1652.0 Q 608.3,1670.9 627.1,1680.3 M 624.0,1650.5 L 630.3,1680.3 M 656.9,1634.8 Q 667.9,1625.4 682.0,1625.4 L 683.6,1634.8" stroke-width="1.1"/>
<path d="M 512.7,1676.3 L 661.6,1676.3 Q 699.3,1678.7 730.0,1683.4 M 683.6,1625.4 L 686.7,1681.8 M 693.0,1626.2 L 696.1,1681.8" stroke-width="1.1"/>
<path d="M 421.7,1734.4 Q 440.6,1743.0 460.9,1761.8 M 445.3,1732.0 L 457.8,1761.8 M 454.7,1738.3 L 462.5,1761.8" stroke-width="1.1"/>
<ellipse cx="481.3" cy="1740.6" rx="18.0" ry="10.2" transform="rotate(-12 481.3 1740.6)" fill="#fff" stroke-width="1.4"/>
<ellipse cx="481.3" cy="1740.6" rx="8.6" ry="5.2" transform="rotate(-12 481.3 1740.6)" stroke-width="1.1"/>
<path d="M 464.1,1749.2 L 465.6,1768.1 Q 479.8,1779.0 493.9,1775.9 Q 508.0,1771.2 508.0,1760.2 L 504.8,1736.7" fill="#fff"/>
<ellipse cx="481.3" cy="1740.6" rx="18.0" ry="10.2" transform="rotate(-12 481.3 1740.6)" fill="none" stroke-width="1.4"/>
<ellipse cx="481.3" cy="1740.6" rx="8.6" ry="5.2" transform="rotate(-12 481.3 1740.6)" stroke-width="1.1"/>
<path d="M 480.5,1734.4 L 481.3,1741.4" />
<path d="M 489.2,1777.5 L 491.5,1785.3" />
<path d="M 726.2,1630.1 Q 734.2,1684.2 770.2,1712.2 Q 816.3,1742.3 868.4,1740.3 Q 928.5,1738.2 960.6,1700.2 Q 978.6,1670.1 978.6,1636.1" stroke-width="1.5"/>
<path d="M 734.2,1630.1 Q 740.2,1680.1 768.2,1704.2 M 970.6,1636.1 Q 970.6,1670.1 960.6,1690.2" stroke-width="1.1"/>
<path d="M 766.2,1634.1 Q 768.2,1664.1 780.3,1680.1 Q 804.3,1708.2 840.4,1716.2 Q 860.4,1720.2 880.4,1720.2 Q 920.5,1714.2 940.5,1684.2 Q 946.6,1660.1 944.5,1640.1" stroke-width="1.3"/>
<path d="M 776.2,1664.1 Q 820.3,1682.1 878.4,1684.2 Q 920.5,1680.1 940.5,1670.1 M 780.3,1676.1 Q 830.3,1694.2 880.4,1694.2 Q 920.5,1690.2 938.5,1676.1 M 792.3,1686.2 Q 840.4,1702.2 880.4,1702.2 Q 916.5,1698.2 934.5,1686.2" stroke-width="1.1"/>
<path d="M 812.3,1642.1 Q 840.4,1660.1 878.4,1661.1 Q 910.5,1660.1 928.5,1652.1 M 878.4,1641.1 L 876.4,1704.2 M 768.2,1636.1 L 784.3,1636.1 L 796.3,1646.1 L 812.3,1648.1 L 820.3,1638.1 M 930.5,1642.1 L 942.5,1646.1 L 944.5,1658.1 L 930.5,1658.1 Z" stroke-width="1.1"/>
<path d="M 820.3,1684.2 L 822.3,1700.2 M 832.3,1688.2 L 832.3,1702.2 M 848.4,1690.2 L 848.4,1708.2 M 862.4,1692.2 L 862.4,1708.2 M 910.5,1684.2 L 908.5,1696.2 M 920.5,1682.1 L 916.5,1694.2" stroke-width="1.1"/>
<path d="M 834.3,1706.2 L 880.4,1712.2 L 880.4,1724.2 L 840.4,1725.2 Q 834.3,1722.2 834.3,1716.2 Z" fill="#fff" stroke-width="1.1"/>
<ellipse cx="871.4" cy="1706.2" rx="5.0" ry="3.6" fill="#fff" stroke-width="1.1"/>
<ellipse cx="765.6" cy="1680.1" rx="4.0" ry="3.0" stroke-width="1.1"/>
<ellipse cx="791.7" cy="1701.2" rx="4.0" ry="3.0" stroke-width="1.1"/>
<ellipse cx="804.9" cy="1711.2" rx="4.0" ry="3.0" stroke-width="1.1"/>
<ellipse cx="825.7" cy="1718.2" rx="4.0" ry="3.0" stroke-width="1.1"/>
<ellipse cx="890.1" cy="1723.2" rx="4.0" ry="3.0" stroke-width="1.1"/>
<ellipse cx="925.1" cy="1711.2" rx="4.0" ry="3.0" stroke-width="1.1"/>
<ellipse cx="941.1" cy="1698.2" rx="4.0" ry="3.0" stroke-width="1.1"/>
<ellipse cx="954.0" cy="1677.1" rx="4.0" ry="3.0" stroke-width="1.1"/>
<path d="M 640.0,1681.1 L 686.1,1682.1 Q 720.1,1686.2 740.2,1692.2 M 970.6,1684.2 Q 1000.6,1680.1 1020.7,1680.1 L 1100.0,1679.1" stroke-width="1.1"/>
<path d="M 678.1,1625.0 L 686.1,1682.1 M 686.1,1626.0 L 694.1,1682.1 M 694.1,1626.0 L 704.1,1682.1 M 1010.7,1633.1 L 1014.7,1682.1 M 1018.7,1632.1 L 1022.7,1682.1 M 1026.7,1631.1 L 1030.7,1682.1" stroke-width="1.1"/>
<path d="M 640.0,1626.0 Q 656.0,1624.0 664.0,1632.1 L 682.1,1634.1 M 1030.7,1630.1 Q 1050.7,1628.1 1060.8,1636.1 L 1100.0,1636.1" stroke-width="1.1"/>
<path d="M 1000.0,1681.0 L 1059.6,1676.3 L 1203.8,1676.3 M 1000.0,1685.7 L 1031.4,1681.8 L 1203.8,1681.8 L 1207.0,1678.7 L 1232.0,1677.1" stroke-width="1.1"/>
<path d="M 1011.0,1633.2 L 1017.2,1683.4 M 1018.8,1632.4 L 1025.1,1683.4 M 1028.2,1631.7 L 1034.5,1683.4 M 1196.0,1615.2 L 1203.8,1681.8 M 1202.3,1625.4 L 1210.1,1677.1" stroke-width="1.1"/>
<path d="M 1039.2,1630.1 L 1042.3,1641.1 Q 1047.0,1648.1 1059.6,1648.9 L 1109.8,1649.7 L 1141.1,1648.9 Q 1155.2,1645.8 1156.8,1641.1 L 1158.4,1623.8 M 1056.4,1630.1 L 1058.0,1648.1 M 1136.4,1630.1 L 1139.5,1648.1 M 1028.2,1630.1 L 1156.8,1630.1" stroke-width="1.3"/>
<ellipse cx="1130.1" cy="1622.2" rx="7.1" ry="3.9" stroke-width="1.1"/>
<path d="M 1087.8,1650.5 L 1092.5,1681.8 M 1100.3,1652.0 Q 1101.9,1670.9 1119.2,1680.3 M 1122.3,1650.5 L 1125.4,1681.8 M 1163.1,1634.8 Q 1172.5,1627.0 1186.6,1627.0 L 1187.4,1634.8 Z" stroke-width="1.1"/>
<path d="M 1210.1,1631.7 L 1232.0,1631.7 L 1235.2,1667.7 M 1210.1,1670.9 L 1232.0,1670.9 M 1241.5,1619.9 Q 1230.5,1636.4 1232.0,1659.9 M 1247.7,1628.5 Q 1236.8,1644.2 1238.3,1664.6 M 1257.1,1637.9 L 1279.1,1637.9 M 1258.7,1645.8 L 1279.1,1641.1" stroke-width="1.1"/>
<path d="M 1228.9,1667.7 L 1312.0,1631.7 L 1305.7,1631.7 L 1232.0,1670.9 M 1232.0,1672.4 L 1244.6,1714.8 L 1250.9,1721.0 L 1282.2,1711.6 L 1323.0,1702.2 L 1324.6,1738.3" stroke-width="1.1"/>
<path d="M 1244.6,1692.8 Q 1250.9,1678.7 1266.5,1672.4 Q 1275.9,1674.0 1272.8,1686.5 L 1269.7,1705.3 Q 1258.7,1714.8 1247.7,1711.6 Z" fill="#fff" stroke-width="1.1"/>
<ellipse cx="1256.3" cy="1699.1" rx="4.7" ry="3.9" stroke-width="1.1"/>
<ellipse cx="1305.7" cy="1667.7" rx="11.8" ry="19.6" transform="rotate(10 1305.7 1667.7)" stroke-width="1.4"/>
<ellipse cx="1305.0" cy="1667.7" rx="7.8" ry="14.9" transform="rotate(10 1305.0 1667.7)" stroke-width="1.1"/>
<path d="M 1316.7,1652.0 L 1327.7,1655.2 L 1327.7,1681.8 L 1316.7,1683.4 M 1329.3,1628.5 L 1347.3,1627.7 L 1347.3,1692.0 L 1335.5,1692.0 L 1335.5,1737.5 M 1334.0,1628.5 Q 1341.8,1659.9 1337.1,1691.2 M 1340.2,1628.5 Q 1347.3,1659.9 1341.8,1689.7" stroke-width="1.1"/>
<path d="M 1249.3,1721.0 L 1269.7,1714.8 L 1272.8,1733.6 M 1254.0,1741.4 L 1257.1,1761.8 M 1268.1,1733.6 L 1271.2,1755.5 M 1250.9,1722.6 L 1323.0,1705.3" stroke-width="1.1"/>
<ellipse cx="1227.3" cy="1743.8" rx="21.2" ry="11.3" fill="#fff" stroke-width="1.4"/>
<path d="M 1206.2,1744.5 L 1207.0,1764.9 Q 1219.5,1780.6 1235.2,1779.0 Q 1250.9,1775.9 1250.9,1761.8 L 1249.3,1744.5" fill="#fff"/>
<ellipse cx="1227.3" cy="1743.8" rx="21.2" ry="11.3" fill="none" stroke-width="1.4"/>
<ellipse cx="1228.1" cy="1743.8" rx="9.4" ry="6.0" stroke-width="1.1"/>
<path d="M 1228.1,1737.5 L 1228.9,1745.3 M 1230.5,1779.0 L 1232.0,1785.3" />
<path d="M 1250.9,1761.8 L 1269.7,1755.5 L 1323.0,1737.5 L 1335.5,1737.5" stroke-width="1.1"/>
<path d="M 1106.6,1737.5 L 1120.7,1737.5 M 1134.8,1737.5 L 1148.9,1737.5 M 1163.1,1737.5 L 1227.3,1737.5" stroke-width="1.3"/>
<path d="M356,1733 L372,1733 M384,1733 L402,1733" stroke-width="1.3"/>
<path d="M 1090.2,1708.5 L 1095.6,1703.0 L 1106.6,1701.4 L 1115.2,1705.3 L 1116.0,1721.0 L 1108.2,1728.1 L 1097.2,1727.3 L 1090.9,1721.0 Z" fill="#fff" stroke-width="1.1"/>
<path d="M 1090.2,1710.0 L 1097.2,1714.8 L 1108.2,1714.8 L 1115.2,1706.9 M 1097.2,1714.8 L 1097.2,1727.3 M 1108.2,1714.8 L 1108.2,1728.1" stroke-width="1.1"/>
<ellipse cx="1102.7" cy="1707.7" rx="8.6" ry="5.5" stroke-width="1.1"/>
<path d="M 1100.3,1691.2 L 1102.7,1706.9 M 1112.9,1688.1 L 1104.3,1706.9 M 1100.3,1719.5 L 1075.3,1771.2" stroke-width="1.1"/>
<ellipse cx="1073.7" cy="1774.3" rx="3.4" ry="2.8" stroke-width="1.1"/>
<path d="M 1083.1,1755.5 L 1072.1,1772.8 M 1080.0,1755.5 L 1070.6,1772.8" stroke-width="1.1"/>
<path d="M 564.7,1835.2 L 1172.3,1839.5 L 1172.3,1864.8 L 564.7,1861.3 Z" fill="#fff"/>
<path d="M 487.6,1791.6 L 489.8,1830.8 L 503.7,1830.8 L 503.7,1791.6 Q 497.2,1788.2 487.6,1791.6 Z" fill="#fff"/>
<path d="M 488.0,1793.4 L 503.7,1793.4 L 504.2,1817.8 L 489.4,1817.8 Z" fill="#231f20"/>
<path d="M 489.4,1817.8 L 491.5,1830.8 L 502.0,1830.8 L 504.2,1817.8" fill="#fff"/>
<path d="M 486.3,1843.9 Q 490.7,1830.8 508.1,1831.7 Q 523.3,1835.2 524.6,1850.4 Q 523.3,1865.7 505.9,1867.9 Q 488.5,1866.6 486.3,1852.6 Z" fill="#fff"/>
<path d="M 488.5,1857.0 Q 503.7,1861.3 522.0,1857.0 M 490.7,1861.3 Q 503.7,1865.7 519.0,1862.2 M 490.7,1837.4 Q 508.1,1841.7 522.0,1839.5" stroke-width="1.1"/>
<path d="M 523.3,1843.9 L 542.9,1841.7 L 542.9,1861.3 L 523.3,1861.3 Z M 527.7,1846.1 L 540.7,1844.8 L 540.7,1857.0 L 527.7,1857.8" fill="#fff" stroke-width="1.1"/>
<path d="M 542.9,1835.2 Q 556.0,1831.7 568.2,1835.2 L 568.2,1865.7 Q 556.0,1867.9 542.9,1864.8 Z" fill="#fff"/>
<path d="M 548.2,1865.7 L 550.8,1873.5 Q 556.0,1878.7 562.5,1873.5 L 564.7,1865.7" fill="#fff"/>
<ellipse cx="556.0" cy="1875.7" rx="3.5" ry="2.6" stroke-width="1.1"/>
<path d="M 1224.5,1796.0 L 1226.7,1837.4 L 1242.0,1837.4 L 1243.3,1796.0 Q 1233.3,1791.6 1224.5,1796.0 Z" fill="#fff"/>
<path d="M 1225.0,1796.9 L 1242.8,1796.9 L 1242.8,1822.1 L 1226.3,1822.1 Z" fill="#231f20"/>
<path d="M 1226.3,1822.1 L 1228.5,1837.4 L 1240.7,1837.4 L 1242.8,1822.1" fill="#fff"/>
<path d="M 1215.8,1852.6 Q 1220.2,1837.4 1237.6,1837.4 Q 1256.3,1840.4 1258.1,1857.0 Q 1256.3,1873.5 1237.6,1875.3 Q 1218.9,1873.5 1215.8,1861.3 Z" fill="#fff"/>
<path d="M 1218.0,1863.5 Q 1235.4,1869.2 1255.5,1863.5 M 1220.2,1868.3 Q 1235.4,1873.5 1252.9,1869.2 M 1218.9,1843.9 Q 1235.4,1848.3 1256.3,1846.1" stroke-width="1.1"/>
<path d="M 1194.1,1843.9 L 1215.8,1846.1 L 1215.8,1863.5 L 1194.1,1863.5 Z M 1197.1,1847.4 L 1212.8,1848.3 L 1212.8,1860.5 L 1197.1,1860.5" fill="#fff" stroke-width="1.1"/>
<path d="M 1169.2,1837.4 Q 1181.0,1835.2 1191.9,1838.7 L 1191.9,1867.9 Q 1181.0,1870.0 1169.2,1866.6 Z" fill="#fff"/>
<path d="M 1172.7,1867.9 L 1174.5,1876.6 Q 1178.8,1883.1 1185.3,1876.6 L 1187.5,1867.9" fill="#fff"/>
<ellipse cx="1179.7" cy="1879.6" rx="3.5" ry="2.6" stroke-width="1.1"/>
<path d="M 490.7,1776.4 L 492.0,1791.6 M 1231.1,1779.4 L 1232.4,1793.8" stroke-width="1.1"/></g>
<path d="M338,1704 L344,1698 L358,1697 L366,1705 L364,1719 L352,1725 L340,1719 Z" fill="#fff"/>
<path d="M340,1705 L352,1710 L364,1705 M352,1710 L352,1725 M345,1700 L349,1706 M358,1699 L356,1706" stroke-width="1.1"/>
<ellipse cx="351" cy="1703" rx="5" ry="3" stroke-width="1.1"/>
<path d="M345,1683 L351,1705 M357,1682 L352,1705" stroke-width="1.1"/>
<path d="M354,1722 L333,1768 M336,1762 Q326,1772 330,1777 Q336,1777 338,1768" stroke-width="1.3"/>
<text x="221.0" y="1654.2" font-size="19" font-weight="400" letter-spacing="1.6" text-anchor="start" fill="#231f20" stroke="#231f20" stroke-width="0.55" font-family="Liberation Sans, sans-serif">槽型螺母</text>
<line x1="297.0" y1="1660.0" x2="328.8" y2="1691.8" stroke="#e41f26" stroke-width="2.4" stroke-linecap="butt"/><polygon points="340.0,1703.0 318.1,1693.8 328.8,1691.8 330.8,1681.1" fill="#e41f26" stroke="none"/>
<text x="232.0" y="1721.2" font-size="19" font-weight="400" letter-spacing="1.6" text-anchor="start" fill="#231f20" stroke="#231f20" stroke-width="0.55" font-family="Liberation Sans, sans-serif">开口销</text>
<line x1="289.0" y1="1727.0" x2="318.9" y2="1757.7" stroke="#e41f26" stroke-width="2.4" stroke-linecap="butt"/><polygon points="330.0,1769.0 308.2,1759.5 318.9,1757.7 321.1,1747.0" fill="#e41f26" stroke="none"/>
<text x="900.0" y="1794.2" font-size="19" font-weight="400" letter-spacing="1.6" text-anchor="start" fill="#231f20" stroke="#231f20" stroke-width="0.55" font-family="Liberation Sans, sans-serif">横拉杆</text>
<line x1="900.0" y1="1800.0" x2="871.8" y2="1830.4" stroke="#e41f26" stroke-width="2.4" stroke-linecap="butt"/><polygon points="861.0,1842.0 869.4,1819.8 871.8,1830.4 882.6,1832.0" fill="#e41f26" stroke="none"/>
<text x="414.0" y="1914.2" font-size="19" font-weight="400" letter-spacing="1.6" text-anchor="start" fill="#231f20" stroke="#231f20" stroke-width="0.55" font-family="Liberation Sans, sans-serif">卡箍螺母</text>
<line x1="495.0" y1="1905.0" x2="539.7" y2="1883.8" stroke="#e41f26" stroke-width="2.4" stroke-linecap="butt"/><polygon points="554.0,1877.0 538.0,1894.6 539.7,1883.8 530.3,1878.3" fill="#e41f26" stroke="none"/>
<g transform="translate(2330,190) scale(0.204625)" class="ns"><path d="M160,70 Q175,45 200,62 M165,72 L165,150 Q178,162 190,150 L190,72 Z" fill="#fff"/>
<line x1="195" y1="210" x2="265" y2="560"/>
<path d="M96.8,300 L95.0,390 Q122,402 150.8,390 L149.0,300" fill="#fff"/><path d="M77.0,240 L96.8,222 L147.2,222 L167.0,240 L167.0,282 L147.2,300 L96.8,300 L77.0,282 Z" fill="#fff"/><path d="M77.0,240 L96.8,256 L147.2,256 L167.0,240 M96.8,256 L96.8,300 M147.2,256 L147.2,300"/>
<path d="M372.8,285 L371.0,375 Q398,387 426.8,375 L425.0,285" fill="#fff"/><path d="M353.0,225 L372.8,207 L423.2,207 L443.0,225 L443.0,267 L423.2,285 L372.8,285 L353.0,267 Z" fill="#fff"/><path d="M353.0,225 L372.8,241 L423.2,241 L443.0,225 M372.8,241 L372.8,285 M423.2,241 L423.2,285"/>
<path d="M60,650 L75,700 Q85,714 130,716 L440,718 Q455,712 460,695 L505,500 L505,470 Z" fill="#fff"/>
<path d="M225,715 L225,780 Q310,820 395,780 L395,715" fill="#fff"/>
<path d="M160,455 L490,443 Q508,446 503,470 L455,675 Q450,692 430,692 L80,665 Q55,660 62,638 L135,468 Q142,456 160,455 Z" fill="#fff"/>
<path d="M62,655 Q70,690 120,695 L440,700" stroke-width="1.2"/>
<ellipse cx="170" cy="485" rx="30" ry="17"/>
<ellipse cx="440" cy="470" rx="30" ry="17"/>
<ellipse cx="110" cy="645" rx="30" ry="17"/>
<ellipse cx="385" cy="655" rx="30" ry="17"/>
<ellipse cx="235" cy="665" rx="12" ry="7"/><ellipse cx="265" cy="565" rx="11" ry="7"/>
<line x1="82" y1="560" x2="110" y2="645"/>
<path d="M36.8,468 L35.0,548 Q62,560 90.8,548 L89.0,468" fill="#fff"/><path d="M17.0,408 L36.8,390 L87.2,390 L107.0,408 L107.0,450 L87.2,468 L36.8,468 L17.0,450 Z" fill="#fff"/><path d="M17.0,408 L36.8,424 L87.2,424 L107.0,408 M36.8,424 L36.8,468 M87.2,424 L87.2,468"/>
<path d="M309.8,471 L308.0,556 Q335,568 363.8,556 L362.0,471" fill="#fff"/><path d="M290.0,411 L309.8,393 L360.2,393 L380.0,411 L380.0,453 L360.2,471 L309.8,471 L290.0,453 Z" fill="#fff"/><path d="M290.0,411 L309.8,427 L360.2,427 L380.0,411 M309.8,427 L309.8,471 M360.2,427 L360.2,471"/>
<path d="M140,760 L255,1330" />
<path d="M265,1360 L310,1610" stroke-dasharray="40 30"/>
<path d="M330,850 L345,905 M360,985 L470,1540"/>
<path d="M230,905 L570,885 Q592,886 586,905 L535,1115 Q530,1130 510,1130 L170,1115 Q150,1112 156,1095 L210,918 Q215,906 230,905 Z" fill="#fff"/>
<ellipse cx="360" cy="1010" rx="138" ry="85"/>
<ellipse cx="265" cy="925" rx="30" ry="18"/>
<ellipse cx="535" cy="910" rx="30" ry="18"/>
<ellipse cx="210" cy="1090" rx="30" ry="18"/>
<ellipse cx="470" cy="1100" rx="30" ry="18"/>
<ellipse cx="400" cy="905" rx="18" ry="11"/><ellipse cx="330" cy="1110" rx="18" ry="11"/>
<line x1="360" y1="985" x2="400" y2="1190"/>
<ellipse cx="418" cy="1265" rx="138" ry="82" stroke-width="3.2"/>
<ellipse cx="418" cy="1262" rx="124" ry="72" stroke-width="1.4"/>
<ellipse cx="418" cy="1270" rx="118" ry="68" stroke-width="3"/>
<path d="M360,1350 L372,1400 M470,1350 L480,1400"/>
<path d="M385,1490 L395,1640 Q480,1700 570,1640 L565,1490" fill="#fff"/>
<ellipse cx="463" cy="1478" rx="115" ry="66" fill="#fff" stroke-width="3"/>
<ellipse cx="468" cy="1490" rx="88" ry="50" stroke-width="2"/>
<path d="M395,1520 Q470,1560 550,1520" />
<line x1="450" y1="1420" x2="470" y2="1560"/></g>
<g transform="translate(2380,520) scale(0.179775)" class="ns"><path d="M1478,385 L1450,230 L1210,280 M1130,295 L1060,312"/>
<path d="M1010,1190 L1180,1040 L1215,1080 L1045,1225 Q1010,1225 1010,1190 Z" fill="#fff"/>
<ellipse cx="1027" cy="1207" rx="18" ry="24" transform="rotate(40 1027 1207)"/>
<path d="M1120,1070 L1170,1025 L1215,1075 L1165,1115 Z M1180,1020 L1210,1000 Q1240,1010 1240,1045 L1215,1075" fill="#fff"/>
<path d="M850,840 L862,910 M880,1000 L940,1280 L1020,1220 M760,840 L825,770"/>
<path d="M45,470 L60,455 L470,455 L600,100 L610,90 L625,110 L770,860 L770,1000 L700,1240 L560,1310 L225,1310 L165,1020 L75,690 L45,520 Z" fill="#fff"/>
<path d="M180,95 L600,85 L610,95 L600,150 L185,165 Z" fill="#fff"/>
<path d="M185,120 L600,110 M200,150 L590,140" stroke-width="2.4"/>
<path d="M185,165 L95,450 M600,150 L470,455 M185,165 L600,150"/>
<ellipse cx="350" cy="310" rx="150" ry="95" transform="rotate(-5 350 310)"/>
<path d="M230,380 Q300,300 480,320 M250,390 Q320,330 450,345 M270,395 Q330,360 420,370" stroke-width="1.2"/>
<ellipse cx="245" cy="215" rx="24" ry="15"/>
<ellipse cx="540" cy="210" rx="24" ry="15"/>
<ellipse cx="180" cy="410" rx="24" ry="15"/>
<ellipse cx="470" cy="420" rx="24" ry="15"/>
<path d="M45,520 L470,520 M60,580 L465,580 M470,455 L470,580 L500,720"/>
<path d="M600,100 L700,730 M625,110 L740,690"/>
<ellipse cx="485" cy="540" rx="12" ry="32"/><ellipse cx="505" cy="640" rx="12" ry="32"/>
<path d="M560,330 Q700,380 720,690 L740,700 Q740,480 640,340" />
<path d="M700,300 L900,270 Q980,280 995,330 L1000,370 Q985,410 950,410 L760,450 L740,400 Z" fill="#fff"/>
<ellipse cx="890" cy="330" rx="42" ry="26"/>
<path d="M660,175 L880,135 Q960,140 975,200 L975,240 Q960,275 920,280 L720,300 L690,250 Z" fill="#fff"/>
<ellipse cx="870" cy="205" rx="45" ry="30"/><ellipse cx="775" cy="255" rx="10" ry="7"/>
<path d="M660,175 L690,160 L745,150 L700,300 M720,300 L760,450 M760,360 L830,360"/>
<path d="M160,750 L200,740 L470,740 L720,700 L770,860 L680,1240" />
<path d="M160,750 L250,1010 Q260,1060 300,1070 L430,1170 L540,1160 L600,900 L470,740" fill="#fff"/>
<path d="M200,760 L400,950 L530,1100 M250,790 L560,880 M380,940 Q400,1000 380,1040 L470,1150"/>
<ellipse cx="450" cy="1095" rx="22" ry="18"/><ellipse cx="690" cy="910" rx="30" ry="22"/>
<path d="M120,870 L175,870 M130,1010 L180,1010 M175,840 Q240,830 290,900 Q330,1000 290,1040 Q240,1060 200,1040 L175,840"/>
<ellipse cx="620" cy="980" rx="30" ry="45"/><path d="M610,1090 L660,1090 L675,1140 L650,1210 L610,1200 Z"/>
<path d="M225,1140 L600,1300 M230,1180 L540,1320" stroke-width="1.3"/>
<path d="M545,1320 Q600,1270 690,1260 Q780,1280 790,1330 L800,1440 Q780,1500 680,1500 Q590,1500 560,1440 Z" fill="#fff"/>
<ellipse cx="660" cy="1345" rx="58" ry="38"/>
<path d="M560,1440 Q540,1420 540,1330 M545,1380 Q680,1440 790,1390"/>
<path d="M225,1310 Q240,1330 300,1310 L540,1350" />
<path d="M60,700 Q50,900 110,1040 L160,1030" /></g>
<g transform="translate(2200,180) scale(0.396825)" class="ns"><path d="M1055,1030 Q1060,1100 1100,1240 L1110,1340 Q1150,1362 1200,1352 L1270,1330 L1330,1300 L1410,1320 L1525,1320 L1485,945 Q1460,950 1450,962 Q1420,1010 1380,1035 L1340,1045 L1290,1070 L1230,1060 L1200,1040" fill="#fff"/>
<ellipse cx="1127" cy="1028" rx="72" ry="38" fill="#fff"/>
<ellipse cx="1125" cy="1030" rx="42" ry="22"/>
<path d="M1057,1045 Q1090,1080 1160,1078 Q1200,1075 1205,1040" stroke-width="1.2"/>
<path d="M1160,1078 Q1230,1110 1250,1190 Q1260,1260 1230,1300 L1230,1345 M1200,1090 Q1270,1100 1300,1110 L1340,1100 L1340,1300 M1215,1200 L1340,1200 M1270,1190 Q1290,1260 1270,1330" stroke-width="1.2"/>
<path d="M1340,1045 L1340,1100 M1360,1040 L1360,1300 M1360,1140 L1445,1140 L1450,962 M1410,1140 L1410,1230 Q1420,1245 1445,1245 L1520,1245 M1100,1240 Q1150,1260 1230,1250" stroke-width="1.2"/>
<ellipse cx="1468" cy="1168" rx="18" ry="11"/>
<path d="M1090,1080 L1095,1110 M1100,1280 Q1110,1320 1120,1330" stroke-width="1.2"/>
<line x1="1185" y1="1355" x2="1200" y2="1425"/></g>
<text x="2251.5" y="288.2" font-size="18" font-weight="400" letter-spacing="1.6" text-anchor="start" fill="#231f20" stroke="#231f20" stroke-width="0.55" font-family="Liberation Sans, sans-serif">主销</text>
<line x1="2292.0" y1="289.0" x2="2328.2" y2="309.3" stroke="#e41f26" stroke-width="2.4" stroke-linecap="butt"/><polygon points="2342.0,317.0 2318.4,314.1 2328.2,309.3 2327.2,298.4" fill="#e41f26" stroke="none"/>
<text x="2491.8" y="324.2" font-size="18" font-weight="400" letter-spacing="1.6" text-anchor="start" fill="#231f20" stroke="#231f20" stroke-width="0.55" font-family="Liberation Sans, sans-serif">调整垫片</text>
<line x1="2490.6" y1="330.0" x2="2461.7" y2="359.6" stroke="#e41f26" stroke-width="2.4" stroke-linecap="butt"/><polygon points="2450.7,371.0 2459.6,349.0 2461.7,359.6 2472.5,361.5" fill="#e41f26" stroke="none"/>
<text x="2295.7" y="420.7" font-size="18" font-weight="400" letter-spacing="1.6" text-anchor="start" fill="#231f20" stroke="#231f20" stroke-width="0.55" font-family="Liberation Sans, sans-serif">油封</text>
<line x1="2337.2" y1="421.0" x2="2374.9" y2="444.6" stroke="#e41f26" stroke-width="2.4" stroke-linecap="butt"/><polygon points="2388.3,453.0 2364.9,449.0 2374.9,444.6 2374.4,433.7" fill="#e41f26" stroke="none"/>
<text x="2491.6" y="436.8" font-size="18" font-weight="400" letter-spacing="1.6" text-anchor="start" fill="#231f20" stroke="#231f20" stroke-width="0.55" font-family="Liberation Sans, sans-serif">主销衬套</text>
<line x1="2490.6" y1="443.0" x2="2460.8" y2="473.4" stroke="#e41f26" stroke-width="2.4" stroke-linecap="butt"/><polygon points="2449.7,484.7 2458.7,462.7 2460.8,473.4 2471.5,475.3" fill="#e41f26" stroke="none"/>
<text x="2282.3" y="576.2" font-size="18" font-weight="400" letter-spacing="1.6" text-anchor="start" fill="#231f20" stroke="#231f20" stroke-width="0.55" font-family="Liberation Sans, sans-serif">转向节</text>
<line x1="2342.0" y1="577.0" x2="2378.2" y2="597.3" stroke="#e41f26" stroke-width="2.4" stroke-linecap="butt"/><polygon points="2392.0,605.0 2368.4,602.1 2378.2,597.3 2377.2,586.4" fill="#e41f26" stroke="none"/>
<g transform="translate(1980,1000) scale(0.130174)"><defs><pattern id="hA" patternUnits="userSpaceOnUse" width="54" height="54" patternTransform="rotate(-45)"><line x1="0" y1="0" x2="0" y2="54" stroke="#231f20" stroke-width="10"/></pattern><clipPath id="cc1"><circle cx="815" cy="795" r="772"/></clipPath></defs><circle cx="815" cy="795" r="775" stroke-width="14"/><g clip-path="url(#cc1)"><path d="M660,283 L745,283 Q800,330 950,400 Q1030,435 1100,440 L1600,440 L1600,595 L1130,595 Q1090,605 1070,665 L870,660 L860,640 Q800,520 700,490 L660,478 Z" fill="url(#hA)" stroke-width="13"/><path d="M660,1310 L745,1310 Q800,1270 950,1210 Q1100,1150 1300,1150 Q1380,1170 1420,1200 L1600,1200 L1600,990 L1130,990 Q1090,985 1070,925 L870,930 L860,950 Q800,1070 700,1100 L660,1112 Z" fill="url(#hA)" stroke-width="13"/><rect x="318" y="283" width="82" height="195" fill="url(#hA)" stroke-width="13"/><rect x="318" y="1115" width="82" height="195" fill="url(#hA)" stroke-width="13"/><path d="M400,283 L660,283 M400,478 L660,478 M660,283 L660,478 M400,1115 L660,1115 M400,1310 L660,1310 M660,1115 L660,1310" stroke-width="13"/><path d="M400,478 Q520,795 400,1112" stroke-width="16"/><path d="M565,490 L565,1105 M400,478 L700,490 M400,1112 L700,1100" stroke-width="13"/><path d="M1130,620 L1600,620 M1090,680 L1600,680 M1080,745 L1600,745 M1080,905 L1600,905 M1130,975 L1600,975 M1130,595 L1130,990" stroke-width="12"/><path d="M1480,440 L1530,560 L1600,560 M1480,1200 L1530,1040 L1600,1040" stroke-width="12"/><path d="M860,720 L790,720 Q720,730 720,795 Q720,870 790,880 L860,880 M835,735 Q795,740 795,795 Q795,850 835,860" stroke-width="12"/><rect x="868" y="655" width="38" height="280" fill="#b8489e" stroke="#8e2f7a" stroke-width="8"/><rect x="906" y="660" width="42" height="272" fill="#8f86cc" stroke="#6a5fb0" stroke-width="8"/><rect x="950" y="680" width="120" height="235" fill="#f4fbf4" stroke="#9cc5a8" stroke-width="8"/></g></g>
<g transform="translate(1970,960) scale(0.370206)"><defs><pattern id="hB" patternUnits="userSpaceOnUse" width="21" height="21" patternTransform="rotate(-45)"><line x1="0" y1="0" x2="0" y2="21" stroke="#231f20" stroke-width="3.6"/></pattern></defs><path d="M1300,208 L1335,208 Q1360,228 1400,245 Q1440,262 1470,265 L1570,265 L1590,300 L1475,318 Q1460,322 1455,345 L1385,342 L1380,335 Q1360,290 1335,282 L1300,275 Z" fill="url(#hB)" stroke-width="4.5"/><path d="M1300,568 L1335,568 Q1360,548 1400,530 Q1440,512 1470,510 L1560,512 L1590,470 L1475,455 Q1460,450 1455,432 L1385,435 L1380,442 Q1360,488 1335,495 L1300,500 Z" fill="url(#hB)" stroke-width="4.5"/><rect x="1183" y="208" width="32" height="67" fill="url(#hB)" stroke-width="4.5"/><rect x="1183" y="500" width="32" height="68" fill="url(#hB)" stroke-width="4.5"/><path d="M1215,208 L1300,208 L1300,275 L1215,275 M1215,500 L1300,500 L1300,568 L1215,568" stroke-width="4.5"/><path d="M1215,275 Q1250,388 1215,500 M1270,278 L1270,498 M1215,275 L1330,282 M1215,500 L1330,495" stroke-width="4.5"/><path d="M1335,365 Q1320,370 1320,388 Q1320,405 1335,410 L1380,410 M1335,365 L1380,365 M1350,372 Q1340,388 1350,404" stroke-width="4"/><path d="M1380,340 L1410,340 L1410,435 L1380,435 Z M1410,345 L1450,345 L1450,430 L1410,430" stroke-width="4"/><path d="M1570,265 L1900,265 Q2050,240 2210,120 M1560,512 L1560,530 L1900,530 Q2050,560 2210,635" stroke-width="4.5"/><path d="M1590,265 L1590,530 M1460,300 L1900,300 M1460,330 L1665,330 M1460,470 L1900,470 M1460,500 L1560,500" stroke-width="4"/><path d="M1665,285 L1755,285 L1755,470 L1665,470 Z M1680,290 Q1720,380 1680,465 M1740,290 Q1700,380 1740,465" stroke-width="4"/><path d="M1900,265 Q1930,300 1930,388 Q1930,480 1900,530 M1900,300 L1900,470 M1755,330 L1900,330 M1755,440 L1900,440" stroke-width="4"/><path d="M2210,120 Q2250,380 2210,635 M2210,120 L2180,160 Q2050,230 2030,388 Q2050,540 2180,615 L2210,635" stroke-width="4.5"/><path d="M2175,215 Q2100,300 2110,388 Q2100,480 2175,560 M2125,290 L2240,290 M2125,485 L2240,485" stroke-width="3.5"/><circle cx="2190" cy="185" r="10" stroke-width="4"/><circle cx="2140" cy="230" r="10" stroke-width="4"/><circle cx="2100" cy="300" r="10" stroke-width="4"/><circle cx="2100" cy="475" r="10" stroke-width="4"/><circle cx="2140" cy="545" r="10" stroke-width="4"/><circle cx="2190" cy="585" r="10" stroke-width="4"/><path d="M1860,530 L1870,560 M1960,535 L1965,560 L1985,565 L1975,540" stroke-width="3.5"/><line x1="910" y1="387" x2="1650" y2="387" stroke-width="3.5" stroke-dasharray="34 18"/><rect x="960" y="340" width="14" height="95" fill="#c65aa8" stroke="#8e2f7a" stroke-width="3"/><rect x="1040" y="340" width="9" height="95" fill="#8c84cf" stroke="#5e56a8" stroke-width="3"/><rect x="1116" y="348" width="40" height="80" fill="#fff" stroke="#9cc5a8" stroke-width="4"/></g>
<polygon points="2264.0,1103.3 2279.0,1094.3 2279.0,1098.8 2300.0,1098.8 2300.0,1107.8 2279.0,1107.8 2279.0,1112.3" fill="#e41f26" stroke="none"/>
<text x="2323.5" y="993.2" font-size="17" font-weight="400" letter-spacing="1.6" text-anchor="start" fill="#231f20" stroke="#231f20" stroke-width="0.55" font-family="Liberation Sans, sans-serif">轴套</text>
<line x1="2360.6" y1="996.0" x2="2385.3" y2="1071.0" stroke="#e41f26" stroke-width="2.0" stroke-linecap="butt"/><polygon points="2390.2,1086.0 2375.7,1067.6 2385.3,1071.0 2390.9,1062.6" fill="#e41f26" stroke="none"/>
<text x="2253.2" y="1024.8" font-size="17" font-weight="400" letter-spacing="1.6" text-anchor="start" fill="#231f20" stroke="#231f20" stroke-width="0.55" font-family="Liberation Sans, sans-serif">油封</text>
<text x="2293" y="1026.6" font-size="18" fill="#231f20" stroke="none" font-family="Liberation Serif, serif">I</text>
<line x1="2308.7" y1="1029.0" x2="2322.2" y2="1069.0" stroke="#e41f26" stroke-width="2.0" stroke-linecap="butt"/><polygon points="2327.2,1084.0 2312.6,1065.7 2322.2,1069.0 2327.8,1060.6" fill="#e41f26" stroke="none"/>
<text x="2281.0" y="1195.2" font-size="17" font-weight="400" letter-spacing="1.6" text-anchor="start" fill="#231f20" stroke="#231f20" stroke-width="0.55" font-family="Liberation Sans, sans-serif">油封</text>
<text x="2321" y="1197" font-size="18" fill="#231f20" stroke="none" font-family="Liberation Serif, serif">II</text>
<line x1="2338.3" y1="1180.0" x2="2352.0" y2="1138.1" stroke="#e41f26" stroke-width="2.0" stroke-linecap="butt"/><polygon points="2356.9,1123.0 2357.7,1146.4 2352.0,1138.1 2342.5,1141.4" fill="#e41f26" stroke="none"/>
<g transform="translate(1900,1400) scale(0.310010)" class="ns"><path d="M116,926 L268,926 Q330,930 350,1000 Q372,1078 430,1098 L640,1098 Q700,1060 800,1045 Q1130,1020 1460,1045 Q1560,1060 1622,1098 L1832,1098 Q1890,1078 1912,1000 Q1932,930 1994,926 L2146,926 L2196,1141 Q2214,1200 2214,1257 Q2210,1330 2196,1409 L2153,1566 L1960,1567 Q1925,1540 1915,1479 L1700,1500 Q1600,1560 1563.7,1621.7 Q1350,1640 1131,1646 Q900,1665 865,1661 L737.6,1646.3 Q650,1580 590,1548 L432.7,1489 L354,1479 Q340,1540 300,1567 L108.7,1566 L66,1409 Q50,1330 48,1257 Q48,1200 66,1141 Z" fill="#fff"/>
<circle cx="235" cy="995" r="56"/><circle cx="235" cy="995" r="30"/><path d="M210,1000 Q235,975 260,1000"/>
<path d="M116,943 L177,943 L177,1146 M131,950 Q118,1060 177,1141 M177,1095 L404,1095" stroke-width="1.2"/>
<circle cx="2025" cy="995" r="56"/><circle cx="2025" cy="995" r="30"/><path d="M2000,1000 Q2025,975 2050,1000"/>
<path d="M2146,943 L2085,943 L2085,1146 M2131,950 Q2144,1060 2085,1141 M2085,1095 L1858,1095" stroke-width="1.2"/>
<circle cx="236" cy="1513" r="56"/><circle cx="236" cy="1513" r="28"/><path d="M211,1518 Q236,1493 261,1518"/>
<circle cx="2026" cy="1513" r="56"/><circle cx="2026" cy="1513" r="28"/><path d="M2001,1518 Q2026,1493 2051,1518"/>
<path d="M120,1460 Q130,1440 180,1440 M300,1445 Q360,1450 360,1490 M2140,1460 Q2130,1440 2080,1440 M1960,1445 Q1900,1450 1900,1490"/>
<path d="M116,1209 L116,1465 M253,1209 L253,1470 M306,1146 L306,1470 M523,1060 L523,1650 M786,1185 L786,1640 M829,1183 L829,1645 M1133,1200 L1133,1650 M2146,1209 L2146,1465 M2009,1209 L2009,1470 M1956,1146 L1956,1470 M1739,1060 L1739,1560 M1476,1185 L1476,1625 M1433,1183 L1433,1625" stroke-width="1.2"/>
<path d="M420,1098 L440,1240 M470,1098 L480,1240 M640,1098 L620,1240 M1622,1098 L1642,1240 M1792,1098 L1782,1240 M1842,1098 L1822,1240" stroke-width="1.1"/>
<path d="M118,1394 C600,1408 800,1500 1131,1500 C1462,1500 1662,1408 2144,1394" />
<path d="M118,1419 C600,1433 800,1525 1131,1525 C1462,1525 1662,1433 2144,1419" stroke-width="1.2"/>
<path d="M118,1444 C600,1465 800,1560 1131,1560 C1462,1560 1662,1465 2144,1444" stroke-width="1.2"/>
<path d="M303,1475 C600,1500 800,1600 1131,1600 C1462,1600 1662,1500 1957,1475" />
<path d="M116,1209 L404,1209 Q430,1222 455,1222 L607,1232 Q680,1220 708,1207 L829,1184 M1433,1184 L1554,1207 Q1582,1220 1655,1232 L1807,1222 Q1832,1222 1858,1209 L2146,1209" stroke-width="1.2"/>
<path d="M116,1146 L175,1146 M2088,1146 L2146,1146 M175,940 L175,1146 M2088,940 L2088,1146 M130,950 Q120,1080 175,1146 M2132,950 Q2142,1080 2088,1146" stroke-width="1.2"/>
<path d="M404,1095 L404,1209 M445,1098 L445,1220 M1858,1095 L1858,1209 M1817,1098 L1817,1220" stroke-width="1.1"/>
<ellipse cx="1130" cy="1114" rx="526" ry="80" fill="#fff"/>
<ellipse cx="1132" cy="1118" rx="368" ry="52" fill="#fff"/>
<ellipse cx="1577.8" cy="1122.6" rx="11" ry="5" fill="#231f20" stroke="none"/>
<ellipse cx="1542.0" cy="1142.6" rx="11" ry="5" fill="#231f20" stroke="none"/>
<ellipse cx="1465.8" cy="1159.9" rx="11" ry="5" fill="#231f20" stroke="none"/>
<ellipse cx="1356.8" cy="1173.0" rx="11" ry="5" fill="#231f20" stroke="none"/>
<ellipse cx="1225.6" cy="1180.5" rx="11" ry="5" fill="#231f20" stroke="none"/>
<ellipse cx="1085.1" cy="1181.7" rx="11" ry="5" fill="#231f20" stroke="none"/>
<ellipse cx="948.9" cy="1176.4" rx="11" ry="5" fill="#231f20" stroke="none"/>
<ellipse cx="830.5" cy="1165.3" rx="11" ry="5" fill="#231f20" stroke="none"/>
<ellipse cx="741.4" cy="1149.3" rx="11" ry="5" fill="#231f20" stroke="none"/>
<ellipse cx="690.3" cy="1130.0" rx="11" ry="5" fill="#231f20" stroke="none"/>
<ellipse cx="682.2" cy="1109.4" rx="11" ry="5" fill="#231f20" stroke="none"/>
<ellipse cx="718.0" cy="1089.4" rx="11" ry="5" fill="#231f20" stroke="none"/>
<ellipse cx="794.2" cy="1072.1" rx="11" ry="5" fill="#231f20" stroke="none"/>
<ellipse cx="903.2" cy="1059.0" rx="11" ry="5" fill="#231f20" stroke="none"/>
<ellipse cx="1034.4" cy="1051.5" rx="11" ry="5" fill="#231f20" stroke="none"/>
<ellipse cx="1174.9" cy="1050.3" rx="11" ry="5" fill="#231f20" stroke="none"/>
<ellipse cx="1311.1" cy="1055.6" rx="11" ry="5" fill="#231f20" stroke="none"/>
<ellipse cx="1429.5" cy="1066.7" rx="11" ry="5" fill="#231f20" stroke="none"/>
<ellipse cx="1518.6" cy="1082.7" rx="11" ry="5" fill="#231f20" stroke="none"/>
<ellipse cx="1569.7" cy="1102.0" rx="11" ry="5" fill="#231f20" stroke="none"/>
<path d="M495,1105 L590,1105 L590,1135 L495,1135 Z M525,1060 L525,1100"/>
<circle cx="1131" cy="1366" r="70" fill="#fff"/><circle cx="1131" cy="1366" r="62"/><circle cx="1131" cy="1366" r="26"/><rect x="1118" y="1353" width="26" height="26"/>
<path d="M800,640 L800,890 L780,890 L780,930 L830,935 L830,970 L900,970 L905,935 L910,640 Z" fill="#fff"/>
<path d="M815,790 L905,790 M815,870 L905,870 M835,935 L900,935 M800,700 L910,700" stroke-width="1.2"/>
<path d="M1320,640 L1320,935 L1335,970 L1400,970 L1405,935 L1440,935 L1440,640 Z" fill="#fff"/>
<path d="M1335,640 Q1340,800 1390,880 L1440,880 M1330,935 L1405,935 M1410,640 L1410,880" stroke-width="1.2"/>
<path d="M905,660 Q920,900 990,1050 L1000,1120 L1200,1120 L1200,1050 L1240,940 L1320,940 L1320,640 Z" fill="#fff"/>
<path d="M925,680 Q940,870 1000,1040 M950,680 Q960,850 1005,990 M1180,650 L1180,940 L1240,940 M1240,650 L1240,940" stroke-width="1.2"/>
<path d="M1000,660 L1000,1120 L1060,1120 L1060,660" fill="#fff"/>
<path d="M1060,660 L1060,1120 Q1110,1150 1170,1140 L1170,660 Z" fill="#fff"/>
<path d="M1106,665 C1135,667 1168,679 1170,691 C1160,699 1130,709 1108,718 M1110,675 C1135,679 1155,687 1158,693 C1150,699 1130,705 1112,711 M1106,718 C1135,720 1168,732 1170,744 C1160,752 1130,762 1108,771 M1110,728 C1135,732 1155,740 1158,746 C1150,752 1130,758 1112,764 M1106,771 C1135,773 1168,785 1170,797 C1160,805 1130,815 1108,824 M1110,781 C1135,785 1155,793 1158,799 C1150,805 1130,811 1112,817 M1106,824 C1135,826 1168,838 1170,850 C1160,858 1130,868 1108,877 M1110,834 C1135,838 1155,846 1158,852 C1150,858 1130,864 1112,870 M1106,877 C1135,879 1168,891 1170,903 C1160,911 1130,921 1108,930 M1110,887 C1135,891 1155,899 1158,905 C1150,911 1130,917 1112,923 M1106,930 C1135,932 1168,944 1170,956 C1160,964 1130,974 1108,983 M1110,940 C1135,944 1155,952 1158,958 C1150,964 1130,970 1112,976 M1106,983 C1135,985 1168,997 1170,1009 C1160,1017 1130,1027 1108,1036 M1110,993 C1135,997 1155,1005 1158,1011 C1150,1017 1130,1023 1112,1029 M1106,1036 C1135,1038 1168,1050 1170,1062 C1160,1070 1130,1080 1108,1089 M1110,1046 C1135,1050 1155,1058 1158,1064 C1150,1070 1130,1076 1112,1082 M1106,1089 C1135,1091 1168,1103 1170,1115 C1160,1123 1130,1133 1108,1142 M1110,1099 C1135,1103 1155,1111 1158,1117 C1150,1123 1130,1129 1112,1135 " stroke-width="2"/>
<path d="M1104,665 L1104,1140 M1172,665 L1172,1140" stroke-width="1.8"/>
<path d="M1175,1055 L1200,1055 L1200,1120 L1175,1120" />
<path d="M660,515 L700,515 L700,560 L720,560 L720,515 L1540,515 L1560,560 L1580,560 L1580,515 L1603,515 L1603,600 L1560,605 Q1400,650 1130,662 Q860,650 735,605 L660,600 Z" fill="#fff"/>
<path d="M660,560 L1603,560 M735,605 Q900,630 1130,635 Q1360,630 1545,600 M735,615 Q900,645 1130,650" stroke-width="1.2"/>
<ellipse cx="752" cy="575" rx="22" ry="6"/>
<ellipse cx="860" cy="575" rx="22" ry="6"/>
<ellipse cx="1080" cy="575" rx="22" ry="6"/>
<ellipse cx="1390" cy="575" rx="22" ry="6"/>
<ellipse cx="1500" cy="575" rx="22" ry="6"/>
<path d="M898,224 L945,224 L945,260 L975,265 L1000,225 Q1220,170 1470,225 L1470,600 L920,600 L898,560 Z" fill="#fff"/>
<ellipse cx="1221" cy="226" rx="253" ry="39" fill="#fff"/>
<path d="M968,226 Q1221,300 1474,226" stroke-width="1.2"/>
<path d="M945,170 L1530,235" stroke-width="1"/>
<path d="M999,199 L1005,191 L1021,191 L1027,199 L1027,209 L999,209 Z" fill="#fff"/>
<path d="M1101,216 L1107,208 L1123,208 L1129,216 L1129,226 L1101,226 Z" fill="#fff"/>
<path d="M1281,219 L1287,211 L1303,211 L1309,219 L1309,229 L1281,229 Z" fill="#fff"/>
<path d="M1386,199 L1392,191 L1408,191 L1414,199 L1414,209 L1386,209 Z" fill="#fff"/>
<rect x="1075" y="333" width="112" height="155" rx="10" fill="#fff" stroke-width="2"/>
<rect x="1083" y="342" width="96" height="138" rx="8" stroke-width="1.2"/>
<path d="M985,270 Q990,300 1000,320 L1010,570 Q1130,600 1250,570 L1260,320 Q1270,290 1260,270 M1030,300 L1220,300" stroke-width="1.2"/>
<path d="M935,420 Q940,340 990,330 M1255,330 Q1330,350 1335,420 L1330,560 M1300,270 L1300,560 M1330,270 L1330,560 M1380,260 L1380,560 M1430,250 L1440,560" stroke-width="1.2"/>
<path d="M915,560 Q930,530 960,520 M1285,560 Q1300,530 1330,525" stroke-width="1.2"/>
<rect x="817" y="420" width="34" height="140" rx="4" fill="#231f20"/><path d="M814,356 L821,350 L847,350 L854,356 L854,374 L814,374 Z" fill="#fff"/><path d="M802,374 L866,374 L866,384 L802,384 Z" fill="#fff"/><path d="M827,350 L827,374 M841,350 L841,374" stroke-width="1"/><path d="M814,396 L821,390 L847,390 L854,396 L854,414 L814,414 Z" fill="#fff"/><path d="M802,414 L866,414 L866,424 L802,424 Z" fill="#fff"/><path d="M827,390 L827,414 M841,390 L841,414" stroke-width="1"/><rect x="817" y="424" width="34" height="0" fill="#fff"/>
<rect x="725" y="450" width="34" height="100" rx="4" fill="#231f20"/><path d="M722,376 L729,370 L755,370 L762,376 L762,394 L722,394 Z" fill="#fff"/><path d="M710,394 L774,394 L774,404 L710,404 Z" fill="#fff"/><path d="M735,370 L735,394 M749,370 L749,394" stroke-width="1"/><path d="M722,416 L729,410 L755,410 L762,416 L762,434 L722,434 Z" fill="#fff"/><path d="M710,434 L774,434 L774,444 L710,444 Z" fill="#fff"/><path d="M735,410 L735,434 M749,410 L749,434" stroke-width="1"/><rect x="725" y="444" width="34" height="6" fill="#fff"/>
<rect x="1508" y="430" width="34" height="120" rx="4" fill="#231f20"/><path d="M1505,371 L1512,365 L1538,365 L1545,371 L1545,389 L1505,389 Z" fill="#fff"/><path d="M1493,389 L1557,389 L1557,399 L1493,399 Z" fill="#fff"/><path d="M1518,365 L1518,389 M1532,365 L1532,389" stroke-width="1"/><path d="M1505,411 L1512,405 L1538,405 L1545,411 L1545,429 L1505,429 Z" fill="#fff"/><path d="M1493,429 L1557,429 L1557,439 L1493,439 Z" fill="#fff"/><path d="M1518,405 L1518,429 M1532,405 L1532,429" stroke-width="1"/><rect x="1508" y="439" width="34" height="0" fill="#fff"/>
<rect x="870" y="500" width="34" height="80" rx="4" fill="#231f20"/><path d="M867,461 L874,455 L900,455 L907,461 L907,479 L867,479 Z" fill="#fff"/><path d="M855,479 L919,479 L919,489 L855,489 Z" fill="#fff"/><path d="M880,455 L880,479 M894,455 L894,479" stroke-width="1"/><rect x="870" y="489" width="34" height="11" fill="#fff"/>
<rect x="949" y="480" width="34" height="105" rx="4" fill="#231f20"/><path d="M946,431 L953,425 L979,425 L986,431 L986,449 L946,449 Z" fill="#fff"/><path d="M934,449 L998,449 L998,459 L934,459 Z" fill="#fff"/><path d="M959,425 L959,449 M973,425 L973,449" stroke-width="1"/><rect x="949" y="459" width="34" height="21" fill="#fff"/>
<rect x="1218" y="490" width="34" height="100" rx="4" fill="#231f20"/><path d="M1215,436 L1222,430 L1248,430 L1255,436 L1255,454 L1215,454 Z" fill="#fff"/><path d="M1203,454 L1267,454 L1267,464 L1203,464 Z" fill="#fff"/><path d="M1228,430 L1228,454 M1242,430 L1242,454" stroke-width="1"/><rect x="1218" y="464" width="34" height="26" fill="#fff"/>
<rect x="1371" y="495" width="34" height="90" rx="4" fill="#231f20"/><path d="M1368,461 L1375,455 L1401,455 L1408,461 L1408,479 L1368,479 Z" fill="#fff"/><path d="M1356,479 L1420,479 L1420,489 L1356,489 Z" fill="#fff"/><path d="M1381,455 L1381,479 M1395,455 L1395,479" stroke-width="1"/><rect x="1371" y="489" width="34" height="6" fill="#fff"/>
<rect x="1447" y="480" width="34" height="90" rx="4" fill="#231f20"/><path d="M1444,451 L1451,445 L1477,445 L1484,451 L1484,469 L1444,469 Z" fill="#fff"/><path d="M1432,469 L1496,469 L1496,479 L1432,479 Z" fill="#fff"/><path d="M1457,445 L1457,469 M1471,445 L1471,469" stroke-width="1"/><rect x="1447" y="479" width="34" height="1" fill="#fff"/>
<line x1="1525" y1="625" x2="1525" y2="1140" stroke-dasharray="26 16"/></g>
<polygon points="2284.5,1705.0 2294.0,1719.0 2289.3,1719.0 2289.3,1742.0 2279.7,1742.0 2279.7,1719.0 2275.0,1719.0" fill="#e41f26" stroke="none"/>
<text x="1993.0" y="1472.2" font-size="18" font-weight="400" letter-spacing="1.6" text-anchor="start" fill="#231f20" stroke="#231f20" stroke-width="0.55" font-family="Liberation Sans, sans-serif">六角头螺栓</text>
<line x1="2089.0" y1="1478.0" x2="2118.3" y2="1508.1" stroke="#e41f26" stroke-width="2.4" stroke-linecap="butt"/><polygon points="2129.4,1519.4 2107.6,1509.9 2118.3,1508.1 2120.5,1497.4" fill="#e41f26" stroke="none"/>
<text x="2385.0" y="1427.7" font-size="18" font-weight="400" letter-spacing="1.6" text-anchor="start" fill="#231f20" stroke="#231f20" stroke-width="0.55" font-family="Liberation Sans, sans-serif">主减总成</text>
<line x1="2385.0" y1="1433.0" x2="2354.5" y2="1463.2" stroke="#e41f26" stroke-width="2.4" stroke-linecap="butt"/><polygon points="2343.3,1474.4 2352.6,1452.5 2354.5,1463.2 2365.3,1465.3" fill="#e41f26" stroke="none"/>
</g></svg></body></html>
